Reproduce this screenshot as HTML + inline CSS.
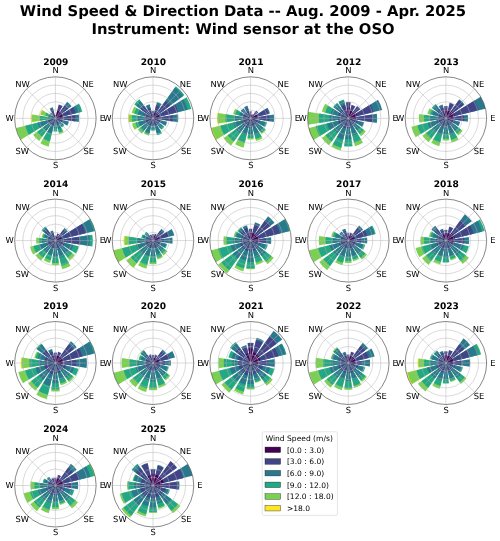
<!DOCTYPE html>
<html><head><meta charset="utf-8"><title>Wind Speed &amp; Direction Data</title>
<style>
html,body{margin:0;padding:0;background:#fff;}
body{width:500px;height:541px;overflow:hidden;}
svg{display:block;}
text{font-family:"DejaVu Sans","Liberation Sans",sans-serif;fill:#000;text-rendering:geometricPrecision;}
.t{font-weight:bold;font-size:14.8px;text-anchor:middle;}
.y{font-weight:bold;font-size:9.05px;text-anchor:middle;}
.d{font-size:8.4px;text-anchor:middle;}
.l{font-size:7.55px;}
.g{fill:none;stroke:#b0b0b0;stroke-width:.6;stroke-opacity:.8;}
.o{fill:none;stroke:#222;stroke-width:.55;}
.b path{stroke:none;}.b path.e{fill:none;stroke:#fff;stroke-width:.07;stroke-linejoin:round;}
</style></head><body>
<svg width="500" height="541" viewBox="0 0 500 541">
<rect width="500" height="541" fill="#fff"/>
<text class="t" x="243.0" y="16.4">Wind Speed &amp; Direction Data -- Aug. 2009 - Apr. 2025</text>
<text class="t" x="243.1" y="33.7">Instrument: Wind sensor at the OSO</text>

<g id="p2009">
<text class="y" x="55.8" y="64.6">2009</text>
<g transform="translate(55.4,118.3) scale(0.982,1)">
<g class="b">
<path fill="#414487" d="M0.00 0.00L-0.53 -3.32A3.36 3.36 0 0 1 0.53 -3.32L0.00 0.00Z"/>
<path fill="#440154" d="M0.00 0.00L-0.32 -1.99A2.02 2.02 0 0 1 0.32 -1.99L0.00 0.00Z"/>
<path class="e" d="M0.00 0.00L-0.53 -3.32A3.36 3.36 0 0 1 0.53 -3.32L0.00 0.00Z"/>
<path fill="#414487" d="M0.00 0.00L3.34 -13.92A14.32 14.32 0 0 1 7.48 -12.21L0.00 0.00Z"/>
<path fill="#440154" d="M0.00 0.00L2.04 -8.52A8.76 8.76 0 0 1 4.58 -7.47L0.00 0.00Z"/>
<path class="e" d="M0.00 0.00L3.34 -13.92A14.32 14.32 0 0 1 7.48 -12.21L0.00 0.00Z"/>
<path fill="#2a788e" d="M0.00 0.00L11.96 -16.46A20.34 20.34 0 0 1 16.46 -11.96L0.00 0.00Z"/>
<path fill="#414487" d="M0.00 0.00L9.57 -13.17A16.28 16.28 0 0 1 13.17 -9.57L0.00 0.00Z"/>
<path fill="#440154" d="M0.00 0.00L4.68 -6.45A7.97 7.97 0 0 1 6.45 -4.68L0.00 0.00Z"/>
<path class="e" d="M0.00 0.00L11.96 -16.46A20.34 20.34 0 0 1 16.46 -11.96L0.00 0.00Z"/>
<path fill="#22a884" d="M0.00 0.00L24.01 -14.71A28.15 28.15 0 0 1 27.38 -6.57L0.00 0.00Z"/>
<path fill="#2a788e" d="M0.00 0.00L22.11 -13.55A25.94 25.94 0 0 1 25.22 -6.05L0.00 0.00Z"/>
<path fill="#414487" d="M0.00 0.00L18.19 -11.14A21.33 21.33 0 0 1 20.74 -4.98L0.00 0.00Z"/>
<path fill="#440154" d="M0.00 0.00L6.69 -4.10A7.85 7.85 0 0 1 7.63 -1.83L0.00 0.00Z"/>
<path class="e" d="M0.00 0.00L24.01 -14.71A28.15 28.15 0 0 1 27.38 -6.57L0.00 0.00Z"/>
<path fill="#2a788e" d="M0.00 0.00L23.83 -3.77A24.12 24.12 0 0 1 23.83 3.77L0.00 0.00Z"/>
<path fill="#414487" d="M0.00 0.00L20.28 -3.21A20.53 20.53 0 0 1 20.28 3.21L0.00 0.00Z"/>
<path fill="#440154" d="M0.00 0.00L6.42 -1.02A6.50 6.50 0 0 1 6.42 1.02L0.00 0.00Z"/>
<path class="e" d="M0.00 0.00L23.83 -3.77A24.12 24.12 0 0 1 23.83 3.77L0.00 0.00Z"/>
<path fill="#2a788e" d="M0.00 0.00L13.77 3.31A14.16 14.16 0 0 1 12.08 7.40L0.00 0.00Z"/>
<path fill="#414487" d="M0.00 0.00L7.47 1.79A7.68 7.68 0 0 1 6.55 4.01L0.00 0.00Z"/>
<path fill="#440154" d="M0.00 0.00L2.99 0.72A3.07 3.07 0 0 1 2.62 1.60L0.00 0.00Z"/>
<path class="e" d="M0.00 0.00L13.77 3.31A14.16 14.16 0 0 1 12.08 7.40L0.00 0.00Z"/>
<path fill="#22a884" d="M0.00 0.00L9.19 6.68A11.36 11.36 0 0 1 6.68 9.19L0.00 0.00Z"/>
<path fill="#2a788e" d="M0.00 0.00L7.96 5.78A9.83 9.83 0 0 1 5.78 7.96L0.00 0.00Z"/>
<path fill="#414487" d="M0.00 0.00L4.53 3.29A5.59 5.59 0 0 1 3.29 4.53L0.00 0.00Z"/>
<path fill="#440154" d="M0.00 0.00L1.92 1.40A2.37 2.37 0 0 1 1.40 1.92L0.00 0.00Z"/>
<path class="e" d="M0.00 0.00L9.19 6.68A11.36 11.36 0 0 1 6.68 9.19L0.00 0.00Z"/>
<path fill="#7ad151" d="M0.00 0.00L8.45 13.79A16.17 16.17 0 0 1 3.78 15.73L0.00 0.00Z"/>
<path fill="#22a884" d="M0.00 0.00L7.66 12.50A14.66 14.66 0 0 1 3.42 14.25L0.00 0.00Z"/>
<path fill="#2a788e" d="M0.00 0.00L5.99 9.77A11.46 11.46 0 0 1 2.67 11.14L0.00 0.00Z"/>
<path fill="#414487" d="M0.00 0.00L3.52 5.75A6.74 6.74 0 0 1 1.57 6.55L0.00 0.00Z"/>
<path fill="#440154" d="M0.00 0.00L1.23 2.01A2.36 2.36 0 0 1 0.55 2.29L0.00 0.00Z"/>
<path class="e" d="M0.00 0.00L8.45 13.79A16.17 16.17 0 0 1 3.78 15.73L0.00 0.00Z"/>
<path fill="#22a884" d="M0.00 0.00L2.08 13.11A13.27 13.27 0 0 1 -2.08 13.11L0.00 0.00Z"/>
<path fill="#2a788e" d="M0.00 0.00L1.58 9.96A10.08 10.08 0 0 1 -1.58 9.96L0.00 0.00Z"/>
<path fill="#414487" d="M0.00 0.00L0.87 5.48A5.54 5.54 0 0 1 -0.87 5.48L0.00 0.00Z"/>
<path fill="#440154" d="M0.00 0.00L0.37 2.32A2.35 2.35 0 0 1 -0.37 2.32L0.00 0.00Z"/>
<path class="e" d="M0.00 0.00L2.08 13.11A13.27 13.27 0 0 1 -2.08 13.11L0.00 0.00Z"/>
<path fill="#7ad151" d="M0.00 0.00L-6.84 28.50A29.31 29.31 0 0 1 -15.32 24.99L0.00 0.00Z"/>
<path fill="#22a884" d="M0.00 0.00L-5.51 22.93A23.58 23.58 0 0 1 -12.32 20.11L0.00 0.00Z"/>
<path fill="#2a788e" d="M0.00 0.00L-3.66 15.23A15.67 15.67 0 0 1 -8.19 13.36L0.00 0.00Z"/>
<path fill="#414487" d="M0.00 0.00L-1.77 7.37A7.58 7.58 0 0 1 -3.96 6.46L0.00 0.00Z"/>
<path fill="#440154" d="M0.00 0.00L-0.55 2.29A2.36 2.36 0 0 1 -1.23 2.01L0.00 0.00Z"/>
<path class="e" d="M0.00 0.00L-6.84 28.50A29.31 29.31 0 0 1 -15.32 24.99L0.00 0.00Z"/>
<path fill="#7ad151" d="M0.00 0.00L-16.54 22.77A28.14 28.14 0 0 1 -22.77 16.54L0.00 0.00Z"/>
<path fill="#22a884" d="M0.00 0.00L-13.45 18.52A22.89 22.89 0 0 1 -18.52 13.45L0.00 0.00Z"/>
<path fill="#2a788e" d="M0.00 0.00L-8.97 12.34A15.26 15.26 0 0 1 -12.34 8.97L0.00 0.00Z"/>
<path fill="#414487" d="M0.00 0.00L-4.48 6.17A7.63 7.63 0 0 1 -6.17 4.48L0.00 0.00Z"/>
<path fill="#440154" d="M0.00 0.00L-1.40 1.92A2.37 2.37 0 0 1 -1.92 1.40L0.00 0.00Z"/>
<path class="e" d="M0.00 0.00L-16.54 22.77A28.14 28.14 0 0 1 -22.77 16.54L0.00 0.00Z"/>
<path fill="#7ad151" d="M0.00 0.00L-35.06 21.49A41.12 41.12 0 0 1 -39.99 9.60L0.00 0.00Z"/>
<path fill="#22a884" d="M0.00 0.00L-26.92 16.49A31.57 31.57 0 0 1 -30.70 7.37L0.00 0.00Z"/>
<path fill="#2a788e" d="M0.00 0.00L-15.71 9.63A18.43 18.43 0 0 1 -17.92 4.30L0.00 0.00Z"/>
<path fill="#414487" d="M0.00 0.00L-7.27 4.46A8.53 8.53 0 0 1 -8.30 1.99L0.00 0.00Z"/>
<path fill="#440154" d="M0.00 0.00L-2.04 1.25A2.39 2.39 0 0 1 -2.32 0.56L0.00 0.00Z"/>
<path class="e" d="M0.00 0.00L-35.06 21.49A41.12 41.12 0 0 1 -39.99 9.60L0.00 0.00Z"/>
<path fill="#fde725" d="M0.00 0.00L-24.67 3.91A24.98 24.98 0 0 1 -24.67 -3.91L0.00 0.00Z"/>
<path fill="#7ad151" d="M0.00 0.00L-23.66 3.75A23.95 23.95 0 0 1 -23.66 -3.75L0.00 0.00Z"/>
<path fill="#22a884" d="M0.00 0.00L-15.72 2.49A15.91 15.91 0 0 1 -15.72 -2.49L0.00 0.00Z"/>
<path fill="#2a788e" d="M0.00 0.00L-8.79 1.39A8.90 8.90 0 0 1 -8.79 -1.39L0.00 0.00Z"/>
<path fill="#414487" d="M0.00 0.00L-4.22 0.67A4.28 4.28 0 0 1 -4.22 -0.67L0.00 0.00Z"/>
<path fill="#440154" d="M0.00 0.00L-2.03 0.32A2.05 2.05 0 0 1 -2.03 -0.32L0.00 0.00Z"/>
<path class="e" d="M0.00 0.00L-24.67 3.91A24.98 24.98 0 0 1 -24.67 -3.91L0.00 0.00Z"/>
<path fill="#fde725" d="M0.00 0.00L-15.93 -3.82A16.38 16.38 0 0 1 -13.97 -8.56L0.00 0.00Z"/>
<path fill="#7ad151" d="M0.00 0.00L-15.10 -3.62A15.53 15.53 0 0 1 -13.24 -8.11L0.00 0.00Z"/>
<path fill="#22a884" d="M0.00 0.00L-10.29 -2.47A10.58 10.58 0 0 1 -9.02 -5.53L0.00 0.00Z"/>
<path fill="#2a788e" d="M0.00 0.00L-6.97 -1.67A7.17 7.17 0 0 1 -6.11 -3.74L0.00 0.00Z"/>
<path fill="#414487" d="M0.00 0.00L-3.65 -0.88A3.75 3.75 0 0 1 -3.20 -1.96L0.00 0.00Z"/>
<path fill="#440154" d="M0.00 0.00L-1.99 -0.48A2.05 2.05 0 0 1 -1.75 -1.07L0.00 0.00Z"/>
<path class="e" d="M0.00 0.00L-15.93 -3.82A16.38 16.38 0 0 1 -13.97 -8.56L0.00 0.00Z"/>
<path fill="#2a788e" d="M0.00 0.00L-5.76 -4.19A7.12 7.12 0 0 1 -4.19 -5.76L0.00 0.00Z"/>
<path fill="#414487" d="M0.00 0.00L-2.74 -1.99A3.39 3.39 0 0 1 -1.99 -2.74L0.00 0.00Z"/>
<path fill="#440154" d="M0.00 0.00L-1.65 -1.20A2.03 2.03 0 0 1 -1.20 -1.65L0.00 0.00Z"/>
<path class="e" d="M0.00 0.00L-5.76 -4.19A7.12 7.12 0 0 1 -4.19 -5.76L0.00 0.00Z"/>
<path fill="#2a788e" d="M0.00 0.00L-5.90 -9.62A11.29 11.29 0 0 1 -2.63 -10.97L0.00 0.00Z"/>
<path fill="#414487" d="M0.00 0.00L-4.93 -8.04A9.43 9.43 0 0 1 -2.20 -9.17L0.00 0.00Z"/>
<path fill="#440154" d="M0.00 0.00L-1.94 -3.16A3.71 3.71 0 0 1 -0.87 -3.60L0.00 0.00Z"/>
<path class="e" d="M0.00 0.00L-5.90 -9.62A11.29 11.29 0 0 1 -2.63 -10.97L0.00 0.00Z"/>
</g>
<circle class="g" cx="0" cy="0" r="8.30"/><circle class="g" cx="0" cy="0" r="16.60"/><circle class="g" cx="0" cy="0" r="24.90"/><circle class="g" cx="0" cy="0" r="33.20"/><path class="g" d="M0 0L0.00 -41.50M0 0L29.34 -29.34M0 0L41.50 -0.00M0 0L29.34 29.34M0 0L0.00 41.50M0 0L-29.34 29.34M0 0L-41.50 0.00M0 0L-29.34 -29.34"/><circle class="o" cx="0" cy="0" r="41.50"/>
</g>
<text class="d" x="55.6" y="73.3">N</text>
<text class="d" x="88.0" y="87.2">NE</text>
<text class="d" x="102.3" y="120.9">E</text>
<text class="d" x="88.7" y="154.3">SE</text>
<text class="d" x="55.6" y="168.2">S</text>
<text class="d" x="22.3" y="154.3">SW</text>
<text class="d" x="9.7" y="120.9">W</text>
<text class="d" x="22.5" y="87.2">NW</text>
</g>
<g id="p2010">
<text class="y" x="153.4" y="64.6">2010</text>
<g transform="translate(153.0,118.3) scale(0.982,1)">
<g class="b">
<path fill="#414487" d="M0.00 0.00L-1.13 -7.14A7.22 7.22 0 0 1 1.13 -7.14L0.00 0.00Z"/>
<path fill="#440154" d="M0.00 0.00L-0.68 -4.31A4.37 4.37 0 0 1 0.68 -4.31L0.00 0.00Z"/>
<path class="e" d="M0.00 0.00L-1.13 -7.14A7.22 7.22 0 0 1 1.13 -7.14L0.00 0.00Z"/>
<path fill="#2a788e" d="M0.00 0.00L3.93 -16.38A16.85 16.85 0 0 1 8.80 -14.36L0.00 0.00Z"/>
<path fill="#414487" d="M0.00 0.00L3.11 -12.94A13.31 13.31 0 0 1 6.95 -11.35L0.00 0.00Z"/>
<path fill="#440154" d="M0.00 0.00L1.30 -5.41A5.56 5.56 0 0 1 2.90 -4.74L0.00 0.00Z"/>
<path class="e" d="M0.00 0.00L3.93 -16.38A16.85 16.85 0 0 1 8.80 -14.36L0.00 0.00Z"/>
<path fill="#22a884" d="M0.00 0.00L23.22 -31.96A39.50 39.50 0 0 1 31.96 -23.22L0.00 0.00Z"/>
<path fill="#2a788e" d="M0.00 0.00L22.42 -30.86A38.15 38.15 0 0 1 30.86 -22.42L0.00 0.00Z"/>
<path fill="#414487" d="M0.00 0.00L12.66 -17.42A21.53 21.53 0 0 1 17.42 -12.66L0.00 0.00Z"/>
<path fill="#440154" d="M0.00 0.00L3.69 -5.07A6.27 6.27 0 0 1 5.07 -3.69L0.00 0.00Z"/>
<path class="e" d="M0.00 0.00L23.22 -31.96A39.50 39.50 0 0 1 31.96 -23.22L0.00 0.00Z"/>
<path fill="#22a884" d="M0.00 0.00L34.19 -20.95A40.10 40.10 0 0 1 38.99 -9.36L0.00 0.00Z"/>
<path fill="#2a788e" d="M0.00 0.00L30.99 -18.99A36.35 36.35 0 0 1 35.34 -8.48L0.00 0.00Z"/>
<path fill="#414487" d="M0.00 0.00L22.41 -13.73A26.28 26.28 0 0 1 25.55 -6.13L0.00 0.00Z"/>
<path fill="#440154" d="M0.00 0.00L5.53 -3.39A6.48 6.48 0 0 1 6.30 -1.51L0.00 0.00Z"/>
<path class="e" d="M0.00 0.00L34.19 -20.95A40.10 40.10 0 0 1 38.99 -9.36L0.00 0.00Z"/>
<path fill="#2a788e" d="M0.00 0.00L25.52 -4.04A25.84 25.84 0 0 1 25.52 4.04L0.00 0.00Z"/>
<path fill="#414487" d="M0.00 0.00L19.94 -3.16A20.19 20.19 0 0 1 19.94 3.16L0.00 0.00Z"/>
<path fill="#440154" d="M0.00 0.00L5.58 -0.88A5.65 5.65 0 0 1 5.58 0.88L0.00 0.00Z"/>
<path class="e" d="M0.00 0.00L25.52 -4.04A25.84 25.84 0 0 1 25.52 4.04L0.00 0.00Z"/>
<path fill="#2a788e" d="M0.00 0.00L14.44 3.47A14.85 14.85 0 0 1 12.66 7.76L0.00 0.00Z"/>
<path fill="#414487" d="M0.00 0.00L7.96 1.91A8.19 8.19 0 0 1 6.98 4.28L0.00 0.00Z"/>
<path fill="#440154" d="M0.00 0.00L2.82 0.68A2.90 2.90 0 0 1 2.47 1.52L0.00 0.00Z"/>
<path class="e" d="M0.00 0.00L14.44 3.47A14.85 14.85 0 0 1 12.66 7.76L0.00 0.00Z"/>
<path fill="#22a884" d="M0.00 0.00L11.52 8.37A14.24 14.24 0 0 1 8.37 11.52L0.00 0.00Z"/>
<path fill="#2a788e" d="M0.00 0.00L9.88 7.17A12.21 12.21 0 0 1 7.17 9.88L0.00 0.00Z"/>
<path fill="#414487" d="M0.00 0.00L6.17 4.48A7.63 7.63 0 0 1 4.48 6.17L0.00 0.00Z"/>
<path fill="#440154" d="M0.00 0.00L2.19 1.59A2.71 2.71 0 0 1 1.59 2.19L0.00 0.00Z"/>
<path class="e" d="M0.00 0.00L11.52 8.37A14.24 14.24 0 0 1 8.37 11.52L0.00 0.00Z"/>
<path fill="#22a884" d="M0.00 0.00L9.15 14.94A17.52 17.52 0 0 1 4.09 17.04L0.00 0.00Z"/>
<path fill="#2a788e" d="M0.00 0.00L8.10 13.21A15.50 15.50 0 0 1 3.62 15.07L0.00 0.00Z"/>
<path fill="#414487" d="M0.00 0.00L4.22 6.89A8.09 8.09 0 0 1 1.89 7.86L0.00 0.00Z"/>
<path fill="#440154" d="M0.00 0.00L1.41 2.30A2.70 2.70 0 0 1 0.63 2.62L0.00 0.00Z"/>
<path class="e" d="M0.00 0.00L9.15 14.94A17.52 17.52 0 0 1 4.09 17.04L0.00 0.00Z"/>
<path fill="#22a884" d="M0.00 0.00L1.94 12.28A12.43 12.43 0 0 1 -1.94 12.28L0.00 0.00Z"/>
<path fill="#2a788e" d="M0.00 0.00L1.73 10.95A11.09 11.09 0 0 1 -1.73 10.95L0.00 0.00Z"/>
<path fill="#414487" d="M0.00 0.00L1.13 7.14A7.22 7.22 0 0 1 -1.13 7.14L0.00 0.00Z"/>
<path fill="#440154" d="M0.00 0.00L0.42 2.66A2.69 2.69 0 0 1 -0.42 2.66L0.00 0.00Z"/>
<path class="e" d="M0.00 0.00L1.94 12.28A12.43 12.43 0 0 1 -1.94 12.28L0.00 0.00Z"/>
<path fill="#7ad151" d="M0.00 0.00L-4.17 17.36A17.86 17.86 0 0 1 -9.33 15.23L0.00 0.00Z"/>
<path fill="#22a884" d="M0.00 0.00L-3.85 16.05A16.51 16.51 0 0 1 -8.63 14.08L0.00 0.00Z"/>
<path fill="#2a788e" d="M0.00 0.00L-3.54 14.74A15.16 15.16 0 0 1 -7.92 12.93L0.00 0.00Z"/>
<path fill="#414487" d="M0.00 0.00L-1.97 8.19A8.42 8.42 0 0 1 -4.40 7.18L0.00 0.00Z"/>
<path fill="#440154" d="M0.00 0.00L-0.63 2.62A2.70 2.70 0 0 1 -1.41 2.30L0.00 0.00Z"/>
<path class="e" d="M0.00 0.00L-4.17 17.36A17.86 17.86 0 0 1 -9.33 15.23L0.00 0.00Z"/>
<path fill="#7ad151" d="M0.00 0.00L-11.26 15.50A19.16 19.16 0 0 1 -15.50 11.26L0.00 0.00Z"/>
<path fill="#22a884" d="M0.00 0.00L-9.97 13.72A16.95 16.95 0 0 1 -13.72 9.97L0.00 0.00Z"/>
<path fill="#2a788e" d="M0.00 0.00L-8.47 11.66A14.41 14.41 0 0 1 -11.66 8.47L0.00 0.00Z"/>
<path fill="#414487" d="M0.00 0.00L-4.98 6.86A8.48 8.48 0 0 1 -6.86 4.98L0.00 0.00Z"/>
<path fill="#440154" d="M0.00 0.00L-1.59 2.19A2.71 2.71 0 0 1 -2.19 1.59L0.00 0.00Z"/>
<path class="e" d="M0.00 0.00L-11.26 15.50A19.16 19.16 0 0 1 -15.50 11.26L0.00 0.00Z"/>
<path fill="#7ad151" d="M0.00 0.00L-18.77 11.50A22.01 22.01 0 0 1 -21.40 5.14L0.00 0.00Z"/>
<path fill="#22a884" d="M0.00 0.00L-15.71 9.63A18.43 18.43 0 0 1 -17.92 4.30L0.00 0.00Z"/>
<path fill="#2a788e" d="M0.00 0.00L-12.80 7.85A15.02 15.02 0 0 1 -14.60 3.51L0.00 0.00Z"/>
<path fill="#414487" d="M0.00 0.00L-7.57 4.64A8.87 8.87 0 0 1 -8.63 2.07L0.00 0.00Z"/>
<path fill="#440154" d="M0.00 0.00L-2.33 1.43A2.73 2.73 0 0 1 -2.65 0.64L0.00 0.00Z"/>
<path class="e" d="M0.00 0.00L-18.77 11.50A22.01 22.01 0 0 1 -21.40 5.14L0.00 0.00Z"/>
<path fill="#fde725" d="M0.00 0.00L-25.18 3.99A25.49 25.49 0 0 1 -25.18 -3.99L0.00 0.00Z"/>
<path fill="#7ad151" d="M0.00 0.00L-24.17 3.83A24.47 24.47 0 0 1 -24.17 -3.83L0.00 0.00Z"/>
<path fill="#22a884" d="M0.00 0.00L-21.12 3.35A21.39 21.39 0 0 1 -21.12 -3.35L0.00 0.00Z"/>
<path fill="#2a788e" d="M0.00 0.00L-15.55 2.46A15.74 15.74 0 0 1 -15.55 -2.46L0.00 0.00Z"/>
<path fill="#414487" d="M0.00 0.00L-8.79 1.39A8.90 8.90 0 0 1 -8.79 -1.39L0.00 0.00Z"/>
<path fill="#440154" d="M0.00 0.00L-2.70 0.43A2.74 2.74 0 0 1 -2.70 -0.43L0.00 0.00Z"/>
<path class="e" d="M0.00 0.00L-25.18 3.99A25.49 25.49 0 0 1 -25.18 -3.99L0.00 0.00Z"/>
<path fill="#7ad151" d="M0.00 0.00L-21.74 -5.22A22.35 22.35 0 0 1 -19.06 -11.68L0.00 0.00Z"/>
<path fill="#22a884" d="M0.00 0.00L-19.08 -4.58A19.62 19.62 0 0 1 -16.73 -10.25L0.00 0.00Z"/>
<path fill="#2a788e" d="M0.00 0.00L-16.26 -3.90A16.72 16.72 0 0 1 -14.26 -8.74L0.00 0.00Z"/>
<path fill="#414487" d="M0.00 0.00L-9.13 -2.19A9.38 9.38 0 0 1 -8.00 -4.90L0.00 0.00Z"/>
<path fill="#440154" d="M0.00 0.00L-2.65 -0.64A2.73 2.73 0 0 1 -2.33 -1.43L0.00 0.00Z"/>
<path class="e" d="M0.00 0.00L-21.74 -5.22A22.35 22.35 0 0 1 -19.06 -11.68L0.00 0.00Z"/>
<path fill="#22a884" d="M0.00 0.00L-19.06 -13.85A23.57 23.57 0 0 1 -13.85 -19.06L0.00 0.00Z"/>
<path fill="#2a788e" d="M0.00 0.00L-17.14 -12.46A21.19 21.19 0 0 1 -12.46 -17.14L0.00 0.00Z"/>
<path fill="#414487" d="M0.00 0.00L-12.62 -9.17A15.60 15.60 0 0 1 -9.17 -12.62L0.00 0.00Z"/>
<path fill="#440154" d="M0.00 0.00L-2.47 -1.79A3.05 3.05 0 0 1 -1.79 -2.47L0.00 0.00Z"/>
<path class="e" d="M0.00 0.00L-19.06 -13.85A23.57 23.57 0 0 1 -13.85 -19.06L0.00 0.00Z"/>
<path fill="#2a788e" d="M0.00 0.00L-7.57 -12.35A14.49 14.49 0 0 1 -3.38 -14.09L0.00 0.00Z"/>
<path fill="#414487" d="M0.00 0.00L-5.63 -9.19A10.78 10.78 0 0 1 -2.52 -10.48L0.00 0.00Z"/>
<path fill="#440154" d="M0.00 0.00L-1.94 -3.16A3.71 3.71 0 0 1 -0.87 -3.60L0.00 0.00Z"/>
<path class="e" d="M0.00 0.00L-7.57 -12.35A14.49 14.49 0 0 1 -3.38 -14.09L0.00 0.00Z"/>
</g>
<circle class="g" cx="0" cy="0" r="8.30"/><circle class="g" cx="0" cy="0" r="16.60"/><circle class="g" cx="0" cy="0" r="24.90"/><circle class="g" cx="0" cy="0" r="33.20"/><path class="g" d="M0 0L0.00 -41.50M0 0L29.34 -29.34M0 0L41.50 -0.00M0 0L29.34 29.34M0 0L0.00 41.50M0 0L-29.34 29.34M0 0L-41.50 0.00M0 0L-29.34 -29.34"/><circle class="o" cx="0" cy="0" r="41.50"/>
</g>
<text class="d" x="153.2" y="73.3">N</text>
<text class="d" x="185.6" y="87.2">NE</text>
<text class="d" x="199.9" y="120.9">E</text>
<text class="d" x="186.2" y="154.3">SE</text>
<text class="d" x="153.2" y="168.2">S</text>
<text class="d" x="119.9" y="154.3">SW</text>
<text class="d" x="107.3" y="120.9">W</text>
<text class="d" x="120.2" y="87.2">NW</text>
</g>
<g id="p2011">
<text class="y" x="251.0" y="64.6">2011</text>
<g transform="translate(250.6,118.3) scale(0.982,1)">
<g class="b">
<path fill="#414487" d="M0.00 0.00L-1.10 -6.97A7.06 7.06 0 0 1 1.10 -6.97L0.00 0.00Z"/>
<path fill="#440154" d="M0.00 0.00L-0.60 -3.82A3.86 3.86 0 0 1 0.60 -3.82L0.00 0.00Z"/>
<path class="e" d="M0.00 0.00L-1.10 -6.97A7.06 7.06 0 0 1 1.10 -6.97L0.00 0.00Z"/>
<path fill="#414487" d="M0.00 0.00L1.06 -4.42A4.55 4.55 0 0 1 2.38 -3.88L0.00 0.00Z"/>
<path fill="#440154" d="M0.00 0.00L0.71 -2.95A3.03 3.03 0 0 1 1.58 -2.59L0.00 0.00Z"/>
<path class="e" d="M0.00 0.00L1.06 -4.42A4.55 4.55 0 0 1 2.38 -3.88L0.00 0.00Z"/>
<path fill="#414487" d="M0.00 0.00L5.68 -7.82A9.66 9.66 0 0 1 7.82 -5.68L0.00 0.00Z"/>
<path fill="#440154" d="M0.00 0.00L2.49 -3.43A4.24 4.24 0 0 1 3.43 -2.49L0.00 0.00Z"/>
<path class="e" d="M0.00 0.00L5.68 -7.82A9.66 9.66 0 0 1 7.82 -5.68L0.00 0.00Z"/>
<path fill="#2a788e" d="M0.00 0.00L17.31 -10.61A20.31 20.31 0 0 1 19.74 -4.74L0.00 0.00Z"/>
<path fill="#414487" d="M0.00 0.00L16.15 -9.90A18.94 18.94 0 0 1 18.42 -4.42L0.00 0.00Z"/>
<path fill="#440154" d="M0.00 0.00L5.97 -3.66A7.00 7.00 0 0 1 6.80 -1.63L0.00 0.00Z"/>
<path class="e" d="M0.00 0.00L17.31 -10.61A20.31 20.31 0 0 1 19.74 -4.74L0.00 0.00Z"/>
<path fill="#2a788e" d="M0.00 0.00L23.66 -3.75A23.95 23.95 0 0 1 23.66 3.75L0.00 0.00Z"/>
<path fill="#414487" d="M0.00 0.00L18.93 -3.00A19.16 19.16 0 0 1 18.93 3.00L0.00 0.00Z"/>
<path fill="#440154" d="M0.00 0.00L6.08 -0.96A6.16 6.16 0 0 1 6.08 0.96L0.00 0.00Z"/>
<path class="e" d="M0.00 0.00L23.66 -3.75A23.95 23.95 0 0 1 23.66 3.75L0.00 0.00Z"/>
<path fill="#22a884" d="M0.00 0.00L16.76 4.02A17.23 17.23 0 0 1 14.69 9.00L0.00 0.00Z"/>
<path fill="#2a788e" d="M0.00 0.00L14.93 3.59A15.36 15.36 0 0 1 13.09 8.02L0.00 0.00Z"/>
<path fill="#414487" d="M0.00 0.00L9.29 2.23A9.56 9.56 0 0 1 8.15 4.99L0.00 0.00Z"/>
<path fill="#440154" d="M0.00 0.00L2.99 0.72A3.07 3.07 0 0 1 2.62 1.60L0.00 0.00Z"/>
<path class="e" d="M0.00 0.00L16.76 4.02A17.23 17.23 0 0 1 14.69 9.00L0.00 0.00Z"/>
<path fill="#7ad151" d="M0.00 0.00L15.77 11.46A19.50 19.50 0 0 1 11.46 15.77L0.00 0.00Z"/>
<path fill="#22a884" d="M0.00 0.00L14.81 10.76A18.31 18.31 0 0 1 10.76 14.81L0.00 0.00Z"/>
<path fill="#2a788e" d="M0.00 0.00L13.03 9.47A16.11 16.11 0 0 1 9.47 13.03L0.00 0.00Z"/>
<path fill="#414487" d="M0.00 0.00L7.13 5.18A8.82 8.82 0 0 1 5.18 7.13L0.00 0.00Z"/>
<path fill="#440154" d="M0.00 0.00L2.19 1.59A2.71 2.71 0 0 1 1.59 2.19L0.00 0.00Z"/>
<path class="e" d="M0.00 0.00L15.77 11.46A19.50 19.50 0 0 1 11.46 15.77L0.00 0.00Z"/>
<path fill="#7ad151" d="M0.00 0.00L12.23 19.96A23.42 23.42 0 0 1 5.47 22.77L0.00 0.00Z"/>
<path fill="#22a884" d="M0.00 0.00L11.18 18.24A21.39 21.39 0 0 1 4.99 20.80L0.00 0.00Z"/>
<path fill="#2a788e" d="M0.00 0.00L8.98 14.65A17.18 17.18 0 0 1 4.01 16.71L0.00 0.00Z"/>
<path fill="#414487" d="M0.00 0.00L4.58 7.47A8.76 8.76 0 0 1 2.04 8.52L0.00 0.00Z"/>
<path fill="#440154" d="M0.00 0.00L1.41 2.30A2.70 2.70 0 0 1 0.63 2.62L0.00 0.00Z"/>
<path class="e" d="M0.00 0.00L12.23 19.96A23.42 23.42 0 0 1 5.47 22.77L0.00 0.00Z"/>
<path fill="#7ad151" d="M0.00 0.00L3.31 20.91A21.17 21.17 0 0 1 -3.31 20.91L0.00 0.00Z"/>
<path fill="#22a884" d="M0.00 0.00L3.08 19.42A19.66 19.66 0 0 1 -3.08 19.42L0.00 0.00Z"/>
<path fill="#2a788e" d="M0.00 0.00L2.58 16.26A16.47 16.47 0 0 1 -2.58 16.26L0.00 0.00Z"/>
<path fill="#414487" d="M0.00 0.00L1.45 9.13A9.24 9.24 0 0 1 -1.45 9.13L0.00 0.00Z"/>
<path fill="#440154" d="M0.00 0.00L0.42 2.66A2.69 2.69 0 0 1 -0.42 2.66L0.00 0.00Z"/>
<path class="e" d="M0.00 0.00L3.31 20.91A21.17 21.17 0 0 1 -3.31 20.91L0.00 0.00Z"/>
<path fill="#7ad151" d="M0.00 0.00L-7.08 29.48A30.32 30.32 0 0 1 -15.84 25.85L0.00 0.00Z"/>
<path fill="#22a884" d="M0.00 0.00L-5.90 24.57A25.27 25.27 0 0 1 -13.20 21.54L0.00 0.00Z"/>
<path fill="#2a788e" d="M0.00 0.00L-4.01 16.71A17.18 17.18 0 0 1 -8.98 14.65L0.00 0.00Z"/>
<path fill="#414487" d="M0.00 0.00L-2.28 9.50A9.77 9.77 0 0 1 -5.11 8.33L0.00 0.00Z"/>
<path fill="#440154" d="M0.00 0.00L-0.63 2.62A2.70 2.70 0 0 1 -1.41 2.30L0.00 0.00Z"/>
<path class="e" d="M0.00 0.00L-7.08 29.48A30.32 30.32 0 0 1 -15.84 25.85L0.00 0.00Z"/>
<path fill="#7ad151" d="M0.00 0.00L-20.03 27.57A34.08 34.08 0 0 1 -27.57 20.03L0.00 0.00Z"/>
<path fill="#22a884" d="M0.00 0.00L-16.94 23.32A28.82 28.82 0 0 1 -23.32 16.94L0.00 0.00Z"/>
<path fill="#2a788e" d="M0.00 0.00L-10.76 14.81A18.31 18.31 0 0 1 -14.81 10.76L0.00 0.00Z"/>
<path fill="#414487" d="M0.00 0.00L-5.58 7.68A9.49 9.49 0 0 1 -7.68 5.58L0.00 0.00Z"/>
<path fill="#440154" d="M0.00 0.00L-1.59 2.19A2.71 2.71 0 0 1 -2.19 1.59L0.00 0.00Z"/>
<path class="e" d="M0.00 0.00L-20.03 27.57A34.08 34.08 0 0 1 -27.57 20.03L0.00 0.00Z"/>
<path fill="#fde725" d="M0.00 0.00L-35.26 21.61A41.35 41.35 0 0 1 -40.21 9.65L0.00 0.00Z"/>
<path fill="#7ad151" d="M0.00 0.00L-34.63 21.22A40.61 40.61 0 0 1 -39.49 9.48L0.00 0.00Z"/>
<path fill="#22a884" d="M0.00 0.00L-26.92 16.49A31.57 31.57 0 0 1 -30.70 7.37L0.00 0.00Z"/>
<path fill="#2a788e" d="M0.00 0.00L-15.42 9.45A18.09 18.09 0 0 1 -17.59 4.22L0.00 0.00Z"/>
<path fill="#414487" d="M0.00 0.00L-8.29 5.08A9.73 9.73 0 0 1 -9.46 2.27L0.00 0.00Z"/>
<path fill="#440154" d="M0.00 0.00L-2.33 1.43A2.73 2.73 0 0 1 -2.65 0.64L0.00 0.00Z"/>
<path class="e" d="M0.00 0.00L-35.26 21.61A41.35 41.35 0 0 1 -40.21 9.65L0.00 0.00Z"/>
<path fill="#fde725" d="M0.00 0.00L-33.97 5.38A34.39 34.39 0 0 1 -33.97 -5.38L0.00 0.00Z"/>
<path fill="#7ad151" d="M0.00 0.00L-33.29 5.27A33.71 33.71 0 0 1 -33.29 -5.27L0.00 0.00Z"/>
<path fill="#22a884" d="M0.00 0.00L-25.35 4.01A25.66 25.66 0 0 1 -25.35 -4.01L0.00 0.00Z"/>
<path fill="#2a788e" d="M0.00 0.00L-16.05 2.54A16.25 16.25 0 0 1 -16.05 -2.54L0.00 0.00Z"/>
<path fill="#414487" d="M0.00 0.00L-8.11 1.28A8.21 8.21 0 0 1 -8.11 -1.28L0.00 0.00Z"/>
<path fill="#440154" d="M0.00 0.00L-2.70 0.43A2.74 2.74 0 0 1 -2.70 -0.43L0.00 0.00Z"/>
<path class="e" d="M0.00 0.00L-33.97 5.38A34.39 34.39 0 0 1 -33.97 -5.38L0.00 0.00Z"/>
<path fill="#7ad151" d="M0.00 0.00L-17.92 -4.30A18.43 18.43 0 0 1 -15.71 -9.63L0.00 0.00Z"/>
<path fill="#22a884" d="M0.00 0.00L-15.76 -3.78A16.21 16.21 0 0 1 -13.82 -8.47L0.00 0.00Z"/>
<path fill="#2a788e" d="M0.00 0.00L-11.61 -2.79A11.94 11.94 0 0 1 -10.18 -6.24L0.00 0.00Z"/>
<path fill="#414487" d="M0.00 0.00L-8.30 -1.99A8.53 8.53 0 0 1 -7.27 -4.46L0.00 0.00Z"/>
<path fill="#440154" d="M0.00 0.00L-2.65 -0.64A2.73 2.73 0 0 1 -2.33 -1.43L0.00 0.00Z"/>
<path class="e" d="M0.00 0.00L-17.92 -4.30A18.43 18.43 0 0 1 -15.71 -9.63L0.00 0.00Z"/>
<path fill="#2a788e" d="M0.00 0.00L-10.01 -7.27A12.38 12.38 0 0 1 -7.27 -10.01L0.00 0.00Z"/>
<path fill="#414487" d="M0.00 0.00L-6.17 -4.48A7.63 7.63 0 0 1 -4.48 -6.17L0.00 0.00Z"/>
<path fill="#440154" d="M0.00 0.00L-1.92 -1.40A2.37 2.37 0 0 1 -1.40 -1.92L0.00 0.00Z"/>
<path class="e" d="M0.00 0.00L-10.01 -7.27A12.38 12.38 0 0 1 -7.27 -10.01L0.00 0.00Z"/>
<path fill="#2a788e" d="M0.00 0.00L-6.69 -10.92A12.80 12.80 0 0 1 -2.99 -12.45L0.00 0.00Z"/>
<path fill="#414487" d="M0.00 0.00L-5.11 -8.33A9.77 9.77 0 0 1 -2.28 -9.50L0.00 0.00Z"/>
<path fill="#440154" d="M0.00 0.00L-1.41 -2.30A2.70 2.70 0 0 1 -0.63 -2.62L0.00 0.00Z"/>
<path class="e" d="M0.00 0.00L-6.69 -10.92A12.80 12.80 0 0 1 -2.99 -12.45L0.00 0.00Z"/>
</g>
<circle class="g" cx="0" cy="0" r="8.30"/><circle class="g" cx="0" cy="0" r="16.60"/><circle class="g" cx="0" cy="0" r="24.90"/><circle class="g" cx="0" cy="0" r="33.20"/><path class="g" d="M0 0L0.00 -41.50M0 0L29.34 -29.34M0 0L41.50 -0.00M0 0L29.34 29.34M0 0L0.00 41.50M0 0L-29.34 29.34M0 0L-41.50 0.00M0 0L-29.34 -29.34"/><circle class="o" cx="0" cy="0" r="41.50"/>
</g>
<text class="d" x="250.8" y="73.3">N</text>
<text class="d" x="283.2" y="87.2">NE</text>
<text class="d" x="297.5" y="120.9">E</text>
<text class="d" x="283.9" y="154.3">SE</text>
<text class="d" x="250.8" y="168.2">S</text>
<text class="d" x="217.5" y="154.3">SW</text>
<text class="d" x="204.9" y="120.9">W</text>
<text class="d" x="217.8" y="87.2">NW</text>
</g>
<g id="p2012">
<text class="y" x="348.7" y="64.6">2012</text>
<g transform="translate(348.3,118.3) scale(0.982,1)">
<g class="b">
<path fill="#414487" d="M0.00 0.00L-2.55 -16.10A16.30 16.30 0 0 1 2.55 -16.10L0.00 0.00Z"/>
<path fill="#440154" d="M0.00 0.00L-1.68 -10.62A10.75 10.75 0 0 1 1.68 -10.62L0.00 0.00Z"/>
<path class="e" d="M0.00 0.00L-2.55 -16.10A16.30 16.30 0 0 1 2.55 -16.10L0.00 0.00Z"/>
<path fill="#414487" d="M0.00 0.00L3.22 -13.43A13.81 13.81 0 0 1 7.22 -11.78L0.00 0.00Z"/>
<path fill="#440154" d="M0.00 0.00L1.89 -7.86A8.09 8.09 0 0 1 4.22 -6.89L0.00 0.00Z"/>
<path class="e" d="M0.00 0.00L3.22 -13.43A13.81 13.81 0 0 1 7.22 -11.78L0.00 0.00Z"/>
<path fill="#414487" d="M0.00 0.00L8.97 -12.34A15.26 15.26 0 0 1 12.34 -8.97L0.00 0.00Z"/>
<path fill="#440154" d="M0.00 0.00L5.18 -7.13A8.82 8.82 0 0 1 7.13 -5.18L0.00 0.00Z"/>
<path class="e" d="M0.00 0.00L8.97 -12.34A15.26 15.26 0 0 1 12.34 -8.97L0.00 0.00Z"/>
<path fill="#2a788e" d="M0.00 0.00L30.26 -18.54A35.49 35.49 0 0 1 34.51 -8.29L0.00 0.00Z"/>
<path fill="#414487" d="M0.00 0.00L22.55 -13.82A26.45 26.45 0 0 1 25.72 -6.17L0.00 0.00Z"/>
<path fill="#440154" d="M0.00 0.00L8.00 -4.90A9.38 9.38 0 0 1 9.13 -2.19L0.00 0.00Z"/>
<path class="e" d="M0.00 0.00L30.26 -18.54A35.49 35.49 0 0 1 34.51 -8.29L0.00 0.00Z"/>
<path fill="#2a788e" d="M0.00 0.00L29.07 -4.60A29.43 29.43 0 0 1 29.07 4.60L0.00 0.00Z"/>
<path fill="#414487" d="M0.00 0.00L24.50 -3.88A24.81 24.81 0 0 1 24.50 3.88L0.00 0.00Z"/>
<path fill="#440154" d="M0.00 0.00L8.11 -1.28A8.21 8.21 0 0 1 8.11 1.28L0.00 0.00Z"/>
<path class="e" d="M0.00 0.00L29.07 -4.60A29.43 29.43 0 0 1 29.07 4.60L0.00 0.00Z"/>
<path fill="#2a788e" d="M0.00 0.00L16.09 3.86A16.55 16.55 0 0 1 14.11 8.65L0.00 0.00Z"/>
<path fill="#414487" d="M0.00 0.00L9.46 2.27A9.73 9.73 0 0 1 8.29 5.08L0.00 0.00Z"/>
<path fill="#440154" d="M0.00 0.00L3.32 0.80A3.41 3.41 0 0 1 2.91 1.78L0.00 0.00Z"/>
<path class="e" d="M0.00 0.00L16.09 3.86A16.55 16.55 0 0 1 14.11 8.65L0.00 0.00Z"/>
<path fill="#7ad151" d="M0.00 0.00L17.83 12.95A22.04 22.04 0 0 1 12.95 17.83L0.00 0.00Z"/>
<path fill="#22a884" d="M0.00 0.00L15.77 11.46A19.50 19.50 0 0 1 11.46 15.77L0.00 0.00Z"/>
<path fill="#2a788e" d="M0.00 0.00L11.93 8.67A14.75 14.75 0 0 1 8.67 11.93L0.00 0.00Z"/>
<path fill="#414487" d="M0.00 0.00L7.54 5.48A9.32 9.32 0 0 1 5.48 7.54L0.00 0.00Z"/>
<path fill="#440154" d="M0.00 0.00L2.33 1.69A2.88 2.88 0 0 1 1.69 2.33L0.00 0.00Z"/>
<path class="e" d="M0.00 0.00L17.83 12.95A22.04 22.04 0 0 1 12.95 17.83L0.00 0.00Z"/>
<path fill="#7ad151" d="M0.00 0.00L14.96 24.42A28.64 28.64 0 0 1 6.69 27.85L0.00 0.00Z"/>
<path fill="#22a884" d="M0.00 0.00L13.20 21.54A25.27 25.27 0 0 1 5.90 24.57L0.00 0.00Z"/>
<path fill="#2a788e" d="M0.00 0.00L9.24 15.08A17.69 17.69 0 0 1 4.13 17.20L0.00 0.00Z"/>
<path fill="#414487" d="M0.00 0.00L5.02 8.19A9.60 9.60 0 0 1 2.24 9.34L0.00 0.00Z"/>
<path fill="#440154" d="M0.00 0.00L1.50 2.44A2.86 2.86 0 0 1 0.67 2.78L0.00 0.00Z"/>
<path class="e" d="M0.00 0.00L14.96 24.42A28.64 28.64 0 0 1 6.69 27.85L0.00 0.00Z"/>
<path fill="#22a884" d="M0.00 0.00L4.42 27.88A28.23 28.23 0 0 1 -4.42 27.88L0.00 0.00Z"/>
<path fill="#2a788e" d="M0.00 0.00L3.29 20.74A21.00 21.00 0 0 1 -3.29 20.74L0.00 0.00Z"/>
<path fill="#414487" d="M0.00 0.00L1.58 9.96A10.08 10.08 0 0 1 -1.58 9.96L0.00 0.00Z"/>
<path fill="#440154" d="M0.00 0.00L0.45 2.82A2.86 2.86 0 0 1 -0.45 2.82L0.00 0.00Z"/>
<path class="e" d="M0.00 0.00L4.42 27.88A28.23 28.23 0 0 1 -4.42 27.88L0.00 0.00Z"/>
<path fill="#7ad151" d="M0.00 0.00L-7.71 32.11A33.02 33.02 0 0 1 -17.25 28.15L0.00 0.00Z"/>
<path fill="#22a884" d="M0.00 0.00L-7.08 29.48A30.32 30.32 0 0 1 -15.84 25.85L0.00 0.00Z"/>
<path fill="#2a788e" d="M0.00 0.00L-5.11 21.29A21.90 21.90 0 0 1 -11.44 18.67L0.00 0.00Z"/>
<path fill="#414487" d="M0.00 0.00L-2.36 9.83A10.11 10.11 0 0 1 -5.28 8.62L0.00 0.00Z"/>
<path fill="#440154" d="M0.00 0.00L-0.67 2.78A2.86 2.86 0 0 1 -1.50 2.44L0.00 0.00Z"/>
<path class="e" d="M0.00 0.00L-7.71 32.11A33.02 33.02 0 0 1 -17.25 28.15L0.00 0.00Z"/>
<path fill="#7ad151" d="M0.00 0.00L-19.63 27.02A33.40 33.40 0 0 1 -27.02 19.63L0.00 0.00Z"/>
<path fill="#22a884" d="M0.00 0.00L-16.94 23.32A28.82 28.82 0 0 1 -23.32 16.94L0.00 0.00Z"/>
<path fill="#2a788e" d="M0.00 0.00L-10.76 14.81A18.31 18.31 0 0 1 -14.81 10.76L0.00 0.00Z"/>
<path fill="#414487" d="M0.00 0.00L-5.98 8.23A10.17 10.17 0 0 1 -8.23 5.98L0.00 0.00Z"/>
<path fill="#440154" d="M0.00 0.00L-1.69 2.33A2.88 2.88 0 0 1 -2.33 1.69L0.00 0.00Z"/>
<path class="e" d="M0.00 0.00L-19.63 27.02A33.40 33.40 0 0 1 -27.02 19.63L0.00 0.00Z"/>
<path fill="#7ad151" d="M0.00 0.00L-35.26 21.61A41.35 41.35 0 0 1 -40.21 9.65L0.00 0.00Z"/>
<path fill="#22a884" d="M0.00 0.00L-29.10 17.83A34.13 34.13 0 0 1 -33.18 7.97L0.00 0.00Z"/>
<path fill="#2a788e" d="M0.00 0.00L-18.91 11.59A22.18 22.18 0 0 1 -21.57 5.18L0.00 0.00Z"/>
<path fill="#414487" d="M0.00 0.00L-9.02 5.53A10.58 10.58 0 0 1 -10.29 2.47L0.00 0.00Z"/>
<path fill="#440154" d="M0.00 0.00L-2.47 1.52A2.90 2.90 0 0 1 -2.82 0.68L0.00 0.00Z"/>
<path class="e" d="M0.00 0.00L-35.26 21.61A41.35 41.35 0 0 1 -40.21 9.65L0.00 0.00Z"/>
<path fill="#7ad151" d="M0.00 0.00L-40.84 6.47A41.35 41.35 0 0 1 -40.84 -6.47L0.00 0.00Z"/>
<path fill="#22a884" d="M0.00 0.00L-29.57 4.68A29.94 29.94 0 0 1 -29.57 -4.68L0.00 0.00Z"/>
<path fill="#2a788e" d="M0.00 0.00L-18.93 3.00A19.16 19.16 0 0 1 -18.93 -3.00L0.00 0.00Z"/>
<path fill="#414487" d="M0.00 0.00L-10.48 1.66A10.61 10.61 0 0 1 -10.48 -1.66L0.00 0.00Z"/>
<path fill="#440154" d="M0.00 0.00L-2.87 0.46A2.91 2.91 0 0 1 -2.87 -0.46L0.00 0.00Z"/>
<path class="e" d="M0.00 0.00L-40.84 6.47A41.35 41.35 0 0 1 -40.84 -6.47L0.00 0.00Z"/>
<path fill="#7ad151" d="M0.00 0.00L-26.88 -6.45A27.64 27.64 0 0 1 -23.57 -14.44L0.00 0.00Z"/>
<path fill="#22a884" d="M0.00 0.00L-23.56 -5.66A24.23 24.23 0 0 1 -20.66 -12.66L0.00 0.00Z"/>
<path fill="#2a788e" d="M0.00 0.00L-17.92 -4.30A18.43 18.43 0 0 1 -15.71 -9.63L0.00 0.00Z"/>
<path fill="#414487" d="M0.00 0.00L-10.29 -2.47A10.58 10.58 0 0 1 -9.02 -5.53L0.00 0.00Z"/>
<path fill="#440154" d="M0.00 0.00L-2.82 -0.68A2.90 2.90 0 0 1 -2.47 -1.52L0.00 0.00Z"/>
<path class="e" d="M0.00 0.00L-26.88 -6.45A27.64 27.64 0 0 1 -23.57 -14.44L0.00 0.00Z"/>
<path fill="#22a884" d="M0.00 0.00L-15.50 -11.26A19.16 19.16 0 0 1 -11.26 -15.50L0.00 0.00Z"/>
<path fill="#2a788e" d="M0.00 0.00L-14.40 -10.46A17.80 17.80 0 0 1 -10.46 -14.40L0.00 0.00Z"/>
<path fill="#414487" d="M0.00 0.00L-8.92 -6.48A11.02 11.02 0 0 1 -6.48 -8.92L0.00 0.00Z"/>
<path fill="#440154" d="M0.00 0.00L-2.74 -1.99A3.39 3.39 0 0 1 -1.99 -2.74L0.00 0.00Z"/>
<path class="e" d="M0.00 0.00L-15.50 -11.26A19.16 19.16 0 0 1 -11.26 -15.50L0.00 0.00Z"/>
<path fill="#22a884" d="M0.00 0.00L-10.12 -16.52A19.37 19.37 0 0 1 -4.52 -18.84L0.00 0.00Z"/>
<path fill="#2a788e" d="M0.00 0.00L-9.33 -15.23A17.86 17.86 0 0 1 -4.17 -17.36L0.00 0.00Z"/>
<path fill="#414487" d="M0.00 0.00L-7.31 -11.92A13.98 13.98 0 0 1 -3.26 -13.60L0.00 0.00Z"/>
<path fill="#440154" d="M0.00 0.00L-2.20 -3.59A4.21 4.21 0 0 1 -0.98 -4.10L0.00 0.00Z"/>
<path class="e" d="M0.00 0.00L-10.12 -16.52A19.37 19.37 0 0 1 -4.52 -18.84L0.00 0.00Z"/>
</g>
<circle class="g" cx="0" cy="0" r="8.30"/><circle class="g" cx="0" cy="0" r="16.60"/><circle class="g" cx="0" cy="0" r="24.90"/><circle class="g" cx="0" cy="0" r="33.20"/><path class="g" d="M0 0L0.00 -41.50M0 0L29.34 -29.34M0 0L41.50 -0.00M0 0L29.34 29.34M0 0L0.00 41.50M0 0L-29.34 29.34M0 0L-41.50 0.00M0 0L-29.34 -29.34"/><circle class="o" cx="0" cy="0" r="41.50"/>
</g>
<text class="d" x="348.5" y="73.3">N</text>
<text class="d" x="380.9" y="87.2">NE</text>
<text class="d" x="395.2" y="120.9">E</text>
<text class="d" x="381.6" y="154.3">SE</text>
<text class="d" x="348.5" y="168.2">S</text>
<text class="d" x="315.2" y="154.3">SW</text>
<text class="d" x="302.6" y="120.9">W</text>
<text class="d" x="315.4" y="87.2">NW</text>
</g>
<g id="p2013">
<text class="y" x="446.3" y="64.6">2013</text>
<g transform="translate(445.9,118.3) scale(0.982,1)">
<g class="b">
<path fill="#414487" d="M0.00 0.00L-1.92 -12.11A12.27 12.27 0 0 1 1.92 -12.11L0.00 0.00Z"/>
<path fill="#440154" d="M0.00 0.00L-1.50 -9.46A9.58 9.58 0 0 1 1.50 -9.46L0.00 0.00Z"/>
<path class="e" d="M0.00 0.00L-1.92 -12.11A12.27 12.27 0 0 1 1.92 -12.11L0.00 0.00Z"/>
<path fill="#414487" d="M0.00 0.00L3.74 -15.56A16.00 16.00 0 0 1 8.36 -13.65L0.00 0.00Z"/>
<path fill="#440154" d="M0.00 0.00L1.97 -8.19A8.42 8.42 0 0 1 4.40 -7.18L0.00 0.00Z"/>
<path class="e" d="M0.00 0.00L3.74 -15.56A16.00 16.00 0 0 1 8.36 -13.65L0.00 0.00Z"/>
<path fill="#2a788e" d="M0.00 0.00L13.75 -18.93A23.40 23.40 0 0 1 18.93 -13.75L0.00 0.00Z"/>
<path fill="#414487" d="M0.00 0.00L13.05 -17.97A22.21 22.21 0 0 1 17.97 -13.05L0.00 0.00Z"/>
<path fill="#440154" d="M0.00 0.00L5.38 -7.41A9.15 9.15 0 0 1 7.41 -5.38L0.00 0.00Z"/>
<path class="e" d="M0.00 0.00L13.75 -18.93A23.40 23.40 0 0 1 18.93 -13.75L0.00 0.00Z"/>
<path fill="#2a788e" d="M0.00 0.00L35.26 -21.61A41.35 41.35 0 0 1 40.21 -9.65L0.00 0.00Z"/>
<path fill="#414487" d="M0.00 0.00L29.10 -17.83A34.13 34.13 0 0 1 33.18 -7.97L0.00 0.00Z"/>
<path fill="#440154" d="M0.00 0.00L8.00 -4.90A9.38 9.38 0 0 1 9.13 -2.19L0.00 0.00Z"/>
<path class="e" d="M0.00 0.00L35.26 -21.61A41.35 41.35 0 0 1 40.21 -9.65L0.00 0.00Z"/>
<path fill="#2a788e" d="M0.00 0.00L22.31 -3.53A22.58 22.58 0 0 1 22.31 3.53L0.00 0.00Z"/>
<path fill="#414487" d="M0.00 0.00L18.59 -2.94A18.82 18.82 0 0 1 18.59 2.94L0.00 0.00Z"/>
<path fill="#440154" d="M0.00 0.00L7.77 -1.23A7.87 7.87 0 0 1 7.77 1.23L0.00 0.00Z"/>
<path class="e" d="M0.00 0.00L22.31 -3.53A22.58 22.58 0 0 1 22.31 3.53L0.00 0.00Z"/>
<path fill="#2a788e" d="M0.00 0.00L14.60 3.51A15.02 15.02 0 0 1 12.80 7.85L0.00 0.00Z"/>
<path fill="#414487" d="M0.00 0.00L9.13 2.19A9.38 9.38 0 0 1 8.00 4.90L0.00 0.00Z"/>
<path fill="#440154" d="M0.00 0.00L3.32 0.80A3.41 3.41 0 0 1 2.91 1.78L0.00 0.00Z"/>
<path class="e" d="M0.00 0.00L14.60 3.51A15.02 15.02 0 0 1 12.80 7.85L0.00 0.00Z"/>
<path fill="#7ad151" d="M0.00 0.00L17.14 12.46A21.19 21.19 0 0 1 12.46 17.14L0.00 0.00Z"/>
<path fill="#22a884" d="M0.00 0.00L15.36 11.16A18.99 18.99 0 0 1 11.16 15.36L0.00 0.00Z"/>
<path fill="#2a788e" d="M0.00 0.00L12.62 9.17A15.60 15.60 0 0 1 9.17 12.62L0.00 0.00Z"/>
<path fill="#414487" d="M0.00 0.00L6.99 5.08A8.65 8.65 0 0 1 5.08 6.99L0.00 0.00Z"/>
<path fill="#440154" d="M0.00 0.00L2.33 1.69A2.88 2.88 0 0 1 1.69 2.33L0.00 0.00Z"/>
<path class="e" d="M0.00 0.00L17.14 12.46A21.19 21.19 0 0 1 12.46 17.14L0.00 0.00Z"/>
<path fill="#7ad151" d="M0.00 0.00L12.94 21.11A24.76 24.76 0 0 1 5.78 24.08L0.00 0.00Z"/>
<path fill="#22a884" d="M0.00 0.00L11.62 18.96A22.24 22.24 0 0 1 5.19 21.62L0.00 0.00Z"/>
<path fill="#2a788e" d="M0.00 0.00L8.98 14.65A17.18 17.18 0 0 1 4.01 16.71L0.00 0.00Z"/>
<path fill="#414487" d="M0.00 0.00L4.84 7.90A9.27 9.27 0 0 1 2.16 9.01L0.00 0.00Z"/>
<path fill="#440154" d="M0.00 0.00L1.50 2.44A2.86 2.86 0 0 1 0.67 2.78L0.00 0.00Z"/>
<path class="e" d="M0.00 0.00L12.94 21.11A24.76 24.76 0 0 1 5.78 24.08L0.00 0.00Z"/>
<path fill="#7ad151" d="M0.00 0.00L3.50 22.07A22.35 22.35 0 0 1 -3.50 22.07L0.00 0.00Z"/>
<path fill="#22a884" d="M0.00 0.00L3.21 20.25A20.50 20.50 0 0 1 -3.21 20.25L0.00 0.00Z"/>
<path fill="#2a788e" d="M0.00 0.00L2.52 15.93A16.13 16.13 0 0 1 -2.52 15.93L0.00 0.00Z"/>
<path fill="#414487" d="M0.00 0.00L1.39 8.80A8.90 8.90 0 0 1 -1.39 8.80L0.00 0.00Z"/>
<path fill="#440154" d="M0.00 0.00L0.45 2.82A2.86 2.86 0 0 1 -0.45 2.82L0.00 0.00Z"/>
<path class="e" d="M0.00 0.00L3.50 22.07A22.35 22.35 0 0 1 -3.50 22.07L0.00 0.00Z"/>
<path fill="#7ad151" d="M0.00 0.00L-6.69 27.85A28.64 28.64 0 0 1 -14.96 24.42L0.00 0.00Z"/>
<path fill="#22a884" d="M0.00 0.00L-5.82 24.24A24.93 24.93 0 0 1 -13.03 21.26L0.00 0.00Z"/>
<path fill="#2a788e" d="M0.00 0.00L-4.01 16.71A17.18 17.18 0 0 1 -8.98 14.65L0.00 0.00Z"/>
<path fill="#414487" d="M0.00 0.00L-2.16 9.01A9.27 9.27 0 0 1 -4.84 7.90L0.00 0.00Z"/>
<path fill="#440154" d="M0.00 0.00L-0.67 2.78A2.86 2.86 0 0 1 -1.50 2.44L0.00 0.00Z"/>
<path class="e" d="M0.00 0.00L-6.69 27.85A28.64 28.64 0 0 1 -14.96 24.42L0.00 0.00Z"/>
<path fill="#7ad151" d="M0.00 0.00L-17.44 24.00A29.67 29.67 0 0 1 -24.00 17.44L0.00 0.00Z"/>
<path fill="#22a884" d="M0.00 0.00L-14.95 20.57A25.43 25.43 0 0 1 -20.57 14.95L0.00 0.00Z"/>
<path fill="#2a788e" d="M0.00 0.00L-10.16 13.99A17.29 17.29 0 0 1 -13.99 10.16L0.00 0.00Z"/>
<path fill="#414487" d="M0.00 0.00L-5.18 7.13A8.82 8.82 0 0 1 -7.13 5.18L0.00 0.00Z"/>
<path fill="#440154" d="M0.00 0.00L-1.69 2.33A2.88 2.88 0 0 1 -2.33 1.69L0.00 0.00Z"/>
<path class="e" d="M0.00 0.00L-17.44 24.00A29.67 29.67 0 0 1 -24.00 17.44L0.00 0.00Z"/>
<path fill="#7ad151" d="M0.00 0.00L-30.84 18.90A36.17 36.17 0 0 1 -35.17 8.44L0.00 0.00Z"/>
<path fill="#22a884" d="M0.00 0.00L-25.46 15.60A29.86 29.86 0 0 1 -29.04 6.97L0.00 0.00Z"/>
<path fill="#2a788e" d="M0.00 0.00L-16.15 9.90A18.94 18.94 0 0 1 -18.42 4.42L0.00 0.00Z"/>
<path fill="#414487" d="M0.00 0.00L-8.15 4.99A9.56 9.56 0 0 1 -9.29 2.23L0.00 0.00Z"/>
<path fill="#440154" d="M0.00 0.00L-2.47 1.52A2.90 2.90 0 0 1 -2.82 0.68L0.00 0.00Z"/>
<path class="e" d="M0.00 0.00L-30.84 18.90A36.17 36.17 0 0 1 -35.17 8.44L0.00 0.00Z"/>
<path fill="#7ad151" d="M0.00 0.00L-27.21 4.31A27.55 27.55 0 0 1 -27.21 -4.31L0.00 0.00Z"/>
<path fill="#22a884" d="M0.00 0.00L-21.97 3.48A22.24 22.24 0 0 1 -21.97 -3.48L0.00 0.00Z"/>
<path fill="#2a788e" d="M0.00 0.00L-15.89 2.52A16.08 16.08 0 0 1 -15.89 -2.52L0.00 0.00Z"/>
<path fill="#414487" d="M0.00 0.00L-8.79 1.39A8.90 8.90 0 0 1 -8.79 -1.39L0.00 0.00Z"/>
<path fill="#440154" d="M0.00 0.00L-2.87 0.46A2.91 2.91 0 0 1 -2.87 -0.46L0.00 0.00Z"/>
<path class="e" d="M0.00 0.00L-27.21 4.31A27.55 27.55 0 0 1 -27.21 -4.31L0.00 0.00Z"/>
<path fill="#7ad151" d="M0.00 0.00L-18.91 -4.54A19.45 19.45 0 0 1 -16.59 -10.16L0.00 0.00Z"/>
<path fill="#22a884" d="M0.00 0.00L-16.59 -3.98A17.06 17.06 0 0 1 -14.55 -8.92L0.00 0.00Z"/>
<path fill="#2a788e" d="M0.00 0.00L-13.94 -3.35A14.33 14.33 0 0 1 -12.22 -7.49L0.00 0.00Z"/>
<path fill="#414487" d="M0.00 0.00L-8.63 -2.07A8.87 8.87 0 0 1 -7.57 -4.64L0.00 0.00Z"/>
<path fill="#440154" d="M0.00 0.00L-2.82 -0.68A2.90 2.90 0 0 1 -2.47 -1.52L0.00 0.00Z"/>
<path class="e" d="M0.00 0.00L-18.91 -4.54A19.45 19.45 0 0 1 -16.59 -10.16L0.00 0.00Z"/>
<path fill="#22a884" d="M0.00 0.00L-14.40 -10.46A17.80 17.80 0 0 1 -10.46 -14.40L0.00 0.00Z"/>
<path fill="#2a788e" d="M0.00 0.00L-13.44 -9.77A16.61 16.61 0 0 1 -9.77 -13.44L0.00 0.00Z"/>
<path fill="#414487" d="M0.00 0.00L-9.33 -6.78A11.53 11.53 0 0 1 -6.78 -9.33L0.00 0.00Z"/>
<path fill="#440154" d="M0.00 0.00L-2.06 -1.49A2.54 2.54 0 0 1 -1.49 -2.06L0.00 0.00Z"/>
<path class="e" d="M0.00 0.00L-14.40 -10.46A17.80 17.80 0 0 1 -10.46 -14.40L0.00 0.00Z"/>
<path fill="#2a788e" d="M0.00 0.00L-7.39 -12.07A14.15 14.15 0 0 1 -3.30 -13.76L0.00 0.00Z"/>
<path fill="#414487" d="M0.00 0.00L-5.72 -9.34A10.95 10.95 0 0 1 -2.56 -10.65L0.00 0.00Z"/>
<path fill="#440154" d="M0.00 0.00L-2.20 -3.59A4.21 4.21 0 0 1 -0.98 -4.10L0.00 0.00Z"/>
<path class="e" d="M0.00 0.00L-7.39 -12.07A14.15 14.15 0 0 1 -3.30 -13.76L0.00 0.00Z"/>
</g>
<circle class="g" cx="0" cy="0" r="8.30"/><circle class="g" cx="0" cy="0" r="16.60"/><circle class="g" cx="0" cy="0" r="24.90"/><circle class="g" cx="0" cy="0" r="33.20"/><path class="g" d="M0 0L0.00 -41.50M0 0L29.34 -29.34M0 0L41.50 -0.00M0 0L29.34 29.34M0 0L0.00 41.50M0 0L-29.34 29.34M0 0L-41.50 0.00M0 0L-29.34 -29.34"/><circle class="o" cx="0" cy="0" r="41.50"/>
</g>
<text class="d" x="446.1" y="73.3">N</text>
<text class="d" x="478.5" y="87.2">NE</text>
<text class="d" x="492.8" y="120.9">E</text>
<text class="d" x="479.1" y="154.3">SE</text>
<text class="d" x="446.1" y="168.2">S</text>
<text class="d" x="412.8" y="154.3">SW</text>
<text class="d" x="400.2" y="120.9">W</text>
<text class="d" x="413.0" y="87.2">NW</text>
</g>
<g id="p2014">
<text class="y" x="55.8" y="186.9">2014</text>
<g transform="translate(55.4,240.6) scale(0.982,1)">
<g class="b">
<path fill="#414487" d="M0.00 0.00L-0.76 -4.81A4.87 4.87 0 0 1 0.76 -4.81L0.00 0.00Z"/>
<path fill="#440154" d="M0.00 0.00L-0.39 -2.49A2.52 2.52 0 0 1 0.39 -2.49L0.00 0.00Z"/>
<path class="e" d="M0.00 0.00L-0.76 -4.81A4.87 4.87 0 0 1 0.76 -4.81L0.00 0.00Z"/>
<path fill="#414487" d="M0.00 0.00L1.73 -7.21A7.41 7.41 0 0 1 3.87 -6.32L0.00 0.00Z"/>
<path fill="#440154" d="M0.00 0.00L0.98 -4.10A4.21 4.21 0 0 1 2.20 -3.59L0.00 0.00Z"/>
<path class="e" d="M0.00 0.00L1.73 -7.21A7.41 7.41 0 0 1 3.87 -6.32L0.00 0.00Z"/>
<path fill="#2a788e" d="M0.00 0.00L9.17 -12.62A15.60 15.60 0 0 1 12.62 -9.17L0.00 0.00Z"/>
<path fill="#414487" d="M0.00 0.00L7.77 -10.70A13.22 13.22 0 0 1 10.70 -7.77L0.00 0.00Z"/>
<path fill="#440154" d="M0.00 0.00L2.99 -4.11A5.09 5.09 0 0 1 4.11 -2.99L0.00 0.00Z"/>
<path class="e" d="M0.00 0.00L9.17 -12.62A15.60 15.60 0 0 1 12.62 -9.17L0.00 0.00Z"/>
<path fill="#22a884" d="M0.00 0.00L35.26 -21.61A41.35 41.35 0 0 1 40.21 -9.65L0.00 0.00Z"/>
<path fill="#2a788e" d="M0.00 0.00L34.19 -20.95A40.10 40.10 0 0 1 38.99 -9.36L0.00 0.00Z"/>
<path fill="#414487" d="M0.00 0.00L26.92 -16.49A31.57 31.57 0 0 1 30.70 -7.37L0.00 0.00Z"/>
<path fill="#440154" d="M0.00 0.00L5.53 -3.39A6.48 6.48 0 0 1 6.30 -1.51L0.00 0.00Z"/>
<path class="e" d="M0.00 0.00L35.26 -21.61A41.35 41.35 0 0 1 40.21 -9.65L0.00 0.00Z"/>
<path fill="#22a884" d="M0.00 0.00L37.68 -5.97A38.15 38.15 0 0 1 37.68 5.97L0.00 0.00Z"/>
<path fill="#2a788e" d="M0.00 0.00L34.64 -5.49A35.07 35.07 0 0 1 34.64 5.49L0.00 0.00Z"/>
<path fill="#414487" d="M0.00 0.00L24.50 -3.88A24.81 24.81 0 0 1 24.50 3.88L0.00 0.00Z"/>
<path fill="#440154" d="M0.00 0.00L5.58 -0.88A5.65 5.65 0 0 1 5.58 0.88L0.00 0.00Z"/>
<path class="e" d="M0.00 0.00L37.68 -5.97A38.15 38.15 0 0 1 37.68 5.97L0.00 0.00Z"/>
<path fill="#22a884" d="M0.00 0.00L23.89 5.74A24.57 24.57 0 0 1 20.95 12.84L0.00 0.00Z"/>
<path fill="#2a788e" d="M0.00 0.00L18.25 4.38A18.77 18.77 0 0 1 16.00 9.81L0.00 0.00Z"/>
<path fill="#414487" d="M0.00 0.00L9.46 2.27A9.73 9.73 0 0 1 8.29 5.08L0.00 0.00Z"/>
<path fill="#440154" d="M0.00 0.00L2.65 0.64A2.73 2.73 0 0 1 2.33 1.43L0.00 0.00Z"/>
<path class="e" d="M0.00 0.00L23.89 5.74A24.57 24.57 0 0 1 20.95 12.84L0.00 0.00Z"/>
<path fill="#7ad151" d="M0.00 0.00L19.75 14.35A24.41 24.41 0 0 1 14.35 19.75L0.00 0.00Z"/>
<path fill="#22a884" d="M0.00 0.00L17.14 12.46A21.19 21.19 0 0 1 12.46 17.14L0.00 0.00Z"/>
<path fill="#2a788e" d="M0.00 0.00L13.72 9.97A16.95 16.95 0 0 1 9.97 13.72L0.00 0.00Z"/>
<path fill="#414487" d="M0.00 0.00L7.41 5.38A9.15 9.15 0 0 1 5.38 7.41L0.00 0.00Z"/>
<path fill="#440154" d="M0.00 0.00L2.06 1.49A2.54 2.54 0 0 1 1.49 2.06L0.00 0.00Z"/>
<path class="e" d="M0.00 0.00L19.75 14.35A24.41 24.41 0 0 1 14.35 19.75L0.00 0.00Z"/>
<path fill="#7ad151" d="M0.00 0.00L15.40 25.14A29.48 29.48 0 0 1 6.88 28.67L0.00 0.00Z"/>
<path fill="#22a884" d="M0.00 0.00L13.64 22.26A26.11 26.11 0 0 1 6.10 25.39L0.00 0.00Z"/>
<path fill="#2a788e" d="M0.00 0.00L9.33 15.23A17.86 17.86 0 0 1 4.17 17.36L0.00 0.00Z"/>
<path fill="#414487" d="M0.00 0.00L5.02 8.19A9.60 9.60 0 0 1 2.24 9.34L0.00 0.00Z"/>
<path fill="#440154" d="M0.00 0.00L1.32 2.15A2.53 2.53 0 0 1 0.59 2.46L0.00 0.00Z"/>
<path class="e" d="M0.00 0.00L15.40 25.14A29.48 29.48 0 0 1 6.88 28.67L0.00 0.00Z"/>
<path fill="#7ad151" d="M0.00 0.00L3.84 24.23A24.53 24.53 0 0 1 -3.84 24.23L0.00 0.00Z"/>
<path fill="#22a884" d="M0.00 0.00L3.50 22.07A22.35 22.35 0 0 1 -3.50 22.07L0.00 0.00Z"/>
<path fill="#2a788e" d="M0.00 0.00L2.52 15.93A16.13 16.13 0 0 1 -2.52 15.93L0.00 0.00Z"/>
<path fill="#414487" d="M0.00 0.00L1.31 8.30A8.40 8.40 0 0 1 -1.31 8.30L0.00 0.00Z"/>
<path fill="#440154" d="M0.00 0.00L0.39 2.49A2.52 2.52 0 0 1 -0.39 2.49L0.00 0.00Z"/>
<path class="e" d="M0.00 0.00L3.84 24.23A24.53 24.53 0 0 1 -3.84 24.23L0.00 0.00Z"/>
<path fill="#7ad151" d="M0.00 0.00L-5.35 22.28A22.91 22.91 0 0 1 -11.97 19.53L0.00 0.00Z"/>
<path fill="#22a884" d="M0.00 0.00L-4.72 19.66A20.21 20.21 0 0 1 -10.56 17.24L0.00 0.00Z"/>
<path fill="#2a788e" d="M0.00 0.00L-3.54 14.74A15.16 15.16 0 0 1 -7.92 12.93L0.00 0.00Z"/>
<path fill="#414487" d="M0.00 0.00L-1.97 8.19A8.42 8.42 0 0 1 -4.40 7.18L0.00 0.00Z"/>
<path fill="#440154" d="M0.00 0.00L-0.59 2.46A2.53 2.53 0 0 1 -1.32 2.15L0.00 0.00Z"/>
<path class="e" d="M0.00 0.00L-5.35 22.28A22.91 22.91 0 0 1 -11.97 19.53L0.00 0.00Z"/>
<path fill="#7ad151" d="M0.00 0.00L-14.65 20.16A24.92 24.92 0 0 1 -20.16 14.65L0.00 0.00Z"/>
<path fill="#22a884" d="M0.00 0.00L-12.46 17.14A21.19 21.19 0 0 1 -17.14 12.46L0.00 0.00Z"/>
<path fill="#2a788e" d="M0.00 0.00L-8.77 12.07A14.92 14.92 0 0 1 -12.07 8.77L0.00 0.00Z"/>
<path fill="#414487" d="M0.00 0.00L-4.98 6.86A8.48 8.48 0 0 1 -6.86 4.98L0.00 0.00Z"/>
<path fill="#440154" d="M0.00 0.00L-1.49 2.06A2.54 2.54 0 0 1 -2.06 1.49L0.00 0.00Z"/>
<path class="e" d="M0.00 0.00L-14.65 20.16A24.92 24.92 0 0 1 -20.16 14.65L0.00 0.00Z"/>
<path fill="#7ad151" d="M0.00 0.00L-22.70 13.91A26.62 26.62 0 0 1 -25.88 6.21L0.00 0.00Z"/>
<path fill="#22a884" d="M0.00 0.00L-19.64 12.04A23.04 23.04 0 0 1 -22.40 5.38L0.00 0.00Z"/>
<path fill="#2a788e" d="M0.00 0.00L-14.11 8.65A16.55 16.55 0 0 1 -16.09 3.86L0.00 0.00Z"/>
<path fill="#414487" d="M0.00 0.00L-7.86 4.81A9.21 9.21 0 0 1 -8.96 2.15L0.00 0.00Z"/>
<path fill="#440154" d="M0.00 0.00L-2.18 1.34A2.56 2.56 0 0 1 -2.49 0.60L0.00 0.00Z"/>
<path class="e" d="M0.00 0.00L-22.70 13.91A26.62 26.62 0 0 1 -25.88 6.21L0.00 0.00Z"/>
<path fill="#7ad151" d="M0.00 0.00L-19.43 3.08A19.68 19.68 0 0 1 -19.43 -3.08L0.00 0.00Z"/>
<path fill="#22a884" d="M0.00 0.00L-16.56 2.62A16.77 16.77 0 0 1 -16.56 -2.62L0.00 0.00Z"/>
<path fill="#2a788e" d="M0.00 0.00L-13.52 2.14A13.69 13.69 0 0 1 -13.52 -2.14L0.00 0.00Z"/>
<path fill="#414487" d="M0.00 0.00L-8.11 1.28A8.21 8.21 0 0 1 -8.11 -1.28L0.00 0.00Z"/>
<path fill="#440154" d="M0.00 0.00L-2.53 0.40A2.57 2.57 0 0 1 -2.53 -0.40L0.00 0.00Z"/>
<path class="e" d="M0.00 0.00L-19.43 3.08A19.68 19.68 0 0 1 -19.43 -3.08L0.00 0.00Z"/>
<path fill="#7ad151" d="M0.00 0.00L-14.10 -3.39A14.50 14.50 0 0 1 -12.37 -7.58L0.00 0.00Z"/>
<path fill="#22a884" d="M0.00 0.00L-12.94 -3.11A13.31 13.31 0 0 1 -11.35 -6.95L0.00 0.00Z"/>
<path fill="#2a788e" d="M0.00 0.00L-11.61 -2.79A11.94 11.94 0 0 1 -10.18 -6.24L0.00 0.00Z"/>
<path fill="#414487" d="M0.00 0.00L-7.63 -1.83A7.85 7.85 0 0 1 -6.69 -4.10L0.00 0.00Z"/>
<path fill="#440154" d="M0.00 0.00L-2.49 -0.60A2.56 2.56 0 0 1 -2.18 -1.34L0.00 0.00Z"/>
<path class="e" d="M0.00 0.00L-14.10 -3.39A14.50 14.50 0 0 1 -12.37 -7.58L0.00 0.00Z"/>
<path fill="#22a884" d="M0.00 0.00L-14.13 -10.26A17.46 17.46 0 0 1 -10.26 -14.13L0.00 0.00Z"/>
<path fill="#2a788e" d="M0.00 0.00L-13.30 -9.67A16.44 16.44 0 0 1 -9.67 -13.30L0.00 0.00Z"/>
<path fill="#414487" d="M0.00 0.00L-10.97 -7.97A13.56 13.56 0 0 1 -7.97 -10.97L0.00 0.00Z"/>
<path fill="#440154" d="M0.00 0.00L-2.06 -1.49A2.54 2.54 0 0 1 -1.49 -2.06L0.00 0.00Z"/>
<path class="e" d="M0.00 0.00L-14.13 -10.26A17.46 17.46 0 0 1 -10.26 -14.13L0.00 0.00Z"/>
<path fill="#2a788e" d="M0.00 0.00L-5.46 -8.91A10.44 10.44 0 0 1 -2.44 -10.16L0.00 0.00Z"/>
<path fill="#414487" d="M0.00 0.00L-4.40 -7.18A8.42 8.42 0 0 1 -1.97 -8.19L0.00 0.00Z"/>
<path fill="#440154" d="M0.00 0.00L-1.32 -2.15A2.53 2.53 0 0 1 -0.59 -2.46L0.00 0.00Z"/>
<path class="e" d="M0.00 0.00L-5.46 -8.91A10.44 10.44 0 0 1 -2.44 -10.16L0.00 0.00Z"/>
</g>
<circle class="g" cx="0" cy="0" r="8.30"/><circle class="g" cx="0" cy="0" r="16.60"/><circle class="g" cx="0" cy="0" r="24.90"/><circle class="g" cx="0" cy="0" r="33.20"/><path class="g" d="M0 0L0.00 -41.50M0 0L29.34 -29.34M0 0L41.50 -0.00M0 0L29.34 29.34M0 0L0.00 41.50M0 0L-29.34 29.34M0 0L-41.50 0.00M0 0L-29.34 -29.34"/><circle class="o" cx="0" cy="0" r="41.50"/>
</g>
<text class="d" x="55.6" y="195.6">N</text>
<text class="d" x="88.0" y="209.5">NE</text>
<text class="d" x="102.3" y="243.2">E</text>
<text class="d" x="88.7" y="276.6">SE</text>
<text class="d" x="55.6" y="290.5">S</text>
<text class="d" x="22.3" y="276.6">SW</text>
<text class="d" x="9.7" y="243.2">W</text>
<text class="d" x="22.5" y="209.5">NW</text>
</g>
<g id="p2015">
<text class="y" x="153.4" y="186.9">2015</text>
<g transform="translate(153.0,240.6) scale(0.982,1)">
<g class="b">
<path fill="#414487" d="M0.00 0.00L-1.00 -6.31A6.38 6.38 0 0 1 1.00 -6.31L0.00 0.00Z"/>
<path fill="#440154" d="M0.00 0.00L-0.63 -3.98A4.03 4.03 0 0 1 0.63 -3.98L0.00 0.00Z"/>
<path class="e" d="M0.00 0.00L-1.00 -6.31A6.38 6.38 0 0 1 1.00 -6.31L0.00 0.00Z"/>
<path fill="#414487" d="M0.00 0.00L1.65 -6.88A7.08 7.08 0 0 1 3.70 -6.03L0.00 0.00Z"/>
<path fill="#440154" d="M0.00 0.00L1.10 -4.59A4.72 4.72 0 0 1 2.46 -4.02L0.00 0.00Z"/>
<path class="e" d="M0.00 0.00L1.65 -6.88A7.08 7.08 0 0 1 3.70 -6.03L0.00 0.00Z"/>
<path fill="#2a788e" d="M0.00 0.00L8.57 -11.80A14.58 14.58 0 0 1 11.80 -8.57L0.00 0.00Z"/>
<path fill="#414487" d="M0.00 0.00L7.17 -9.88A12.21 12.21 0 0 1 9.88 -7.17L0.00 0.00Z"/>
<path fill="#440154" d="M0.00 0.00L2.99 -4.11A5.09 5.09 0 0 1 4.11 -2.99L0.00 0.00Z"/>
<path class="e" d="M0.00 0.00L8.57 -11.80A14.58 14.58 0 0 1 11.80 -8.57L0.00 0.00Z"/>
<path fill="#2a788e" d="M0.00 0.00L19.06 -11.68A22.35 22.35 0 0 1 21.74 -5.22L0.00 0.00Z"/>
<path fill="#414487" d="M0.00 0.00L14.26 -8.74A16.72 16.72 0 0 1 16.26 -3.90L0.00 0.00Z"/>
<path fill="#440154" d="M0.00 0.00L5.24 -3.21A6.14 6.14 0 0 1 5.97 -1.43L0.00 0.00Z"/>
<path class="e" d="M0.00 0.00L19.06 -11.68A22.35 22.35 0 0 1 21.74 -5.22L0.00 0.00Z"/>
<path fill="#2a788e" d="M0.00 0.00L19.77 -3.13A20.02 20.02 0 0 1 19.77 3.13L0.00 0.00Z"/>
<path fill="#414487" d="M0.00 0.00L10.98 -1.74A11.12 11.12 0 0 1 10.98 1.74L0.00 0.00Z"/>
<path fill="#440154" d="M0.00 0.00L5.24 -0.83A5.30 5.30 0 0 1 5.24 0.83L0.00 0.00Z"/>
<path class="e" d="M0.00 0.00L19.77 -3.13A20.02 20.02 0 0 1 19.77 3.13L0.00 0.00Z"/>
<path fill="#22a884" d="M0.00 0.00L14.44 3.47A14.85 14.85 0 0 1 12.66 7.76L0.00 0.00Z"/>
<path fill="#2a788e" d="M0.00 0.00L13.27 3.19A13.65 13.65 0 0 1 11.64 7.13L0.00 0.00Z"/>
<path fill="#414487" d="M0.00 0.00L6.97 1.67A7.17 7.17 0 0 1 6.11 3.74L0.00 0.00Z"/>
<path fill="#440154" d="M0.00 0.00L2.49 0.60A2.56 2.56 0 0 1 2.18 1.34L0.00 0.00Z"/>
<path class="e" d="M0.00 0.00L14.44 3.47A14.85 14.85 0 0 1 12.66 7.76L0.00 0.00Z"/>
<path fill="#7ad151" d="M0.00 0.00L14.81 10.76A18.31 18.31 0 0 1 10.76 14.81L0.00 0.00Z"/>
<path fill="#22a884" d="M0.00 0.00L13.03 9.47A16.11 16.11 0 0 1 9.47 13.03L0.00 0.00Z"/>
<path fill="#2a788e" d="M0.00 0.00L10.70 7.77A13.22 13.22 0 0 1 7.77 10.70L0.00 0.00Z"/>
<path fill="#414487" d="M0.00 0.00L6.03 4.38A7.46 7.46 0 0 1 4.38 6.03L0.00 0.00Z"/>
<path fill="#440154" d="M0.00 0.00L2.06 1.49A2.54 2.54 0 0 1 1.49 2.06L0.00 0.00Z"/>
<path class="e" d="M0.00 0.00L14.81 10.76A18.31 18.31 0 0 1 10.76 14.81L0.00 0.00Z"/>
<path fill="#7ad151" d="M0.00 0.00L10.12 16.52A19.37 19.37 0 0 1 4.52 18.84L0.00 0.00Z"/>
<path fill="#22a884" d="M0.00 0.00L9.24 15.08A17.69 17.69 0 0 1 4.13 17.20L0.00 0.00Z"/>
<path fill="#2a788e" d="M0.00 0.00L7.48 12.21A14.32 14.32 0 0 1 3.34 13.92L0.00 0.00Z"/>
<path fill="#414487" d="M0.00 0.00L4.22 6.89A8.09 8.09 0 0 1 1.89 7.86L0.00 0.00Z"/>
<path fill="#440154" d="M0.00 0.00L1.32 2.15A2.53 2.53 0 0 1 0.59 2.46L0.00 0.00Z"/>
<path class="e" d="M0.00 0.00L10.12 16.52A19.37 19.37 0 0 1 4.52 18.84L0.00 0.00Z"/>
<path fill="#7ad151" d="M0.00 0.00L3.71 23.40A23.69 23.69 0 0 1 -3.71 23.40L0.00 0.00Z"/>
<path fill="#22a884" d="M0.00 0.00L3.42 21.57A21.84 21.84 0 0 1 -3.42 21.57L0.00 0.00Z"/>
<path fill="#2a788e" d="M0.00 0.00L2.44 15.43A15.63 15.63 0 0 1 -2.44 15.43L0.00 0.00Z"/>
<path fill="#414487" d="M0.00 0.00L1.26 7.97A8.06 8.06 0 0 1 -1.26 7.97L0.00 0.00Z"/>
<path fill="#440154" d="M0.00 0.00L0.39 2.49A2.52 2.52 0 0 1 -0.39 2.49L0.00 0.00Z"/>
<path class="e" d="M0.00 0.00L3.71 23.40A23.69 23.69 0 0 1 -3.71 23.40L0.00 0.00Z"/>
<path fill="#7ad151" d="M0.00 0.00L-6.76 28.17A28.97 28.97 0 0 1 -15.14 24.70L0.00 0.00Z"/>
<path fill="#22a884" d="M0.00 0.00L-5.90 24.57A25.27 25.27 0 0 1 -13.20 21.54L0.00 0.00Z"/>
<path fill="#2a788e" d="M0.00 0.00L-3.89 16.22A16.68 16.68 0 0 1 -8.71 14.22L0.00 0.00Z"/>
<path fill="#414487" d="M0.00 0.00L-1.97 8.19A8.42 8.42 0 0 1 -4.40 7.18L0.00 0.00Z"/>
<path fill="#440154" d="M0.00 0.00L-0.59 2.46A2.53 2.53 0 0 1 -1.32 2.15L0.00 0.00Z"/>
<path class="e" d="M0.00 0.00L-6.76 28.17A28.97 28.97 0 0 1 -15.14 24.70L0.00 0.00Z"/>
<path fill="#7ad151" d="M0.00 0.00L-19.83 27.29A33.74 33.74 0 0 1 -27.29 19.83L0.00 0.00Z"/>
<path fill="#22a884" d="M0.00 0.00L-16.44 22.63A27.97 27.97 0 0 1 -22.63 16.44L0.00 0.00Z"/>
<path fill="#2a788e" d="M0.00 0.00L-10.06 13.85A17.12 17.12 0 0 1 -13.85 10.06L0.00 0.00Z"/>
<path fill="#414487" d="M0.00 0.00L-4.88 6.72A8.31 8.31 0 0 1 -6.72 4.88L0.00 0.00Z"/>
<path fill="#440154" d="M0.00 0.00L-1.49 2.06A2.54 2.54 0 0 1 -2.06 1.49L0.00 0.00Z"/>
<path class="e" d="M0.00 0.00L-19.83 27.29A33.74 33.74 0 0 1 -27.29 19.83L0.00 0.00Z"/>
<path fill="#fde725" d="M0.00 0.00L-35.26 21.61A41.35 41.35 0 0 1 -40.21 9.65L0.00 0.00Z"/>
<path fill="#7ad151" d="M0.00 0.00L-34.92 21.40A40.95 40.95 0 0 1 -39.82 9.56L0.00 0.00Z"/>
<path fill="#22a884" d="M0.00 0.00L-27.64 16.94A32.42 32.42 0 0 1 -31.52 7.57L0.00 0.00Z"/>
<path fill="#2a788e" d="M0.00 0.00L-14.99 9.18A17.58 17.58 0 0 1 -17.09 4.10L0.00 0.00Z"/>
<path fill="#414487" d="M0.00 0.00L-7.57 4.64A8.87 8.87 0 0 1 -8.63 2.07L0.00 0.00Z"/>
<path fill="#440154" d="M0.00 0.00L-2.18 1.34A2.56 2.56 0 0 1 -2.49 0.60L0.00 0.00Z"/>
<path class="e" d="M0.00 0.00L-35.26 21.61A41.35 41.35 0 0 1 -40.21 9.65L0.00 0.00Z"/>
<path fill="#fde725" d="M0.00 0.00L-29.74 4.71A30.11 30.11 0 0 1 -29.74 -4.71L0.00 0.00Z"/>
<path fill="#7ad151" d="M0.00 0.00L-28.73 4.55A29.09 29.09 0 0 1 -28.73 -4.55L0.00 0.00Z"/>
<path fill="#22a884" d="M0.00 0.00L-24.50 3.88A24.81 24.81 0 0 1 -24.50 -3.88L0.00 0.00Z"/>
<path fill="#2a788e" d="M0.00 0.00L-16.05 2.54A16.25 16.25 0 0 1 -16.05 -2.54L0.00 0.00Z"/>
<path fill="#414487" d="M0.00 0.00L-7.60 1.20A7.70 7.70 0 0 1 -7.60 -1.20L0.00 0.00Z"/>
<path fill="#440154" d="M0.00 0.00L-2.53 0.40A2.57 2.57 0 0 1 -2.53 -0.40L0.00 0.00Z"/>
<path class="e" d="M0.00 0.00L-29.74 4.71A30.11 30.11 0 0 1 -29.74 -4.71L0.00 0.00Z"/>
<path fill="#22a884" d="M0.00 0.00L-11.95 -2.87A12.29 12.29 0 0 1 -10.48 -6.42L0.00 0.00Z"/>
<path fill="#2a788e" d="M0.00 0.00L-10.29 -2.47A10.58 10.58 0 0 1 -9.02 -5.53L0.00 0.00Z"/>
<path fill="#414487" d="M0.00 0.00L-6.64 -1.59A6.83 6.83 0 0 1 -5.82 -3.57L0.00 0.00Z"/>
<path fill="#440154" d="M0.00 0.00L-2.32 -0.56A2.39 2.39 0 0 1 -2.04 -1.25L0.00 0.00Z"/>
<path class="e" d="M0.00 0.00L-11.95 -2.87A12.29 12.29 0 0 1 -10.48 -6.42L0.00 0.00Z"/>
<path fill="#22a884" d="M0.00 0.00L-8.78 -6.38A10.85 10.85 0 0 1 -6.38 -8.78L0.00 0.00Z"/>
<path fill="#2a788e" d="M0.00 0.00L-7.68 -5.58A9.49 9.49 0 0 1 -5.58 -7.68L0.00 0.00Z"/>
<path fill="#414487" d="M0.00 0.00L-5.21 -3.79A6.44 6.44 0 0 1 -3.79 -5.21L0.00 0.00Z"/>
<path fill="#440154" d="M0.00 0.00L-1.65 -1.20A2.03 2.03 0 0 1 -1.20 -1.65L0.00 0.00Z"/>
<path class="e" d="M0.00 0.00L-8.78 -6.38A10.85 10.85 0 0 1 -6.38 -8.78L0.00 0.00Z"/>
<path fill="#414487" d="M0.00 0.00L-3.34 -5.46A6.40 6.40 0 0 1 -1.49 -6.22L0.00 0.00Z"/>
<path fill="#440154" d="M0.00 0.00L-1.06 -1.72A2.02 2.02 0 0 1 -0.47 -1.97L0.00 0.00Z"/>
<path class="e" d="M0.00 0.00L-3.34 -5.46A6.40 6.40 0 0 1 -1.49 -6.22L0.00 0.00Z"/>
</g>
<circle class="g" cx="0" cy="0" r="8.30"/><circle class="g" cx="0" cy="0" r="16.60"/><circle class="g" cx="0" cy="0" r="24.90"/><circle class="g" cx="0" cy="0" r="33.20"/><path class="g" d="M0 0L0.00 -41.50M0 0L29.34 -29.34M0 0L41.50 -0.00M0 0L29.34 29.34M0 0L0.00 41.50M0 0L-29.34 29.34M0 0L-41.50 0.00M0 0L-29.34 -29.34"/><circle class="o" cx="0" cy="0" r="41.50"/>
</g>
<text class="d" x="153.2" y="195.6">N</text>
<text class="d" x="185.6" y="209.5">NE</text>
<text class="d" x="199.9" y="243.2">E</text>
<text class="d" x="186.2" y="276.6">SE</text>
<text class="d" x="153.2" y="290.5">S</text>
<text class="d" x="119.9" y="276.6">SW</text>
<text class="d" x="107.3" y="243.2">W</text>
<text class="d" x="120.2" y="209.5">NW</text>
</g>
<g id="p2016">
<text class="y" x="251.0" y="186.9">2016</text>
<g transform="translate(250.6,240.6) scale(0.982,1)">
<g class="b">
<path fill="#414487" d="M0.00 0.00L-1.87 -11.78A11.93 11.93 0 0 1 1.87 -11.78L0.00 0.00Z"/>
<path fill="#440154" d="M0.00 0.00L-1.31 -8.30A8.40 8.40 0 0 1 1.31 -8.30L0.00 0.00Z"/>
<path class="e" d="M0.00 0.00L-1.87 -11.78A11.93 11.93 0 0 1 1.87 -11.78L0.00 0.00Z"/>
<path fill="#2a788e" d="M0.00 0.00L4.40 -18.35A18.87 18.87 0 0 1 9.86 -16.09L0.00 0.00Z"/>
<path fill="#414487" d="M0.00 0.00L3.93 -16.38A16.85 16.85 0 0 1 8.80 -14.36L0.00 0.00Z"/>
<path fill="#440154" d="M0.00 0.00L1.97 -8.19A8.42 8.42 0 0 1 4.40 -7.18L0.00 0.00Z"/>
<path class="e" d="M0.00 0.00L4.40 -18.35A18.87 18.87 0 0 1 9.86 -16.09L0.00 0.00Z"/>
<path fill="#2a788e" d="M0.00 0.00L17.74 -24.41A30.18 30.18 0 0 1 24.41 -17.74L0.00 0.00Z"/>
<path fill="#414487" d="M0.00 0.00L14.95 -20.57A25.43 25.43 0 0 1 20.57 -14.95L0.00 0.00Z"/>
<path fill="#440154" d="M0.00 0.00L5.38 -7.41A9.15 9.15 0 0 1 7.41 -5.38L0.00 0.00Z"/>
<path class="e" d="M0.00 0.00L17.74 -24.41A30.18 30.18 0 0 1 24.41 -17.74L0.00 0.00Z"/>
<path fill="#22a884" d="M0.00 0.00L35.21 -21.58A41.29 41.29 0 0 1 40.15 -9.64L0.00 0.00Z"/>
<path fill="#2a788e" d="M0.00 0.00L34.34 -21.04A40.27 40.27 0 0 1 39.16 -9.40L0.00 0.00Z"/>
<path fill="#414487" d="M0.00 0.00L26.19 -16.05A30.71 30.71 0 0 1 29.87 -7.17L0.00 0.00Z"/>
<path fill="#440154" d="M0.00 0.00L7.42 -4.55A8.70 8.70 0 0 1 8.46 -2.03L0.00 0.00Z"/>
<path class="e" d="M0.00 0.00L35.21 -21.58A41.29 41.29 0 0 1 40.15 -9.64L0.00 0.00Z"/>
<path fill="#2a788e" d="M0.00 0.00L20.79 -3.29A21.04 21.04 0 0 1 20.79 3.29L0.00 0.00Z"/>
<path fill="#414487" d="M0.00 0.00L16.05 -2.54A16.25 16.25 0 0 1 16.05 2.54L0.00 0.00Z"/>
<path fill="#440154" d="M0.00 0.00L7.60 -1.20A7.70 7.70 0 0 1 7.60 1.20L0.00 0.00Z"/>
<path class="e" d="M0.00 0.00L20.79 -3.29A21.04 21.04 0 0 1 20.79 3.29L0.00 0.00Z"/>
<path fill="#22a884" d="M0.00 0.00L17.59 4.22A18.09 18.09 0 0 1 15.42 9.45L0.00 0.00Z"/>
<path fill="#2a788e" d="M0.00 0.00L15.76 3.78A16.21 16.21 0 0 1 13.82 8.47L0.00 0.00Z"/>
<path fill="#414487" d="M0.00 0.00L9.62 2.31A9.90 9.90 0 0 1 8.44 5.17L0.00 0.00Z"/>
<path fill="#440154" d="M0.00 0.00L3.32 0.80A3.41 3.41 0 0 1 2.91 1.78L0.00 0.00Z"/>
<path class="e" d="M0.00 0.00L17.59 4.22A18.09 18.09 0 0 1 15.42 9.45L0.00 0.00Z"/>
<path fill="#7ad151" d="M0.00 0.00L23.59 17.14A29.16 29.16 0 0 1 17.14 23.59L0.00 0.00Z"/>
<path fill="#22a884" d="M0.00 0.00L21.26 15.45A26.28 26.28 0 0 1 15.45 21.26L0.00 0.00Z"/>
<path fill="#2a788e" d="M0.00 0.00L15.36 11.16A18.99 18.99 0 0 1 11.16 15.36L0.00 0.00Z"/>
<path fill="#414487" d="M0.00 0.00L7.82 5.68A9.66 9.66 0 0 1 5.68 7.82L0.00 0.00Z"/>
<path fill="#440154" d="M0.00 0.00L2.33 1.69A2.88 2.88 0 0 1 1.69 2.33L0.00 0.00Z"/>
<path class="e" d="M0.00 0.00L23.59 17.14A29.16 29.16 0 0 1 17.14 23.59L0.00 0.00Z"/>
<path fill="#7ad151" d="M0.00 0.00L13.03 21.26A24.93 24.93 0 0 1 5.82 24.24L0.00 0.00Z"/>
<path fill="#22a884" d="M0.00 0.00L11.88 19.39A22.74 22.74 0 0 1 5.31 22.11L0.00 0.00Z"/>
<path fill="#2a788e" d="M0.00 0.00L9.33 15.23A17.86 17.86 0 0 1 4.17 17.36L0.00 0.00Z"/>
<path fill="#414487" d="M0.00 0.00L5.46 8.91A10.44 10.44 0 0 1 2.44 10.16L0.00 0.00Z"/>
<path fill="#440154" d="M0.00 0.00L1.50 2.44A2.86 2.86 0 0 1 0.67 2.78L0.00 0.00Z"/>
<path class="e" d="M0.00 0.00L13.03 21.26A24.93 24.93 0 0 1 5.82 24.24L0.00 0.00Z"/>
<path fill="#7ad151" d="M0.00 0.00L4.49 28.38A28.73 28.73 0 0 1 -4.49 28.38L0.00 0.00Z"/>
<path fill="#22a884" d="M0.00 0.00L4.34 27.38A27.72 27.72 0 0 1 -4.34 27.38L0.00 0.00Z"/>
<path fill="#2a788e" d="M0.00 0.00L3.34 21.08A21.34 21.34 0 0 1 -3.34 21.08L0.00 0.00Z"/>
<path fill="#414487" d="M0.00 0.00L1.73 10.95A11.09 11.09 0 0 1 -1.73 10.95L0.00 0.00Z"/>
<path fill="#440154" d="M0.00 0.00L0.45 2.82A2.86 2.86 0 0 1 -0.45 2.82L0.00 0.00Z"/>
<path class="e" d="M0.00 0.00L4.49 28.38A28.73 28.73 0 0 1 -4.49 28.38L0.00 0.00Z"/>
<path fill="#7ad151" d="M0.00 0.00L-7.39 30.79A31.67 31.67 0 0 1 -16.55 27.00L0.00 0.00Z"/>
<path fill="#22a884" d="M0.00 0.00L-6.69 27.85A28.64 28.64 0 0 1 -14.96 24.42L0.00 0.00Z"/>
<path fill="#2a788e" d="M0.00 0.00L-4.80 19.98A20.55 20.55 0 0 1 -10.74 17.52L0.00 0.00Z"/>
<path fill="#414487" d="M0.00 0.00L-2.56 10.65A10.95 10.95 0 0 1 -5.72 9.34L0.00 0.00Z"/>
<path fill="#440154" d="M0.00 0.00L-0.67 2.78A2.86 2.86 0 0 1 -1.50 2.44L0.00 0.00Z"/>
<path class="e" d="M0.00 0.00L-7.39 30.79A31.67 31.67 0 0 1 -16.55 27.00L0.00 0.00Z"/>
<path fill="#7ad151" d="M0.00 0.00L-23.92 32.92A40.69 40.69 0 0 1 -32.92 23.92L0.00 0.00Z"/>
<path fill="#22a884" d="M0.00 0.00L-21.62 29.76A36.79 36.79 0 0 1 -29.76 21.62L0.00 0.00Z"/>
<path fill="#2a788e" d="M0.00 0.00L-12.95 17.83A22.04 22.04 0 0 1 -17.83 12.95L0.00 0.00Z"/>
<path fill="#414487" d="M0.00 0.00L-6.38 8.78A10.85 10.85 0 0 1 -8.78 6.38L0.00 0.00Z"/>
<path fill="#440154" d="M0.00 0.00L-1.69 2.33A2.88 2.88 0 0 1 -2.33 1.69L0.00 0.00Z"/>
<path class="e" d="M0.00 0.00L-23.92 32.92A40.69 40.69 0 0 1 -32.92 23.92L0.00 0.00Z"/>
<path fill="#7ad151" d="M0.00 0.00L-35.21 21.58A41.29 41.29 0 0 1 -40.15 9.64L0.00 0.00Z"/>
<path fill="#22a884" d="M0.00 0.00L-29.10 17.83A34.13 34.13 0 0 1 -33.18 7.97L0.00 0.00Z"/>
<path fill="#2a788e" d="M0.00 0.00L-17.75 10.88A20.82 20.82 0 0 1 -20.24 4.86L0.00 0.00Z"/>
<path fill="#414487" d="M0.00 0.00L-9.31 5.71A10.92 10.92 0 0 1 -10.62 2.55L0.00 0.00Z"/>
<path fill="#440154" d="M0.00 0.00L-2.47 1.52A2.90 2.90 0 0 1 -2.82 0.68L0.00 0.00Z"/>
<path class="e" d="M0.00 0.00L-35.21 21.58A41.29 41.29 0 0 1 -40.15 9.64L0.00 0.00Z"/>
<path fill="#7ad151" d="M0.00 0.00L-27.38 4.34A27.72 27.72 0 0 1 -27.38 -4.34L0.00 0.00Z"/>
<path fill="#22a884" d="M0.00 0.00L-24.50 3.88A24.81 24.81 0 0 1 -24.50 -3.88L0.00 0.00Z"/>
<path fill="#2a788e" d="M0.00 0.00L-17.41 2.76A17.62 17.62 0 0 1 -17.41 -2.76L0.00 0.00Z"/>
<path fill="#414487" d="M0.00 0.00L-10.14 1.61A10.27 10.27 0 0 1 -10.14 -1.61L0.00 0.00Z"/>
<path fill="#440154" d="M0.00 0.00L-2.87 0.46A2.91 2.91 0 0 1 -2.87 -0.46L0.00 0.00Z"/>
<path class="e" d="M0.00 0.00L-27.38 4.34A27.72 27.72 0 0 1 -27.38 -4.34L0.00 0.00Z"/>
<path fill="#7ad151" d="M0.00 0.00L-17.26 -4.14A17.75 17.75 0 0 1 -15.13 -9.27L0.00 0.00Z"/>
<path fill="#22a884" d="M0.00 0.00L-16.26 -3.90A16.72 16.72 0 0 1 -14.26 -8.74L0.00 0.00Z"/>
<path fill="#2a788e" d="M0.00 0.00L-14.60 -3.51A15.02 15.02 0 0 1 -12.80 -7.85L0.00 0.00Z"/>
<path fill="#414487" d="M0.00 0.00L-9.46 -2.27A9.73 9.73 0 0 1 -8.29 -5.08L0.00 0.00Z"/>
<path fill="#440154" d="M0.00 0.00L-2.82 -0.68A2.90 2.90 0 0 1 -2.47 -1.52L0.00 0.00Z"/>
<path class="e" d="M0.00 0.00L-17.26 -4.14A17.75 17.75 0 0 1 -15.13 -9.27L0.00 0.00Z"/>
<path fill="#22a884" d="M0.00 0.00L-13.30 -9.67A16.44 16.44 0 0 1 -9.67 -13.30L0.00 0.00Z"/>
<path fill="#2a788e" d="M0.00 0.00L-12.34 -8.97A15.26 15.26 0 0 1 -8.97 -12.34L0.00 0.00Z"/>
<path fill="#414487" d="M0.00 0.00L-10.15 -7.37A12.55 12.55 0 0 1 -7.37 -10.15L0.00 0.00Z"/>
<path fill="#440154" d="M0.00 0.00L-1.92 -1.40A2.37 2.37 0 0 1 -1.40 -1.92L0.00 0.00Z"/>
<path class="e" d="M0.00 0.00L-13.30 -9.67A16.44 16.44 0 0 1 -9.67 -13.30L0.00 0.00Z"/>
<path fill="#2a788e" d="M0.00 0.00L-8.19 -13.36A15.67 15.67 0 0 1 -3.66 -15.23L0.00 0.00Z"/>
<path fill="#414487" d="M0.00 0.00L-6.87 -11.20A13.14 13.14 0 0 1 -3.07 -12.78L0.00 0.00Z"/>
<path fill="#440154" d="M0.00 0.00L-2.46 -4.02A4.72 4.72 0 0 1 -1.10 -4.59L0.00 0.00Z"/>
<path class="e" d="M0.00 0.00L-8.19 -13.36A15.67 15.67 0 0 1 -3.66 -15.23L0.00 0.00Z"/>
</g>
<circle class="g" cx="0" cy="0" r="8.30"/><circle class="g" cx="0" cy="0" r="16.60"/><circle class="g" cx="0" cy="0" r="24.90"/><circle class="g" cx="0" cy="0" r="33.20"/><path class="g" d="M0 0L0.00 -41.50M0 0L29.34 -29.34M0 0L41.50 -0.00M0 0L29.34 29.34M0 0L0.00 41.50M0 0L-29.34 29.34M0 0L-41.50 0.00M0 0L-29.34 -29.34"/><circle class="o" cx="0" cy="0" r="41.50"/>
</g>
<text class="d" x="250.8" y="195.6">N</text>
<text class="d" x="283.2" y="209.5">NE</text>
<text class="d" x="297.5" y="243.2">E</text>
<text class="d" x="283.9" y="276.6">SE</text>
<text class="d" x="250.8" y="290.5">S</text>
<text class="d" x="217.5" y="276.6">SW</text>
<text class="d" x="204.9" y="243.2">W</text>
<text class="d" x="217.8" y="209.5">NW</text>
</g>
<g id="p2017">
<text class="y" x="348.7" y="186.9">2017</text>
<g transform="translate(348.3,240.6) scale(0.982,1)">
<g class="b">
<path fill="#414487" d="M0.00 0.00L-1.18 -7.47A7.56 7.56 0 0 1 1.18 -7.47L0.00 0.00Z"/>
<path fill="#440154" d="M0.00 0.00L-0.74 -4.65A4.70 4.70 0 0 1 0.74 -4.65L0.00 0.00Z"/>
<path class="e" d="M0.00 0.00L-1.18 -7.47A7.56 7.56 0 0 1 1.18 -7.47L0.00 0.00Z"/>
<path fill="#414487" d="M0.00 0.00L1.89 -7.86A8.09 8.09 0 0 1 4.22 -6.89L0.00 0.00Z"/>
<path fill="#440154" d="M0.00 0.00L1.18 -4.91A5.05 5.05 0 0 1 2.64 -4.31L0.00 0.00Z"/>
<path class="e" d="M0.00 0.00L1.89 -7.86A8.09 8.09 0 0 1 4.22 -6.89L0.00 0.00Z"/>
<path fill="#2a788e" d="M0.00 0.00L10.96 -15.09A18.65 18.65 0 0 1 15.09 -10.96L0.00 0.00Z"/>
<path fill="#414487" d="M0.00 0.00L9.47 -13.03A16.11 16.11 0 0 1 13.03 -9.47L0.00 0.00Z"/>
<path fill="#440154" d="M0.00 0.00L3.29 -4.53A5.59 5.59 0 0 1 4.53 -3.29L0.00 0.00Z"/>
<path class="e" d="M0.00 0.00L10.96 -15.09A18.65 18.65 0 0 1 15.09 -10.96L0.00 0.00Z"/>
<path fill="#22a884" d="M0.00 0.00L24.44 -14.98A28.67 28.67 0 0 1 27.87 -6.69L0.00 0.00Z"/>
<path fill="#2a788e" d="M0.00 0.00L23.28 -14.26A27.30 27.30 0 0 1 26.55 -6.37L0.00 0.00Z"/>
<path fill="#414487" d="M0.00 0.00L16.73 -10.25A19.62 19.62 0 0 1 19.08 -4.58L0.00 0.00Z"/>
<path fill="#440154" d="M0.00 0.00L5.67 -3.48A6.65 6.65 0 0 1 6.47 -1.55L0.00 0.00Z"/>
<path class="e" d="M0.00 0.00L24.44 -14.98A28.67 28.67 0 0 1 27.87 -6.69L0.00 0.00Z"/>
<path fill="#2a788e" d="M0.00 0.00L19.10 -3.02A19.33 19.33 0 0 1 19.10 3.02L0.00 0.00Z"/>
<path fill="#414487" d="M0.00 0.00L12.84 -2.03A13.00 13.00 0 0 1 12.84 2.03L0.00 0.00Z"/>
<path fill="#440154" d="M0.00 0.00L5.24 -0.83A5.30 5.30 0 0 1 5.24 0.83L0.00 0.00Z"/>
<path class="e" d="M0.00 0.00L19.10 -3.02A19.33 19.33 0 0 1 19.10 3.02L0.00 0.00Z"/>
<path fill="#22a884" d="M0.00 0.00L17.26 4.14A17.75 17.75 0 0 1 15.13 9.27L0.00 0.00Z"/>
<path fill="#2a788e" d="M0.00 0.00L15.26 3.66A15.70 15.70 0 0 1 13.39 8.20L0.00 0.00Z"/>
<path fill="#414487" d="M0.00 0.00L8.63 2.07A8.87 8.87 0 0 1 7.57 4.64L0.00 0.00Z"/>
<path fill="#440154" d="M0.00 0.00L2.65 0.64A2.73 2.73 0 0 1 2.33 1.43L0.00 0.00Z"/>
<path class="e" d="M0.00 0.00L17.26 4.14A17.75 17.75 0 0 1 15.13 9.27L0.00 0.00Z"/>
<path fill="#7ad151" d="M0.00 0.00L19.06 13.85A23.57 23.57 0 0 1 13.85 19.06L0.00 0.00Z"/>
<path fill="#22a884" d="M0.00 0.00L17.28 12.56A21.36 21.36 0 0 1 12.56 17.28L0.00 0.00Z"/>
<path fill="#2a788e" d="M0.00 0.00L13.30 9.67A16.44 16.44 0 0 1 9.67 13.30L0.00 0.00Z"/>
<path fill="#414487" d="M0.00 0.00L7.13 5.18A8.82 8.82 0 0 1 5.18 7.13L0.00 0.00Z"/>
<path fill="#440154" d="M0.00 0.00L2.06 1.49A2.54 2.54 0 0 1 1.49 2.06L0.00 0.00Z"/>
<path class="e" d="M0.00 0.00L19.06 13.85A23.57 23.57 0 0 1 13.85 19.06L0.00 0.00Z"/>
<path fill="#7ad151" d="M0.00 0.00L11.09 18.10A21.23 21.23 0 0 1 4.96 20.64L0.00 0.00Z"/>
<path fill="#22a884" d="M0.00 0.00L10.21 16.66A19.54 19.54 0 0 1 4.56 19.00L0.00 0.00Z"/>
<path fill="#2a788e" d="M0.00 0.00L8.63 14.08A16.51 16.51 0 0 1 3.85 16.05L0.00 0.00Z"/>
<path fill="#414487" d="M0.00 0.00L4.66 7.61A8.93 8.93 0 0 1 2.08 8.68L0.00 0.00Z"/>
<path fill="#440154" d="M0.00 0.00L1.32 2.15A2.53 2.53 0 0 1 0.59 2.46L0.00 0.00Z"/>
<path class="e" d="M0.00 0.00L11.09 18.10A21.23 21.23 0 0 1 4.96 20.64L0.00 0.00Z"/>
<path fill="#7ad151" d="M0.00 0.00L3.52 22.24A22.51 22.51 0 0 1 -3.52 22.24L0.00 0.00Z"/>
<path fill="#22a884" d="M0.00 0.00L3.21 20.25A20.50 20.50 0 0 1 -3.21 20.25L0.00 0.00Z"/>
<path fill="#2a788e" d="M0.00 0.00L2.58 16.26A16.47 16.47 0 0 1 -2.58 16.26L0.00 0.00Z"/>
<path fill="#414487" d="M0.00 0.00L1.37 8.63A8.74 8.74 0 0 1 -1.37 8.63L0.00 0.00Z"/>
<path fill="#440154" d="M0.00 0.00L0.39 2.49A2.52 2.52 0 0 1 -0.39 2.49L0.00 0.00Z"/>
<path class="e" d="M0.00 0.00L3.52 22.24A22.51 22.51 0 0 1 -3.52 22.24L0.00 0.00Z"/>
<path fill="#7ad151" d="M0.00 0.00L-5.94 24.73A25.44 25.44 0 0 1 -13.29 21.69L0.00 0.00Z"/>
<path fill="#22a884" d="M0.00 0.00L-5.31 22.11A22.74 22.74 0 0 1 -11.88 19.39L0.00 0.00Z"/>
<path fill="#2a788e" d="M0.00 0.00L-3.97 16.54A17.01 17.01 0 0 1 -8.89 14.51L0.00 0.00Z"/>
<path fill="#414487" d="M0.00 0.00L-2.12 8.85A9.10 9.10 0 0 1 -4.75 7.76L0.00 0.00Z"/>
<path fill="#440154" d="M0.00 0.00L-0.59 2.46A2.53 2.53 0 0 1 -1.32 2.15L0.00 0.00Z"/>
<path class="e" d="M0.00 0.00L-5.94 24.73A25.44 25.44 0 0 1 -13.29 21.69L0.00 0.00Z"/>
<path fill="#7ad151" d="M0.00 0.00L-21.52 29.63A36.62 36.62 0 0 1 -29.63 21.52L0.00 0.00Z"/>
<path fill="#22a884" d="M0.00 0.00L-18.44 25.37A31.36 31.36 0 0 1 -25.37 18.44L0.00 0.00Z"/>
<path fill="#2a788e" d="M0.00 0.00L-10.96 15.09A18.65 18.65 0 0 1 -15.09 10.96L0.00 0.00Z"/>
<path fill="#414487" d="M0.00 0.00L-5.28 7.27A8.99 8.99 0 0 1 -7.27 5.28L0.00 0.00Z"/>
<path fill="#440154" d="M0.00 0.00L-1.49 2.06A2.54 2.54 0 0 1 -2.06 1.49L0.00 0.00Z"/>
<path class="e" d="M0.00 0.00L-21.52 29.63A36.62 36.62 0 0 1 -29.63 21.52L0.00 0.00Z"/>
<path fill="#7ad151" d="M0.00 0.00L-34.92 21.40A40.95 40.95 0 0 1 -39.82 9.56L0.00 0.00Z"/>
<path fill="#22a884" d="M0.00 0.00L-26.92 16.49A31.57 31.57 0 0 1 -30.70 7.37L0.00 0.00Z"/>
<path fill="#2a788e" d="M0.00 0.00L-16.73 10.25A19.62 19.62 0 0 1 -19.08 4.58L0.00 0.00Z"/>
<path fill="#414487" d="M0.00 0.00L-8.29 5.08A9.73 9.73 0 0 1 -9.46 2.27L0.00 0.00Z"/>
<path fill="#440154" d="M0.00 0.00L-2.18 1.34A2.56 2.56 0 0 1 -2.49 0.60L0.00 0.00Z"/>
<path class="e" d="M0.00 0.00L-34.92 21.40A40.95 40.95 0 0 1 -39.82 9.56L0.00 0.00Z"/>
<path fill="#7ad151" d="M0.00 0.00L-29.74 4.71A30.11 30.11 0 0 1 -29.74 -4.71L0.00 0.00Z"/>
<path fill="#22a884" d="M0.00 0.00L-22.81 3.61A23.10 23.10 0 0 1 -22.81 -3.61L0.00 0.00Z"/>
<path fill="#2a788e" d="M0.00 0.00L-16.05 2.54A16.25 16.25 0 0 1 -16.05 -2.54L0.00 0.00Z"/>
<path fill="#414487" d="M0.00 0.00L-8.45 1.34A8.55 8.55 0 0 1 -8.45 -1.34L0.00 0.00Z"/>
<path fill="#440154" d="M0.00 0.00L-2.53 0.40A2.57 2.57 0 0 1 -2.53 -0.40L0.00 0.00Z"/>
<path class="e" d="M0.00 0.00L-29.74 4.71A30.11 30.11 0 0 1 -29.74 -4.71L0.00 0.00Z"/>
<path fill="#7ad151" d="M0.00 0.00L-17.42 -4.18A17.92 17.92 0 0 1 -15.28 -9.36L0.00 0.00Z"/>
<path fill="#22a884" d="M0.00 0.00L-15.93 -3.82A16.38 16.38 0 0 1 -13.97 -8.56L0.00 0.00Z"/>
<path fill="#2a788e" d="M0.00 0.00L-13.61 -3.27A13.99 13.99 0 0 1 -11.93 -7.31L0.00 0.00Z"/>
<path fill="#414487" d="M0.00 0.00L-7.96 -1.91A8.19 8.19 0 0 1 -6.98 -4.28L0.00 0.00Z"/>
<path fill="#440154" d="M0.00 0.00L-2.49 -0.60A2.56 2.56 0 0 1 -2.18 -1.34L0.00 0.00Z"/>
<path class="e" d="M0.00 0.00L-17.42 -4.18A17.92 17.92 0 0 1 -15.28 -9.36L0.00 0.00Z"/>
<path fill="#2a788e" d="M0.00 0.00L-9.19 -6.68A11.36 11.36 0 0 1 -6.68 -9.19L0.00 0.00Z"/>
<path fill="#414487" d="M0.00 0.00L-6.17 -4.48A7.63 7.63 0 0 1 -4.48 -6.17L0.00 0.00Z"/>
<path fill="#440154" d="M0.00 0.00L-1.65 -1.20A2.03 2.03 0 0 1 -1.20 -1.65L0.00 0.00Z"/>
<path class="e" d="M0.00 0.00L-9.19 -6.68A11.36 11.36 0 0 1 -6.68 -9.19L0.00 0.00Z"/>
<path fill="#2a788e" d="M0.00 0.00L-6.43 -10.49A12.30 12.30 0 0 1 -2.87 -11.96L0.00 0.00Z"/>
<path fill="#414487" d="M0.00 0.00L-5.11 -8.33A9.77 9.77 0 0 1 -2.28 -9.50L0.00 0.00Z"/>
<path fill="#440154" d="M0.00 0.00L-1.76 -2.87A3.37 3.37 0 0 1 -0.79 -3.28L0.00 0.00Z"/>
<path class="e" d="M0.00 0.00L-6.43 -10.49A12.30 12.30 0 0 1 -2.87 -11.96L0.00 0.00Z"/>
</g>
<circle class="g" cx="0" cy="0" r="8.30"/><circle class="g" cx="0" cy="0" r="16.60"/><circle class="g" cx="0" cy="0" r="24.90"/><circle class="g" cx="0" cy="0" r="33.20"/><path class="g" d="M0 0L0.00 -41.50M0 0L29.34 -29.34M0 0L41.50 -0.00M0 0L29.34 29.34M0 0L0.00 41.50M0 0L-29.34 29.34M0 0L-41.50 0.00M0 0L-29.34 -29.34"/><circle class="o" cx="0" cy="0" r="41.50"/>
</g>
<text class="d" x="348.5" y="195.6">N</text>
<text class="d" x="380.9" y="209.5">NE</text>
<text class="d" x="395.2" y="243.2">E</text>
<text class="d" x="381.6" y="276.6">SE</text>
<text class="d" x="348.5" y="290.5">S</text>
<text class="d" x="315.2" y="276.6">SW</text>
<text class="d" x="302.6" y="243.2">W</text>
<text class="d" x="315.4" y="209.5">NW</text>
</g>
<g id="p2018">
<text class="y" x="446.3" y="186.9">2018</text>
<g transform="translate(445.9,240.6) scale(0.982,1)">
<g class="b">
<path fill="#414487" d="M0.00 0.00L-1.68 -10.62A10.75 10.75 0 0 1 1.68 -10.62L0.00 0.00Z"/>
<path fill="#440154" d="M0.00 0.00L-1.18 -7.47A7.56 7.56 0 0 1 1.18 -7.47L0.00 0.00Z"/>
<path class="e" d="M0.00 0.00L-1.68 -10.62A10.75 10.75 0 0 1 1.68 -10.62L0.00 0.00Z"/>
<path fill="#414487" d="M0.00 0.00L3.38 -14.09A14.49 14.49 0 0 1 7.57 -12.35L0.00 0.00Z"/>
<path fill="#440154" d="M0.00 0.00L1.89 -7.86A8.09 8.09 0 0 1 4.22 -6.89L0.00 0.00Z"/>
<path class="e" d="M0.00 0.00L3.38 -14.09A14.49 14.49 0 0 1 7.57 -12.35L0.00 0.00Z"/>
<path fill="#2a788e" d="M0.00 0.00L19.23 -26.47A32.72 32.72 0 0 1 26.47 -19.23L0.00 0.00Z"/>
<path fill="#414487" d="M0.00 0.00L14.95 -20.57A25.43 25.43 0 0 1 20.57 -14.95L0.00 0.00Z"/>
<path fill="#440154" d="M0.00 0.00L5.58 -7.68A9.49 9.49 0 0 1 7.68 -5.58L0.00 0.00Z"/>
<path class="e" d="M0.00 0.00L19.23 -26.47A32.72 32.72 0 0 1 26.47 -19.23L0.00 0.00Z"/>
<path fill="#22a884" d="M0.00 0.00L34.63 -21.22A40.61 40.61 0 0 1 39.49 -9.48L0.00 0.00Z"/>
<path fill="#2a788e" d="M0.00 0.00L32.30 -19.79A37.88 37.88 0 0 1 36.83 -8.84L0.00 0.00Z"/>
<path fill="#414487" d="M0.00 0.00L24.73 -15.16A29.01 29.01 0 0 1 28.21 -6.77L0.00 0.00Z"/>
<path fill="#440154" d="M0.00 0.00L8.00 -4.90A9.38 9.38 0 0 1 9.13 -2.19L0.00 0.00Z"/>
<path class="e" d="M0.00 0.00L34.63 -21.22A40.61 40.61 0 0 1 39.49 -9.48L0.00 0.00Z"/>
<path fill="#2a788e" d="M0.00 0.00L23.32 -3.69A23.61 23.61 0 0 1 23.32 3.69L0.00 0.00Z"/>
<path fill="#414487" d="M0.00 0.00L18.59 -2.94A18.82 18.82 0 0 1 18.59 2.94L0.00 0.00Z"/>
<path fill="#440154" d="M0.00 0.00L8.28 -1.31A8.38 8.38 0 0 1 8.28 1.31L0.00 0.00Z"/>
<path class="e" d="M0.00 0.00L23.32 -3.69A23.61 23.61 0 0 1 23.32 3.69L0.00 0.00Z"/>
<path fill="#22a884" d="M0.00 0.00L23.39 5.62A24.06 24.06 0 0 1 20.51 12.57L0.00 0.00Z"/>
<path fill="#2a788e" d="M0.00 0.00L18.25 4.38A18.77 18.77 0 0 1 16.00 9.81L0.00 0.00Z"/>
<path fill="#414487" d="M0.00 0.00L9.13 2.19A9.38 9.38 0 0 1 8.00 4.90L0.00 0.00Z"/>
<path fill="#440154" d="M0.00 0.00L3.15 0.76A3.24 3.24 0 0 1 2.76 1.69L0.00 0.00Z"/>
<path class="e" d="M0.00 0.00L23.39 5.62A24.06 24.06 0 0 1 20.51 12.57L0.00 0.00Z"/>
<path fill="#7ad151" d="M0.00 0.00L23.45 17.04A28.99 28.99 0 0 1 17.04 23.45L0.00 0.00Z"/>
<path fill="#22a884" d="M0.00 0.00L20.57 14.95A25.43 25.43 0 0 1 14.95 20.57L0.00 0.00Z"/>
<path fill="#2a788e" d="M0.00 0.00L15.09 10.96A18.65 18.65 0 0 1 10.96 15.09L0.00 0.00Z"/>
<path fill="#414487" d="M0.00 0.00L7.27 5.28A8.99 8.99 0 0 1 5.28 7.27L0.00 0.00Z"/>
<path fill="#440154" d="M0.00 0.00L2.33 1.69A2.88 2.88 0 0 1 1.69 2.33L0.00 0.00Z"/>
<path class="e" d="M0.00 0.00L23.45 17.04A28.99 28.99 0 0 1 17.04 23.45L0.00 0.00Z"/>
<path fill="#7ad151" d="M0.00 0.00L10.74 17.52A20.55 20.55 0 0 1 4.80 19.98L0.00 0.00Z"/>
<path fill="#22a884" d="M0.00 0.00L9.95 16.23A19.04 19.04 0 0 1 4.44 18.51L0.00 0.00Z"/>
<path fill="#2a788e" d="M0.00 0.00L8.36 13.65A16.00 16.00 0 0 1 3.74 15.56L0.00 0.00Z"/>
<path fill="#414487" d="M0.00 0.00L4.75 7.76A9.10 9.10 0 0 1 2.12 8.85L0.00 0.00Z"/>
<path fill="#440154" d="M0.00 0.00L1.50 2.44A2.86 2.86 0 0 1 0.67 2.78L0.00 0.00Z"/>
<path class="e" d="M0.00 0.00L10.74 17.52A20.55 20.55 0 0 1 4.80 19.98L0.00 0.00Z"/>
<path fill="#22a884" d="M0.00 0.00L3.44 21.74A22.01 22.01 0 0 1 -3.44 21.74L0.00 0.00Z"/>
<path fill="#2a788e" d="M0.00 0.00L2.63 16.59A16.80 16.80 0 0 1 -2.63 16.59L0.00 0.00Z"/>
<path fill="#414487" d="M0.00 0.00L1.50 9.46A9.58 9.58 0 0 1 -1.50 9.46L0.00 0.00Z"/>
<path fill="#440154" d="M0.00 0.00L0.45 2.82A2.86 2.86 0 0 1 -0.45 2.82L0.00 0.00Z"/>
<path class="e" d="M0.00 0.00L3.44 21.74A22.01 22.01 0 0 1 -3.44 21.74L0.00 0.00Z"/>
<path fill="#7ad151" d="M0.00 0.00L-5.70 23.75A24.43 24.43 0 0 1 -12.76 20.83L0.00 0.00Z"/>
<path fill="#22a884" d="M0.00 0.00L-5.11 21.29A21.90 21.90 0 0 1 -11.44 18.67L0.00 0.00Z"/>
<path fill="#2a788e" d="M0.00 0.00L-3.85 16.05A16.51 16.51 0 0 1 -8.63 14.08L0.00 0.00Z"/>
<path fill="#414487" d="M0.00 0.00L-2.24 9.34A9.60 9.60 0 0 1 -5.02 8.19L0.00 0.00Z"/>
<path fill="#440154" d="M0.00 0.00L-0.67 2.78A2.86 2.86 0 0 1 -1.50 2.44L0.00 0.00Z"/>
<path class="e" d="M0.00 0.00L-5.70 23.75A24.43 24.43 0 0 1 -12.76 20.83L0.00 0.00Z"/>
<path fill="#7ad151" d="M0.00 0.00L-17.64 24.28A30.01 30.01 0 0 1 -24.28 17.64L0.00 0.00Z"/>
<path fill="#22a884" d="M0.00 0.00L-14.95 20.57A25.43 25.43 0 0 1 -20.57 14.95L0.00 0.00Z"/>
<path fill="#2a788e" d="M0.00 0.00L-10.46 14.40A17.80 17.80 0 0 1 -14.40 10.46L0.00 0.00Z"/>
<path fill="#414487" d="M0.00 0.00L-5.48 7.54A9.32 9.32 0 0 1 -7.54 5.48L0.00 0.00Z"/>
<path fill="#440154" d="M0.00 0.00L-1.69 2.33A2.88 2.88 0 0 1 -2.33 1.69L0.00 0.00Z"/>
<path class="e" d="M0.00 0.00L-17.64 24.28A30.01 30.01 0 0 1 -24.28 17.64L0.00 0.00Z"/>
<path fill="#7ad151" d="M0.00 0.00L-27.06 16.58A31.74 31.74 0 0 1 -30.86 7.41L0.00 0.00Z"/>
<path fill="#22a884" d="M0.00 0.00L-21.82 13.37A25.60 25.60 0 0 1 -24.89 5.98L0.00 0.00Z"/>
<path fill="#2a788e" d="M0.00 0.00L-14.99 9.18A17.58 17.58 0 0 1 -17.09 4.10L0.00 0.00Z"/>
<path fill="#414487" d="M0.00 0.00L-8.44 5.17A9.90 9.90 0 0 1 -9.62 2.31L0.00 0.00Z"/>
<path fill="#440154" d="M0.00 0.00L-2.47 1.52A2.90 2.90 0 0 1 -2.82 0.68L0.00 0.00Z"/>
<path class="e" d="M0.00 0.00L-27.06 16.58A31.74 31.74 0 0 1 -30.86 7.41L0.00 0.00Z"/>
<path fill="#7ad151" d="M0.00 0.00L-25.69 4.07A26.01 26.01 0 0 1 -25.69 -4.07L0.00 0.00Z"/>
<path fill="#22a884" d="M0.00 0.00L-21.97 3.48A22.24 22.24 0 0 1 -21.97 -3.48L0.00 0.00Z"/>
<path fill="#2a788e" d="M0.00 0.00L-15.55 2.46A15.74 15.74 0 0 1 -15.55 -2.46L0.00 0.00Z"/>
<path fill="#414487" d="M0.00 0.00L-9.80 1.55A9.92 9.92 0 0 1 -9.80 -1.55L0.00 0.00Z"/>
<path fill="#440154" d="M0.00 0.00L-2.87 0.46A2.91 2.91 0 0 1 -2.87 -0.46L0.00 0.00Z"/>
<path class="e" d="M0.00 0.00L-25.69 4.07A26.01 26.01 0 0 1 -25.69 -4.07L0.00 0.00Z"/>
<path fill="#7ad151" d="M0.00 0.00L-17.26 -4.14A17.75 17.75 0 0 1 -15.13 -9.27L0.00 0.00Z"/>
<path fill="#22a884" d="M0.00 0.00L-16.09 -3.86A16.55 16.55 0 0 1 -14.11 -8.65L0.00 0.00Z"/>
<path fill="#2a788e" d="M0.00 0.00L-13.61 -3.27A13.99 13.99 0 0 1 -11.93 -7.31L0.00 0.00Z"/>
<path fill="#414487" d="M0.00 0.00L-9.29 -2.23A9.56 9.56 0 0 1 -8.15 -4.99L0.00 0.00Z"/>
<path fill="#440154" d="M0.00 0.00L-2.82 -0.68A2.90 2.90 0 0 1 -2.47 -1.52L0.00 0.00Z"/>
<path class="e" d="M0.00 0.00L-17.26 -4.14A17.75 17.75 0 0 1 -15.13 -9.27L0.00 0.00Z"/>
<path fill="#2a788e" d="M0.00 0.00L-14.81 -10.76A18.31 18.31 0 0 1 -10.76 -14.81L0.00 0.00Z"/>
<path fill="#414487" d="M0.00 0.00L-11.38 -8.27A14.07 14.07 0 0 1 -8.27 -11.38L0.00 0.00Z"/>
<path fill="#440154" d="M0.00 0.00L-3.57 -2.59A4.41 4.41 0 0 1 -2.59 -3.57L0.00 0.00Z"/>
<path class="e" d="M0.00 0.00L-14.81 -10.76A18.31 18.31 0 0 1 -10.76 -14.81L0.00 0.00Z"/>
<path fill="#2a788e" d="M0.00 0.00L-6.34 -10.34A12.13 12.13 0 0 1 -2.83 -11.79L0.00 0.00Z"/>
<path fill="#414487" d="M0.00 0.00L-5.46 -8.91A10.44 10.44 0 0 1 -2.44 -10.16L0.00 0.00Z"/>
<path fill="#440154" d="M0.00 0.00L-3.34 -5.46A6.40 6.40 0 0 1 -1.49 -6.22L0.00 0.00Z"/>
<path class="e" d="M0.00 0.00L-6.34 -10.34A12.13 12.13 0 0 1 -2.83 -11.79L0.00 0.00Z"/>
</g>
<circle class="g" cx="0" cy="0" r="8.30"/><circle class="g" cx="0" cy="0" r="16.60"/><circle class="g" cx="0" cy="0" r="24.90"/><circle class="g" cx="0" cy="0" r="33.20"/><path class="g" d="M0 0L0.00 -41.50M0 0L29.34 -29.34M0 0L41.50 -0.00M0 0L29.34 29.34M0 0L0.00 41.50M0 0L-29.34 29.34M0 0L-41.50 0.00M0 0L-29.34 -29.34"/><circle class="o" cx="0" cy="0" r="41.50"/>
</g>
<text class="d" x="446.1" y="195.6">N</text>
<text class="d" x="478.5" y="209.5">NE</text>
<text class="d" x="492.8" y="243.2">E</text>
<text class="d" x="479.1" y="276.6">SE</text>
<text class="d" x="446.1" y="290.5">S</text>
<text class="d" x="412.8" y="276.6">SW</text>
<text class="d" x="400.2" y="243.2">W</text>
<text class="d" x="413.0" y="209.5">NW</text>
</g>
<g id="p2019">
<text class="y" x="55.8" y="309.3">2019</text>
<g transform="translate(55.4,363.0) scale(0.982,1)">
<g class="b">
<path fill="#414487" d="M0.00 0.00L-1.63 -10.29A10.42 10.42 0 0 1 1.63 -10.29L0.00 0.00Z"/>
<path fill="#440154" d="M0.00 0.00L-1.18 -7.47A7.56 7.56 0 0 1 1.18 -7.47L0.00 0.00Z"/>
<path class="e" d="M0.00 0.00L-1.63 -10.29A10.42 10.42 0 0 1 1.63 -10.29L0.00 0.00Z"/>
<path fill="#414487" d="M0.00 0.00L2.67 -11.14A11.46 11.46 0 0 1 5.99 -9.77L0.00 0.00Z"/>
<path fill="#440154" d="M0.00 0.00L1.81 -7.53A7.75 7.75 0 0 1 4.05 -6.61L0.00 0.00Z"/>
<path class="e" d="M0.00 0.00L2.67 -11.14A11.46 11.46 0 0 1 5.99 -9.77L0.00 0.00Z"/>
<path fill="#2a788e" d="M0.00 0.00L15.74 -21.67A26.79 26.79 0 0 1 21.67 -15.74L0.00 0.00Z"/>
<path fill="#414487" d="M0.00 0.00L13.45 -18.52A22.89 22.89 0 0 1 18.52 -13.45L0.00 0.00Z"/>
<path fill="#440154" d="M0.00 0.00L4.98 -6.86A8.48 8.48 0 0 1 6.86 -4.98L0.00 0.00Z"/>
<path class="e" d="M0.00 0.00L15.74 -21.67A26.79 26.79 0 0 1 21.67 -15.74L0.00 0.00Z"/>
<path fill="#22a884" d="M0.00 0.00L35.26 -21.61A41.35 41.35 0 0 1 40.21 -9.65L0.00 0.00Z"/>
<path fill="#2a788e" d="M0.00 0.00L34.19 -20.95A40.10 40.10 0 0 1 38.99 -9.36L0.00 0.00Z"/>
<path fill="#414487" d="M0.00 0.00L24.01 -14.71A28.15 28.15 0 0 1 27.38 -6.57L0.00 0.00Z"/>
<path fill="#440154" d="M0.00 0.00L7.13 -4.37A8.36 8.36 0 0 1 8.13 -1.95L0.00 0.00Z"/>
<path class="e" d="M0.00 0.00L35.26 -21.61A41.35 41.35 0 0 1 40.21 -9.65L0.00 0.00Z"/>
<path fill="#2a788e" d="M0.00 0.00L31.77 -5.03A32.17 32.17 0 0 1 31.77 5.03L0.00 0.00Z"/>
<path fill="#414487" d="M0.00 0.00L21.12 -3.35A21.39 21.39 0 0 1 21.12 3.35L0.00 0.00Z"/>
<path fill="#440154" d="M0.00 0.00L7.27 -1.15A7.36 7.36 0 0 1 7.27 1.15L0.00 0.00Z"/>
<path class="e" d="M0.00 0.00L31.77 -5.03A32.17 32.17 0 0 1 31.77 5.03L0.00 0.00Z"/>
<path fill="#22a884" d="M0.00 0.00L23.56 5.66A24.23 24.23 0 0 1 20.66 12.66L0.00 0.00Z"/>
<path fill="#2a788e" d="M0.00 0.00L19.08 4.58A19.62 19.62 0 0 1 16.73 10.25L0.00 0.00Z"/>
<path fill="#414487" d="M0.00 0.00L10.62 2.55A10.92 10.92 0 0 1 9.31 5.71L0.00 0.00Z"/>
<path fill="#440154" d="M0.00 0.00L3.32 0.80A3.41 3.41 0 0 1 2.91 1.78L0.00 0.00Z"/>
<path class="e" d="M0.00 0.00L23.56 5.66A24.23 24.23 0 0 1 20.66 12.66L0.00 0.00Z"/>
<path fill="#7ad151" d="M0.00 0.00L19.20 13.95A23.73 23.73 0 0 1 13.95 19.20L0.00 0.00Z"/>
<path fill="#22a884" d="M0.00 0.00L17.83 12.95A22.04 22.04 0 0 1 12.95 17.83L0.00 0.00Z"/>
<path fill="#2a788e" d="M0.00 0.00L14.81 10.76A18.31 18.31 0 0 1 10.76 14.81L0.00 0.00Z"/>
<path fill="#414487" d="M0.00 0.00L7.82 5.68A9.66 9.66 0 0 1 5.68 7.82L0.00 0.00Z"/>
<path fill="#440154" d="M0.00 0.00L2.33 1.69A2.88 2.88 0 0 1 1.69 2.33L0.00 0.00Z"/>
<path class="e" d="M0.00 0.00L19.20 13.95A23.73 23.73 0 0 1 13.95 19.20L0.00 0.00Z"/>
<path fill="#7ad151" d="M0.00 0.00L11.97 19.53A22.91 22.91 0 0 1 5.35 22.28L0.00 0.00Z"/>
<path fill="#22a884" d="M0.00 0.00L11.00 17.95A21.06 21.06 0 0 1 4.92 20.48L0.00 0.00Z"/>
<path fill="#2a788e" d="M0.00 0.00L8.98 14.65A17.18 17.18 0 0 1 4.01 16.71L0.00 0.00Z"/>
<path fill="#414487" d="M0.00 0.00L5.46 8.91A10.44 10.44 0 0 1 2.44 10.16L0.00 0.00Z"/>
<path fill="#440154" d="M0.00 0.00L1.50 2.44A2.86 2.86 0 0 1 0.67 2.78L0.00 0.00Z"/>
<path class="e" d="M0.00 0.00L11.97 19.53A22.91 22.91 0 0 1 5.35 22.28L0.00 0.00Z"/>
<path fill="#7ad151" d="M0.00 0.00L4.47 28.21A28.56 28.56 0 0 1 -4.47 28.21L0.00 0.00Z"/>
<path fill="#22a884" d="M0.00 0.00L4.15 26.22A26.55 26.55 0 0 1 -4.15 26.22L0.00 0.00Z"/>
<path fill="#2a788e" d="M0.00 0.00L3.15 19.91A20.16 20.16 0 0 1 -3.15 19.91L0.00 0.00Z"/>
<path fill="#414487" d="M0.00 0.00L1.68 10.62A10.75 10.75 0 0 1 -1.68 10.62L0.00 0.00Z"/>
<path fill="#440154" d="M0.00 0.00L0.45 2.82A2.86 2.86 0 0 1 -0.45 2.82L0.00 0.00Z"/>
<path class="e" d="M0.00 0.00L4.47 28.21A28.56 28.56 0 0 1 -4.47 28.21L0.00 0.00Z"/>
<path fill="#7ad151" d="M0.00 0.00L-8.69 36.20A37.23 37.23 0 0 1 -19.45 31.74L0.00 0.00Z"/>
<path fill="#22a884" d="M0.00 0.00L-7.67 31.94A32.85 32.85 0 0 1 -17.16 28.01L0.00 0.00Z"/>
<path fill="#2a788e" d="M0.00 0.00L-5.51 22.93A23.58 23.58 0 0 1 -12.32 20.11L0.00 0.00Z"/>
<path fill="#414487" d="M0.00 0.00L-2.71 11.30A11.62 11.62 0 0 1 -6.07 9.91L0.00 0.00Z"/>
<path fill="#440154" d="M0.00 0.00L-0.67 2.78A2.86 2.86 0 0 1 -1.50 2.44L0.00 0.00Z"/>
<path class="e" d="M0.00 0.00L-8.69 36.20A37.23 37.23 0 0 1 -19.45 31.74L0.00 0.00Z"/>
<path fill="#7ad151" d="M0.00 0.00L-20.23 27.84A34.42 34.42 0 0 1 -27.84 20.23L0.00 0.00Z"/>
<path fill="#22a884" d="M0.00 0.00L-17.94 24.69A30.52 30.52 0 0 1 -24.69 17.94L0.00 0.00Z"/>
<path fill="#2a788e" d="M0.00 0.00L-12.16 16.73A20.68 20.68 0 0 1 -16.73 12.16L0.00 0.00Z"/>
<path fill="#414487" d="M0.00 0.00L-6.88 9.46A11.70 11.70 0 0 1 -9.46 6.88L0.00 0.00Z"/>
<path fill="#440154" d="M0.00 0.00L-1.69 2.33A2.88 2.88 0 0 1 -2.33 1.69L0.00 0.00Z"/>
<path class="e" d="M0.00 0.00L-20.23 27.84A34.42 34.42 0 0 1 -27.84 20.23L0.00 0.00Z"/>
<path fill="#7ad151" d="M0.00 0.00L-33.17 20.33A38.90 38.90 0 0 1 -37.83 9.08L0.00 0.00Z"/>
<path fill="#22a884" d="M0.00 0.00L-26.92 16.49A31.57 31.57 0 0 1 -30.70 7.37L0.00 0.00Z"/>
<path fill="#2a788e" d="M0.00 0.00L-17.75 10.88A20.82 20.82 0 0 1 -20.24 4.86L0.00 0.00Z"/>
<path fill="#414487" d="M0.00 0.00L-10.04 6.15A11.77 11.77 0 0 1 -11.45 2.75L0.00 0.00Z"/>
<path fill="#440154" d="M0.00 0.00L-2.47 1.52A2.90 2.90 0 0 1 -2.82 0.68L0.00 0.00Z"/>
<path class="e" d="M0.00 0.00L-33.17 20.33A38.90 38.90 0 0 1 -37.83 9.08L0.00 0.00Z"/>
<path fill="#fde725" d="M0.00 0.00L-34.98 5.54A35.42 35.42 0 0 1 -34.98 -5.54L0.00 0.00Z"/>
<path fill="#7ad151" d="M0.00 0.00L-34.14 5.41A34.56 34.56 0 0 1 -34.14 -5.41L0.00 0.00Z"/>
<path fill="#22a884" d="M0.00 0.00L-26.19 4.15A26.52 26.52 0 0 1 -26.19 -4.15L0.00 0.00Z"/>
<path fill="#2a788e" d="M0.00 0.00L-17.24 2.73A17.45 17.45 0 0 1 -17.24 -2.73L0.00 0.00Z"/>
<path fill="#414487" d="M0.00 0.00L-10.48 1.66A10.61 10.61 0 0 1 -10.48 -1.66L0.00 0.00Z"/>
<path fill="#440154" d="M0.00 0.00L-2.87 0.46A2.91 2.91 0 0 1 -2.87 -0.46L0.00 0.00Z"/>
<path class="e" d="M0.00 0.00L-34.98 5.54A35.42 35.42 0 0 1 -34.98 -5.54L0.00 0.00Z"/>
<path fill="#7ad151" d="M0.00 0.00L-21.57 -5.18A22.18 22.18 0 0 1 -18.91 -11.59L0.00 0.00Z"/>
<path fill="#22a884" d="M0.00 0.00L-20.24 -4.86A20.82 20.82 0 0 1 -17.75 -10.88L0.00 0.00Z"/>
<path fill="#2a788e" d="M0.00 0.00L-17.92 -4.30A18.43 18.43 0 0 1 -15.71 -9.63L0.00 0.00Z"/>
<path fill="#414487" d="M0.00 0.00L-10.95 -2.63A11.26 11.26 0 0 1 -9.60 -5.88L0.00 0.00Z"/>
<path fill="#440154" d="M0.00 0.00L-2.82 -0.68A2.90 2.90 0 0 1 -2.47 -1.52L0.00 0.00Z"/>
<path class="e" d="M0.00 0.00L-21.57 -5.18A22.18 22.18 0 0 1 -18.91 -11.59L0.00 0.00Z"/>
<path fill="#22a884" d="M0.00 0.00L-19.61 -14.25A24.24 24.24 0 0 1 -14.25 -19.61L0.00 0.00Z"/>
<path fill="#2a788e" d="M0.00 0.00L-18.52 -13.45A22.89 22.89 0 0 1 -13.45 -18.52L0.00 0.00Z"/>
<path fill="#414487" d="M0.00 0.00L-13.03 -9.47A16.11 16.11 0 0 1 -9.47 -13.03L0.00 0.00Z"/>
<path fill="#440154" d="M0.00 0.00L-2.06 -1.49A2.54 2.54 0 0 1 -1.49 -2.06L0.00 0.00Z"/>
<path class="e" d="M0.00 0.00L-19.61 -14.25A24.24 24.24 0 0 1 -14.25 -19.61L0.00 0.00Z"/>
<path fill="#2a788e" d="M0.00 0.00L-7.48 -12.21A14.32 14.32 0 0 1 -3.34 -13.92L0.00 0.00Z"/>
<path fill="#414487" d="M0.00 0.00L-5.99 -9.77A11.46 11.46 0 0 1 -2.67 -11.14L0.00 0.00Z"/>
<path fill="#440154" d="M0.00 0.00L-2.20 -3.59A4.21 4.21 0 0 1 -0.98 -4.10L0.00 0.00Z"/>
<path class="e" d="M0.00 0.00L-7.48 -12.21A14.32 14.32 0 0 1 -3.34 -13.92L0.00 0.00Z"/>
</g>
<circle class="g" cx="0" cy="0" r="8.30"/><circle class="g" cx="0" cy="0" r="16.60"/><circle class="g" cx="0" cy="0" r="24.90"/><circle class="g" cx="0" cy="0" r="33.20"/><path class="g" d="M0 0L0.00 -41.50M0 0L29.34 -29.34M0 0L41.50 -0.00M0 0L29.34 29.34M0 0L0.00 41.50M0 0L-29.34 29.34M0 0L-41.50 0.00M0 0L-29.34 -29.34"/><circle class="o" cx="0" cy="0" r="41.50"/>
</g>
<text class="d" x="55.6" y="318.0">N</text>
<text class="d" x="88.0" y="331.9">NE</text>
<text class="d" x="102.3" y="365.6">E</text>
<text class="d" x="88.7" y="399.0">SE</text>
<text class="d" x="55.6" y="412.9">S</text>
<text class="d" x="22.3" y="399.0">SW</text>
<text class="d" x="9.7" y="365.6">W</text>
<text class="d" x="22.5" y="331.9">NW</text>
</g>
<g id="p2020">
<text class="y" x="153.4" y="309.3">2020</text>
<g transform="translate(153.0,363.0) scale(0.982,1)">
<g class="b">
<path fill="#414487" d="M0.00 0.00L-1.26 -7.97A8.06 8.06 0 0 1 1.26 -7.97L0.00 0.00Z"/>
<path fill="#440154" d="M0.00 0.00L-0.76 -4.81A4.87 4.87 0 0 1 0.76 -4.81L0.00 0.00Z"/>
<path class="e" d="M0.00 0.00L-1.26 -7.97A8.06 8.06 0 0 1 1.26 -7.97L0.00 0.00Z"/>
<path fill="#414487" d="M0.00 0.00L2.04 -8.52A8.76 8.76 0 0 1 4.58 -7.47L0.00 0.00Z"/>
<path fill="#440154" d="M0.00 0.00L1.18 -4.91A5.05 5.05 0 0 1 2.64 -4.31L0.00 0.00Z"/>
<path class="e" d="M0.00 0.00L2.04 -8.52A8.76 8.76 0 0 1 4.58 -7.47L0.00 0.00Z"/>
<path fill="#2a788e" d="M0.00 0.00L9.77 -13.44A16.61 16.61 0 0 1 13.44 -9.77L0.00 0.00Z"/>
<path fill="#414487" d="M0.00 0.00L8.47 -11.66A14.41 14.41 0 0 1 11.66 -8.47L0.00 0.00Z"/>
<path fill="#440154" d="M0.00 0.00L2.99 -4.11A5.09 5.09 0 0 1 4.11 -2.99L0.00 0.00Z"/>
<path class="e" d="M0.00 0.00L9.77 -13.44A16.61 16.61 0 0 1 13.44 -9.77L0.00 0.00Z"/>
<path fill="#2a788e" d="M0.00 0.00L19.64 -12.04A23.04 23.04 0 0 1 22.40 -5.38L0.00 0.00Z"/>
<path fill="#414487" d="M0.00 0.00L14.99 -9.18A17.58 17.58 0 0 1 17.09 -4.10L0.00 0.00Z"/>
<path fill="#440154" d="M0.00 0.00L5.53 -3.39A6.48 6.48 0 0 1 6.30 -1.51L0.00 0.00Z"/>
<path class="e" d="M0.00 0.00L19.64 -12.04A23.04 23.04 0 0 1 22.40 -5.38L0.00 0.00Z"/>
<path fill="#2a788e" d="M0.00 0.00L18.08 -2.86A18.31 18.31 0 0 1 18.08 2.86L0.00 0.00Z"/>
<path fill="#414487" d="M0.00 0.00L12.17 -1.93A12.32 12.32 0 0 1 12.17 1.93L0.00 0.00Z"/>
<path fill="#440154" d="M0.00 0.00L5.41 -0.86A5.48 5.48 0 0 1 5.41 0.86L0.00 0.00Z"/>
<path class="e" d="M0.00 0.00L18.08 -2.86A18.31 18.31 0 0 1 18.08 2.86L0.00 0.00Z"/>
<path fill="#22a884" d="M0.00 0.00L16.09 3.86A16.55 16.55 0 0 1 14.11 8.65L0.00 0.00Z"/>
<path fill="#2a788e" d="M0.00 0.00L14.60 3.51A15.02 15.02 0 0 1 12.80 7.85L0.00 0.00Z"/>
<path fill="#414487" d="M0.00 0.00L8.30 1.99A8.53 8.53 0 0 1 7.27 4.46L0.00 0.00Z"/>
<path fill="#440154" d="M0.00 0.00L2.65 0.64A2.73 2.73 0 0 1 2.33 1.43L0.00 0.00Z"/>
<path class="e" d="M0.00 0.00L16.09 3.86A16.55 16.55 0 0 1 14.11 8.65L0.00 0.00Z"/>
<path fill="#7ad151" d="M0.00 0.00L17.56 12.76A21.70 21.70 0 0 1 12.76 17.56L0.00 0.00Z"/>
<path fill="#22a884" d="M0.00 0.00L16.18 11.76A20.01 20.01 0 0 1 11.76 16.18L0.00 0.00Z"/>
<path fill="#2a788e" d="M0.00 0.00L13.03 9.47A16.11 16.11 0 0 1 9.47 13.03L0.00 0.00Z"/>
<path fill="#414487" d="M0.00 0.00L6.86 4.98A8.48 8.48 0 0 1 4.98 6.86L0.00 0.00Z"/>
<path fill="#440154" d="M0.00 0.00L2.06 1.49A2.54 2.54 0 0 1 1.49 2.06L0.00 0.00Z"/>
<path class="e" d="M0.00 0.00L17.56 12.76A21.70 21.70 0 0 1 12.76 17.56L0.00 0.00Z"/>
<path fill="#7ad151" d="M0.00 0.00L13.38 21.83A25.61 25.61 0 0 1 5.98 24.90L0.00 0.00Z"/>
<path fill="#22a884" d="M0.00 0.00L12.15 19.82A23.25 23.25 0 0 1 5.43 22.60L0.00 0.00Z"/>
<path fill="#2a788e" d="M0.00 0.00L9.07 14.79A17.35 17.35 0 0 1 4.05 16.87L0.00 0.00Z"/>
<path fill="#414487" d="M0.00 0.00L4.49 7.33A8.59 8.59 0 0 1 2.01 8.35L0.00 0.00Z"/>
<path fill="#440154" d="M0.00 0.00L1.32 2.15A2.53 2.53 0 0 1 0.59 2.46L0.00 0.00Z"/>
<path class="e" d="M0.00 0.00L13.38 21.83A25.61 25.61 0 0 1 5.98 24.90L0.00 0.00Z"/>
<path fill="#7ad151" d="M0.00 0.00L4.26 26.88A27.22 27.22 0 0 1 -4.26 26.88L0.00 0.00Z"/>
<path fill="#22a884" d="M0.00 0.00L3.94 24.89A25.20 25.20 0 0 1 -3.94 24.89L0.00 0.00Z"/>
<path fill="#2a788e" d="M0.00 0.00L2.89 18.25A18.48 18.48 0 0 1 -2.89 18.25L0.00 0.00Z"/>
<path fill="#414487" d="M0.00 0.00L1.31 8.30A8.40 8.40 0 0 1 -1.31 8.30L0.00 0.00Z"/>
<path fill="#440154" d="M0.00 0.00L0.39 2.49A2.52 2.52 0 0 1 -0.39 2.49L0.00 0.00Z"/>
<path class="e" d="M0.00 0.00L4.26 26.88A27.22 27.22 0 0 1 -4.26 26.88L0.00 0.00Z"/>
<path fill="#7ad151" d="M0.00 0.00L-6.96 28.99A29.82 29.82 0 0 1 -15.58 25.42L0.00 0.00Z"/>
<path fill="#22a884" d="M0.00 0.00L-6.10 25.39A26.11 26.11 0 0 1 -13.64 22.26L0.00 0.00Z"/>
<path fill="#2a788e" d="M0.00 0.00L-4.17 17.36A17.86 17.86 0 0 1 -9.33 15.23L0.00 0.00Z"/>
<path fill="#414487" d="M0.00 0.00L-2.08 8.68A8.93 8.93 0 0 1 -4.66 7.61L0.00 0.00Z"/>
<path fill="#440154" d="M0.00 0.00L-0.59 2.46A2.53 2.53 0 0 1 -1.32 2.15L0.00 0.00Z"/>
<path class="e" d="M0.00 0.00L-6.96 28.99A29.82 29.82 0 0 1 -15.58 25.42L0.00 0.00Z"/>
<path fill="#7ad151" d="M0.00 0.00L-17.64 24.28A30.01 30.01 0 0 1 -24.28 17.64L0.00 0.00Z"/>
<path fill="#22a884" d="M0.00 0.00L-14.95 20.57A25.43 25.43 0 0 1 -20.57 14.95L0.00 0.00Z"/>
<path fill="#2a788e" d="M0.00 0.00L-10.16 13.99A17.29 17.29 0 0 1 -13.99 10.16L0.00 0.00Z"/>
<path fill="#414487" d="M0.00 0.00L-4.98 6.86A8.48 8.48 0 0 1 -6.86 4.98L0.00 0.00Z"/>
<path fill="#440154" d="M0.00 0.00L-1.49 2.06A2.54 2.54 0 0 1 -2.06 1.49L0.00 0.00Z"/>
<path class="e" d="M0.00 0.00L-17.64 24.28A30.01 30.01 0 0 1 -24.28 17.64L0.00 0.00Z"/>
<path fill="#7ad151" d="M0.00 0.00L-35.21 21.58A41.29 41.29 0 0 1 -40.15 9.64L0.00 0.00Z"/>
<path fill="#22a884" d="M0.00 0.00L-26.19 16.05A30.71 30.71 0 0 1 -29.87 7.17L0.00 0.00Z"/>
<path fill="#2a788e" d="M0.00 0.00L-15.42 9.45A18.09 18.09 0 0 1 -17.59 4.22L0.00 0.00Z"/>
<path fill="#414487" d="M0.00 0.00L-7.86 4.81A9.21 9.21 0 0 1 -8.96 2.15L0.00 0.00Z"/>
<path fill="#440154" d="M0.00 0.00L-2.18 1.34A2.56 2.56 0 0 1 -2.49 0.60L0.00 0.00Z"/>
<path class="e" d="M0.00 0.00L-35.21 21.58A41.29 41.29 0 0 1 -40.15 9.64L0.00 0.00Z"/>
<path fill="#7ad151" d="M0.00 0.00L-31.77 5.03A32.17 32.17 0 0 1 -31.77 -5.03L0.00 0.00Z"/>
<path fill="#22a884" d="M0.00 0.00L-23.66 3.75A23.95 23.95 0 0 1 -23.66 -3.75L0.00 0.00Z"/>
<path fill="#2a788e" d="M0.00 0.00L-16.05 2.54A16.25 16.25 0 0 1 -16.05 -2.54L0.00 0.00Z"/>
<path fill="#414487" d="M0.00 0.00L-8.11 1.28A8.21 8.21 0 0 1 -8.11 -1.28L0.00 0.00Z"/>
<path fill="#440154" d="M0.00 0.00L-2.53 0.40A2.57 2.57 0 0 1 -2.53 -0.40L0.00 0.00Z"/>
<path class="e" d="M0.00 0.00L-31.77 5.03A32.17 32.17 0 0 1 -31.77 -5.03L0.00 0.00Z"/>
<path fill="#7ad151" d="M0.00 0.00L-14.93 -3.59A15.36 15.36 0 0 1 -13.09 -8.02L0.00 0.00Z"/>
<path fill="#22a884" d="M0.00 0.00L-14.27 -3.43A14.67 14.67 0 0 1 -12.51 -7.67L0.00 0.00Z"/>
<path fill="#2a788e" d="M0.00 0.00L-12.44 -2.99A12.80 12.80 0 0 1 -10.91 -6.69L0.00 0.00Z"/>
<path fill="#414487" d="M0.00 0.00L-7.63 -1.83A7.85 7.85 0 0 1 -6.69 -4.10L0.00 0.00Z"/>
<path fill="#440154" d="M0.00 0.00L-2.49 -0.60A2.56 2.56 0 0 1 -2.18 -1.34L0.00 0.00Z"/>
<path class="e" d="M0.00 0.00L-14.93 -3.59A15.36 15.36 0 0 1 -13.09 -8.02L0.00 0.00Z"/>
<path fill="#22a884" d="M0.00 0.00L-12.89 -9.37A15.94 15.94 0 0 1 -9.37 -12.89L0.00 0.00Z"/>
<path fill="#2a788e" d="M0.00 0.00L-12.07 -8.77A14.92 14.92 0 0 1 -8.77 -12.07L0.00 0.00Z"/>
<path fill="#414487" d="M0.00 0.00L-8.23 -5.98A10.17 10.17 0 0 1 -5.98 -8.23L0.00 0.00Z"/>
<path fill="#440154" d="M0.00 0.00L-1.65 -1.20A2.03 2.03 0 0 1 -1.20 -1.65L0.00 0.00Z"/>
<path class="e" d="M0.00 0.00L-12.89 -9.37A15.94 15.94 0 0 1 -9.37 -12.89L0.00 0.00Z"/>
<path fill="#414487" d="M0.00 0.00L-4.66 -7.61A8.93 8.93 0 0 1 -2.08 -8.68L0.00 0.00Z"/>
<path fill="#440154" d="M0.00 0.00L-1.32 -2.15A2.53 2.53 0 0 1 -0.59 -2.46L0.00 0.00Z"/>
<path class="e" d="M0.00 0.00L-4.66 -7.61A8.93 8.93 0 0 1 -2.08 -8.68L0.00 0.00Z"/>
</g>
<circle class="g" cx="0" cy="0" r="8.30"/><circle class="g" cx="0" cy="0" r="16.60"/><circle class="g" cx="0" cy="0" r="24.90"/><circle class="g" cx="0" cy="0" r="33.20"/><path class="g" d="M0 0L0.00 -41.50M0 0L29.34 -29.34M0 0L41.50 -0.00M0 0L29.34 29.34M0 0L0.00 41.50M0 0L-29.34 29.34M0 0L-41.50 0.00M0 0L-29.34 -29.34"/><circle class="o" cx="0" cy="0" r="41.50"/>
</g>
<text class="d" x="153.2" y="318.0">N</text>
<text class="d" x="185.6" y="331.9">NE</text>
<text class="d" x="199.9" y="365.6">E</text>
<text class="d" x="186.2" y="399.0">SE</text>
<text class="d" x="153.2" y="412.9">S</text>
<text class="d" x="119.9" y="399.0">SW</text>
<text class="d" x="107.3" y="365.6">W</text>
<text class="d" x="120.2" y="331.9">NW</text>
</g>
<g id="p2021">
<text class="y" x="251.0" y="309.3">2021</text>
<g transform="translate(250.6,363.0) scale(0.982,1)">
<g class="b">
<path fill="#414487" d="M0.00 0.00L-3.15 -19.91A20.16 20.16 0 0 1 3.15 -19.91L0.00 0.00Z"/>
<path fill="#440154" d="M0.00 0.00L-2.31 -14.60A14.79 14.79 0 0 1 2.31 -14.60L0.00 0.00Z"/>
<path class="e" d="M0.00 0.00L-3.15 -19.91A20.16 20.16 0 0 1 3.15 -19.91L0.00 0.00Z"/>
<path fill="#2a788e" d="M0.00 0.00L6.06 -25.23A25.94 25.94 0 0 1 13.55 -22.12L0.00 0.00Z"/>
<path fill="#414487" d="M0.00 0.00L5.51 -22.93A23.58 23.58 0 0 1 12.32 -20.11L0.00 0.00Z"/>
<path fill="#440154" d="M0.00 0.00L2.60 -10.81A11.12 11.12 0 0 1 5.81 -9.48L0.00 0.00Z"/>
<path class="e" d="M0.00 0.00L6.06 -25.23A25.94 25.94 0 0 1 13.55 -22.12L0.00 0.00Z"/>
<path fill="#2a788e" d="M0.00 0.00L23.42 -32.23A39.84 39.84 0 0 1 32.23 -23.42L0.00 0.00Z"/>
<path fill="#414487" d="M0.00 0.00L19.43 -26.75A33.06 33.06 0 0 1 26.75 -19.43L0.00 0.00Z"/>
<path fill="#440154" d="M0.00 0.00L6.38 -8.78A10.85 10.85 0 0 1 8.78 -6.38L0.00 0.00Z"/>
<path class="e" d="M0.00 0.00L23.42 -32.23A39.84 39.84 0 0 1 32.23 -23.42L0.00 0.00Z"/>
<path fill="#22a884" d="M0.00 0.00L32.01 -19.61A37.54 37.54 0 0 1 36.50 -8.76L0.00 0.00Z"/>
<path fill="#2a788e" d="M0.00 0.00L31.28 -19.17A36.69 36.69 0 0 1 35.67 -8.56L0.00 0.00Z"/>
<path fill="#414487" d="M0.00 0.00L24.73 -15.16A29.01 29.01 0 0 1 28.21 -6.77L0.00 0.00Z"/>
<path fill="#440154" d="M0.00 0.00L8.73 -5.35A10.24 10.24 0 0 1 9.96 -2.39L0.00 0.00Z"/>
<path class="e" d="M0.00 0.00L32.01 -19.61A37.54 37.54 0 0 1 36.50 -8.76L0.00 0.00Z"/>
<path fill="#2a788e" d="M0.00 0.00L24.50 -3.88A24.81 24.81 0 0 1 24.50 3.88L0.00 0.00Z"/>
<path fill="#414487" d="M0.00 0.00L17.74 -2.81A17.97 17.97 0 0 1 17.74 2.81L0.00 0.00Z"/>
<path fill="#440154" d="M0.00 0.00L8.45 -1.34A8.55 8.55 0 0 1 8.45 1.34L0.00 0.00Z"/>
<path class="e" d="M0.00 0.00L24.50 -3.88A24.81 24.81 0 0 1 24.50 3.88L0.00 0.00Z"/>
<path fill="#22a884" d="M0.00 0.00L24.39 5.86A25.08 25.08 0 0 1 21.39 13.11L0.00 0.00Z"/>
<path fill="#2a788e" d="M0.00 0.00L19.91 4.78A20.48 20.48 0 0 1 17.46 10.70L0.00 0.00Z"/>
<path fill="#414487" d="M0.00 0.00L12.78 3.07A13.14 13.14 0 0 1 11.20 6.87L0.00 0.00Z"/>
<path fill="#440154" d="M0.00 0.00L3.65 0.88A3.75 3.75 0 0 1 3.20 1.96L0.00 0.00Z"/>
<path class="e" d="M0.00 0.00L24.39 5.86A25.08 25.08 0 0 1 21.39 13.11L0.00 0.00Z"/>
<path fill="#7ad151" d="M0.00 0.00L22.63 16.44A27.97 27.97 0 0 1 16.44 22.63L0.00 0.00Z"/>
<path fill="#22a884" d="M0.00 0.00L20.57 14.95A25.43 25.43 0 0 1 14.95 20.57L0.00 0.00Z"/>
<path fill="#2a788e" d="M0.00 0.00L16.18 11.76A20.01 20.01 0 0 1 11.76 16.18L0.00 0.00Z"/>
<path fill="#414487" d="M0.00 0.00L9.88 7.17A12.21 12.21 0 0 1 7.17 9.88L0.00 0.00Z"/>
<path fill="#440154" d="M0.00 0.00L2.74 1.99A3.39 3.39 0 0 1 1.99 2.74L0.00 0.00Z"/>
<path class="e" d="M0.00 0.00L22.63 16.44A27.97 27.97 0 0 1 16.44 22.63L0.00 0.00Z"/>
<path fill="#7ad151" d="M0.00 0.00L10.74 17.52A20.55 20.55 0 0 1 4.80 19.98L0.00 0.00Z"/>
<path fill="#22a884" d="M0.00 0.00L10.21 16.66A19.54 19.54 0 0 1 4.56 19.00L0.00 0.00Z"/>
<path fill="#2a788e" d="M0.00 0.00L9.15 14.94A17.52 17.52 0 0 1 4.09 17.04L0.00 0.00Z"/>
<path fill="#414487" d="M0.00 0.00L5.99 9.77A11.46 11.46 0 0 1 2.67 11.14L0.00 0.00Z"/>
<path fill="#440154" d="M0.00 0.00L1.76 2.87A3.37 3.37 0 0 1 0.79 3.28L0.00 0.00Z"/>
<path class="e" d="M0.00 0.00L10.74 17.52A20.55 20.55 0 0 1 4.80 19.98L0.00 0.00Z"/>
<path fill="#7ad151" d="M0.00 0.00L4.15 26.22A26.55 26.55 0 0 1 -4.15 26.22L0.00 0.00Z"/>
<path fill="#22a884" d="M0.00 0.00L3.94 24.89A25.20 25.20 0 0 1 -3.94 24.89L0.00 0.00Z"/>
<path fill="#2a788e" d="M0.00 0.00L3.34 21.08A21.34 21.34 0 0 1 -3.34 21.08L0.00 0.00Z"/>
<path fill="#414487" d="M0.00 0.00L1.94 12.28A12.43 12.43 0 0 1 -1.94 12.28L0.00 0.00Z"/>
<path fill="#440154" d="M0.00 0.00L0.53 3.32A3.36 3.36 0 0 1 -0.53 3.32L0.00 0.00Z"/>
<path class="e" d="M0.00 0.00L4.15 26.22A26.55 26.55 0 0 1 -4.15 26.22L0.00 0.00Z"/>
<path fill="#7ad151" d="M0.00 0.00L-7.55 31.45A32.34 32.34 0 0 1 -16.90 27.58L0.00 0.00Z"/>
<path fill="#22a884" d="M0.00 0.00L-6.88 28.67A29.48 29.48 0 0 1 -15.40 25.14L0.00 0.00Z"/>
<path fill="#2a788e" d="M0.00 0.00L-5.19 21.62A22.24 22.24 0 0 1 -11.62 18.96L0.00 0.00Z"/>
<path fill="#414487" d="M0.00 0.00L-3.03 12.61A12.97 12.97 0 0 1 -6.78 11.06L0.00 0.00Z"/>
<path fill="#440154" d="M0.00 0.00L-0.79 3.28A3.37 3.37 0 0 1 -1.76 2.87L0.00 0.00Z"/>
<path class="e" d="M0.00 0.00L-7.55 31.45A32.34 32.34 0 0 1 -16.90 27.58L0.00 0.00Z"/>
<path fill="#7ad151" d="M0.00 0.00L-21.62 29.76A36.79 36.79 0 0 1 -29.76 21.62L0.00 0.00Z"/>
<path fill="#22a884" d="M0.00 0.00L-19.43 26.75A33.06 33.06 0 0 1 -26.75 19.43L0.00 0.00Z"/>
<path fill="#2a788e" d="M0.00 0.00L-13.15 18.10A22.38 22.38 0 0 1 -18.10 13.15L0.00 0.00Z"/>
<path fill="#414487" d="M0.00 0.00L-7.37 10.15A12.55 12.55 0 0 1 -10.15 7.37L0.00 0.00Z"/>
<path fill="#440154" d="M0.00 0.00L-1.99 2.74A3.39 3.39 0 0 1 -2.74 1.99L0.00 0.00Z"/>
<path class="e" d="M0.00 0.00L-21.62 29.76A36.79 36.79 0 0 1 -29.76 21.62L0.00 0.00Z"/>
<path fill="#7ad151" d="M0.00 0.00L-35.21 21.58A41.29 41.29 0 0 1 -40.15 9.64L0.00 0.00Z"/>
<path fill="#22a884" d="M0.00 0.00L-28.37 17.39A33.27 33.27 0 0 1 -32.35 7.77L0.00 0.00Z"/>
<path fill="#2a788e" d="M0.00 0.00L-18.62 11.41A21.84 21.84 0 0 1 -21.24 5.10L0.00 0.00Z"/>
<path fill="#414487" d="M0.00 0.00L-10.91 6.69A12.80 12.80 0 0 1 -12.44 2.99L0.00 0.00Z"/>
<path fill="#440154" d="M0.00 0.00L-2.91 1.78A3.41 3.41 0 0 1 -3.32 0.80L0.00 0.00Z"/>
<path class="e" d="M0.00 0.00L-35.21 21.58A41.29 41.29 0 0 1 -40.15 9.64L0.00 0.00Z"/>
<path fill="#7ad151" d="M0.00 0.00L-32.45 5.14A32.85 32.85 0 0 1 -32.45 -5.14L0.00 0.00Z"/>
<path fill="#22a884" d="M0.00 0.00L-27.04 4.28A27.38 27.38 0 0 1 -27.04 -4.28L0.00 0.00Z"/>
<path fill="#2a788e" d="M0.00 0.00L-18.25 2.89A18.48 18.48 0 0 1 -18.25 -2.89L0.00 0.00Z"/>
<path fill="#414487" d="M0.00 0.00L-12.51 1.98A12.66 12.66 0 0 1 -12.51 -1.98L0.00 0.00Z"/>
<path fill="#440154" d="M0.00 0.00L-3.38 0.54A3.42 3.42 0 0 1 -3.38 -0.54L0.00 0.00Z"/>
<path class="e" d="M0.00 0.00L-32.45 5.14A32.85 32.85 0 0 1 -32.45 -5.14L0.00 0.00Z"/>
<path fill="#22a884" d="M0.00 0.00L-22.57 -5.42A23.21 23.21 0 0 1 -19.79 -12.13L0.00 0.00Z"/>
<path fill="#2a788e" d="M0.00 0.00L-19.58 -4.70A20.13 20.13 0 0 1 -17.17 -10.52L0.00 0.00Z"/>
<path fill="#414487" d="M0.00 0.00L-13.27 -3.19A13.65 13.65 0 0 1 -11.64 -7.13L0.00 0.00Z"/>
<path fill="#440154" d="M0.00 0.00L-3.32 -0.80A3.41 3.41 0 0 1 -2.91 -1.78L0.00 0.00Z"/>
<path class="e" d="M0.00 0.00L-22.57 -5.42A23.21 23.21 0 0 1 -19.79 -12.13L0.00 0.00Z"/>
<path fill="#22a884" d="M0.00 0.00L-20.98 -15.25A25.94 25.94 0 0 1 -15.25 -20.98L0.00 0.00Z"/>
<path fill="#2a788e" d="M0.00 0.00L-19.48 -14.15A24.07 24.07 0 0 1 -14.15 -19.48L0.00 0.00Z"/>
<path fill="#414487" d="M0.00 0.00L-15.36 -11.16A18.99 18.99 0 0 1 -11.16 -15.36L0.00 0.00Z"/>
<path fill="#440154" d="M0.00 0.00L-3.02 -2.19A3.73 3.73 0 0 1 -2.19 -3.02L0.00 0.00Z"/>
<path class="e" d="M0.00 0.00L-20.98 -15.25A25.94 25.94 0 0 1 -15.25 -20.98L0.00 0.00Z"/>
<path fill="#2a788e" d="M0.00 0.00L-9.68 -15.80A18.53 18.53 0 0 1 -4.33 -18.02L0.00 0.00Z"/>
<path fill="#414487" d="M0.00 0.00L-8.54 -13.93A16.34 16.34 0 0 1 -3.81 -15.89L0.00 0.00Z"/>
<path fill="#440154" d="M0.00 0.00L-5.28 -8.62A10.11 10.11 0 0 1 -2.36 -9.83L0.00 0.00Z"/>
<path class="e" d="M0.00 0.00L-9.68 -15.80A18.53 18.53 0 0 1 -4.33 -18.02L0.00 0.00Z"/>
</g>
<circle class="g" cx="0" cy="0" r="8.30"/><circle class="g" cx="0" cy="0" r="16.60"/><circle class="g" cx="0" cy="0" r="24.90"/><circle class="g" cx="0" cy="0" r="33.20"/><path class="g" d="M0 0L0.00 -41.50M0 0L29.34 -29.34M0 0L41.50 -0.00M0 0L29.34 29.34M0 0L0.00 41.50M0 0L-29.34 29.34M0 0L-41.50 0.00M0 0L-29.34 -29.34"/><circle class="o" cx="0" cy="0" r="41.50"/>
</g>
<text class="d" x="250.8" y="318.0">N</text>
<text class="d" x="283.2" y="331.9">NE</text>
<text class="d" x="297.5" y="365.6">E</text>
<text class="d" x="283.9" y="399.0">SE</text>
<text class="d" x="250.8" y="412.9">S</text>
<text class="d" x="217.5" y="399.0">SW</text>
<text class="d" x="204.9" y="365.6">W</text>
<text class="d" x="217.8" y="331.9">NW</text>
</g>
<g id="p2022">
<text class="y" x="348.7" y="309.3">2022</text>
<g transform="translate(348.3,363.0) scale(0.982,1)">
<g class="b">
<path fill="#414487" d="M0.00 0.00L-1.31 -8.30A8.40 8.40 0 0 1 1.31 -8.30L0.00 0.00Z"/>
<path fill="#440154" d="M0.00 0.00L-1.00 -6.31A6.38 6.38 0 0 1 1.00 -6.31L0.00 0.00Z"/>
<path class="e" d="M0.00 0.00L-1.31 -8.30A8.40 8.40 0 0 1 1.31 -8.30L0.00 0.00Z"/>
<path fill="#414487" d="M0.00 0.00L2.71 -11.30A11.62 11.62 0 0 1 6.07 -9.91L0.00 0.00Z"/>
<path fill="#440154" d="M0.00 0.00L1.61 -6.72A6.91 6.91 0 0 1 3.61 -5.89L0.00 0.00Z"/>
<path class="e" d="M0.00 0.00L2.71 -11.30A11.62 11.62 0 0 1 6.07 -9.91L0.00 0.00Z"/>
<path fill="#2a788e" d="M0.00 0.00L14.65 -20.16A24.92 24.92 0 0 1 20.16 -14.65L0.00 0.00Z"/>
<path fill="#414487" d="M0.00 0.00L12.46 -17.14A21.19 21.19 0 0 1 17.14 -12.46L0.00 0.00Z"/>
<path fill="#440154" d="M0.00 0.00L4.58 -6.31A7.80 7.80 0 0 1 6.31 -4.58L0.00 0.00Z"/>
<path class="e" d="M0.00 0.00L14.65 -20.16A24.92 24.92 0 0 1 20.16 -14.65L0.00 0.00Z"/>
<path fill="#2a788e" d="M0.00 0.00L23.57 -14.44A27.64 27.64 0 0 1 26.88 -6.45L0.00 0.00Z"/>
<path fill="#414487" d="M0.00 0.00L18.19 -11.14A21.33 21.33 0 0 1 20.74 -4.98L0.00 0.00Z"/>
<path fill="#440154" d="M0.00 0.00L6.69 -4.10A7.85 7.85 0 0 1 7.63 -1.83L0.00 0.00Z"/>
<path class="e" d="M0.00 0.00L23.57 -14.44A27.64 27.64 0 0 1 26.88 -6.45L0.00 0.00Z"/>
<path fill="#2a788e" d="M0.00 0.00L21.97 -3.48A22.24 22.24 0 0 1 21.97 3.48L0.00 0.00Z"/>
<path fill="#414487" d="M0.00 0.00L13.18 -2.09A13.35 13.35 0 0 1 13.18 2.09L0.00 0.00Z"/>
<path fill="#440154" d="M0.00 0.00L6.59 -1.04A6.67 6.67 0 0 1 6.59 1.04L0.00 0.00Z"/>
<path class="e" d="M0.00 0.00L21.97 -3.48A22.24 22.24 0 0 1 21.97 3.48L0.00 0.00Z"/>
<path fill="#22a884" d="M0.00 0.00L17.26 4.14A17.75 17.75 0 0 1 15.13 9.27L0.00 0.00Z"/>
<path fill="#2a788e" d="M0.00 0.00L15.76 3.78A16.21 16.21 0 0 1 13.82 8.47L0.00 0.00Z"/>
<path fill="#414487" d="M0.00 0.00L9.96 2.39A10.24 10.24 0 0 1 8.73 5.35L0.00 0.00Z"/>
<path fill="#440154" d="M0.00 0.00L2.99 0.72A3.07 3.07 0 0 1 2.62 1.60L0.00 0.00Z"/>
<path class="e" d="M0.00 0.00L17.26 4.14A17.75 17.75 0 0 1 15.13 9.27L0.00 0.00Z"/>
<path fill="#7ad151" d="M0.00 0.00L18.93 13.75A23.40 23.40 0 0 1 13.75 18.93L0.00 0.00Z"/>
<path fill="#22a884" d="M0.00 0.00L17.56 12.76A21.70 21.70 0 0 1 12.76 17.56L0.00 0.00Z"/>
<path fill="#2a788e" d="M0.00 0.00L14.40 10.46A17.80 17.80 0 0 1 10.46 14.40L0.00 0.00Z"/>
<path fill="#414487" d="M0.00 0.00L7.82 5.68A9.66 9.66 0 0 1 5.68 7.82L0.00 0.00Z"/>
<path fill="#440154" d="M0.00 0.00L2.19 1.59A2.71 2.71 0 0 1 1.59 2.19L0.00 0.00Z"/>
<path class="e" d="M0.00 0.00L18.93 13.75A23.40 23.40 0 0 1 13.75 18.93L0.00 0.00Z"/>
<path fill="#7ad151" d="M0.00 0.00L13.38 21.83A25.61 25.61 0 0 1 5.98 24.90L0.00 0.00Z"/>
<path fill="#22a884" d="M0.00 0.00L12.32 20.11A23.58 23.58 0 0 1 5.51 22.93L0.00 0.00Z"/>
<path fill="#2a788e" d="M0.00 0.00L8.98 14.65A17.18 17.18 0 0 1 4.01 16.71L0.00 0.00Z"/>
<path fill="#414487" d="M0.00 0.00L5.19 8.47A9.94 9.94 0 0 1 2.32 9.66L0.00 0.00Z"/>
<path fill="#440154" d="M0.00 0.00L1.41 2.30A2.70 2.70 0 0 1 0.63 2.62L0.00 0.00Z"/>
<path class="e" d="M0.00 0.00L13.38 21.83A25.61 25.61 0 0 1 5.98 24.90L0.00 0.00Z"/>
<path fill="#7ad151" d="M0.00 0.00L4.21 26.55A26.88 26.88 0 0 1 -4.21 26.55L0.00 0.00Z"/>
<path fill="#22a884" d="M0.00 0.00L3.94 24.89A25.20 25.20 0 0 1 -3.94 24.89L0.00 0.00Z"/>
<path fill="#2a788e" d="M0.00 0.00L2.81 17.76A17.98 17.98 0 0 1 -2.81 17.76L0.00 0.00Z"/>
<path fill="#414487" d="M0.00 0.00L1.58 9.96A10.08 10.08 0 0 1 -1.58 9.96L0.00 0.00Z"/>
<path fill="#440154" d="M0.00 0.00L0.42 2.66A2.69 2.69 0 0 1 -0.42 2.66L0.00 0.00Z"/>
<path class="e" d="M0.00 0.00L4.21 26.55A26.88 26.88 0 0 1 -4.21 26.55L0.00 0.00Z"/>
<path fill="#7ad151" d="M0.00 0.00L-6.53 27.19A27.96 27.96 0 0 1 -14.61 23.84L0.00 0.00Z"/>
<path fill="#22a884" d="M0.00 0.00L-5.90 24.57A25.27 25.27 0 0 1 -13.20 21.54L0.00 0.00Z"/>
<path fill="#2a788e" d="M0.00 0.00L-4.01 16.71A17.18 17.18 0 0 1 -8.98 14.65L0.00 0.00Z"/>
<path fill="#414487" d="M0.00 0.00L-2.36 9.83A10.11 10.11 0 0 1 -5.28 8.62L0.00 0.00Z"/>
<path fill="#440154" d="M0.00 0.00L-0.63 2.62A2.70 2.70 0 0 1 -1.41 2.30L0.00 0.00Z"/>
<path class="e" d="M0.00 0.00L-6.53 27.19A27.96 27.96 0 0 1 -14.61 23.84L0.00 0.00Z"/>
<path fill="#7ad151" d="M0.00 0.00L-17.94 24.69A30.52 30.52 0 0 1 -24.69 17.94L0.00 0.00Z"/>
<path fill="#22a884" d="M0.00 0.00L-15.94 21.95A27.13 27.13 0 0 1 -21.95 15.94L0.00 0.00Z"/>
<path fill="#2a788e" d="M0.00 0.00L-10.66 14.68A18.14 18.14 0 0 1 -14.68 10.66L0.00 0.00Z"/>
<path fill="#414487" d="M0.00 0.00L-5.98 8.23A10.17 10.17 0 0 1 -8.23 5.98L0.00 0.00Z"/>
<path fill="#440154" d="M0.00 0.00L-1.59 2.19A2.71 2.71 0 0 1 -2.19 1.59L0.00 0.00Z"/>
<path class="e" d="M0.00 0.00L-17.94 24.69A30.52 30.52 0 0 1 -24.69 17.94L0.00 0.00Z"/>
<path fill="#7ad151" d="M0.00 0.00L-34.92 21.40A40.95 40.95 0 0 1 -39.82 9.56L0.00 0.00Z"/>
<path fill="#22a884" d="M0.00 0.00L-26.92 16.49A31.57 31.57 0 0 1 -30.70 7.37L0.00 0.00Z"/>
<path fill="#2a788e" d="M0.00 0.00L-16.73 10.25A19.62 19.62 0 0 1 -19.08 4.58L0.00 0.00Z"/>
<path fill="#414487" d="M0.00 0.00L-8.87 5.44A10.41 10.41 0 0 1 -10.12 2.43L0.00 0.00Z"/>
<path fill="#440154" d="M0.00 0.00L-2.33 1.43A2.73 2.73 0 0 1 -2.65 0.64L0.00 0.00Z"/>
<path class="e" d="M0.00 0.00L-34.92 21.40A40.95 40.95 0 0 1 -39.82 9.56L0.00 0.00Z"/>
<path fill="#7ad151" d="M0.00 0.00L-32.95 5.22A33.36 33.36 0 0 1 -32.95 -5.22L0.00 0.00Z"/>
<path fill="#22a884" d="M0.00 0.00L-25.35 4.01A25.66 25.66 0 0 1 -25.35 -4.01L0.00 0.00Z"/>
<path fill="#2a788e" d="M0.00 0.00L-17.41 2.76A17.62 17.62 0 0 1 -17.41 -2.76L0.00 0.00Z"/>
<path fill="#414487" d="M0.00 0.00L-9.63 1.53A9.75 9.75 0 0 1 -9.63 -1.53L0.00 0.00Z"/>
<path fill="#440154" d="M0.00 0.00L-2.70 0.43A2.74 2.74 0 0 1 -2.70 -0.43L0.00 0.00Z"/>
<path class="e" d="M0.00 0.00L-32.95 5.22A33.36 33.36 0 0 1 -32.95 -5.22L0.00 0.00Z"/>
<path fill="#7ad151" d="M0.00 0.00L-17.92 -4.30A18.43 18.43 0 0 1 -15.71 -9.63L0.00 0.00Z"/>
<path fill="#22a884" d="M0.00 0.00L-17.26 -4.14A17.75 17.75 0 0 1 -15.13 -9.27L0.00 0.00Z"/>
<path fill="#2a788e" d="M0.00 0.00L-16.09 -3.86A16.55 16.55 0 0 1 -14.11 -8.65L0.00 0.00Z"/>
<path fill="#414487" d="M0.00 0.00L-9.62 -2.31A9.90 9.90 0 0 1 -8.44 -5.17L0.00 0.00Z"/>
<path fill="#440154" d="M0.00 0.00L-2.65 -0.64A2.73 2.73 0 0 1 -2.33 -1.43L0.00 0.00Z"/>
<path class="e" d="M0.00 0.00L-17.92 -4.30A18.43 18.43 0 0 1 -15.71 -9.63L0.00 0.00Z"/>
<path fill="#7ad151" d="M0.00 0.00L-15.91 -11.56A19.67 19.67 0 0 1 -11.56 -15.91L0.00 0.00Z"/>
<path fill="#22a884" d="M0.00 0.00L-15.09 -10.96A18.65 18.65 0 0 1 -10.96 -15.09L0.00 0.00Z"/>
<path fill="#2a788e" d="M0.00 0.00L-14.54 -10.56A17.97 17.97 0 0 1 -10.56 -14.54L0.00 0.00Z"/>
<path fill="#414487" d="M0.00 0.00L-9.60 -6.98A11.87 11.87 0 0 1 -6.98 -9.60L0.00 0.00Z"/>
<path fill="#440154" d="M0.00 0.00L-1.65 -1.20A2.03 2.03 0 0 1 -1.20 -1.65L0.00 0.00Z"/>
<path class="e" d="M0.00 0.00L-15.91 -11.56A19.67 19.67 0 0 1 -11.56 -15.91L0.00 0.00Z"/>
<path fill="#2a788e" d="M0.00 0.00L-6.07 -9.91A11.62 11.62 0 0 1 -2.71 -11.30L0.00 0.00Z"/>
<path fill="#414487" d="M0.00 0.00L-4.93 -8.04A9.43 9.43 0 0 1 -2.20 -9.17L0.00 0.00Z"/>
<path fill="#440154" d="M0.00 0.00L-1.76 -2.87A3.37 3.37 0 0 1 -0.79 -3.28L0.00 0.00Z"/>
<path class="e" d="M0.00 0.00L-6.07 -9.91A11.62 11.62 0 0 1 -2.71 -11.30L0.00 0.00Z"/>
</g>
<circle class="g" cx="0" cy="0" r="8.30"/><circle class="g" cx="0" cy="0" r="16.60"/><circle class="g" cx="0" cy="0" r="24.90"/><circle class="g" cx="0" cy="0" r="33.20"/><path class="g" d="M0 0L0.00 -41.50M0 0L29.34 -29.34M0 0L41.50 -0.00M0 0L29.34 29.34M0 0L0.00 41.50M0 0L-29.34 29.34M0 0L-41.50 0.00M0 0L-29.34 -29.34"/><circle class="o" cx="0" cy="0" r="41.50"/>
</g>
<text class="d" x="348.5" y="318.0">N</text>
<text class="d" x="380.9" y="331.9">NE</text>
<text class="d" x="395.2" y="365.6">E</text>
<text class="d" x="381.6" y="399.0">SE</text>
<text class="d" x="348.5" y="412.9">S</text>
<text class="d" x="315.2" y="399.0">SW</text>
<text class="d" x="302.6" y="365.6">W</text>
<text class="d" x="315.4" y="331.9">NW</text>
</g>
<g id="p2023">
<text class="y" x="446.3" y="309.3">2023</text>
<g transform="translate(445.9,363.0) scale(0.982,1)">
<g class="b">
<path fill="#414487" d="M0.00 0.00L-1.84 -11.62A11.76 11.76 0 0 1 1.84 -11.62L0.00 0.00Z"/>
<path fill="#440154" d="M0.00 0.00L-1.31 -8.30A8.40 8.40 0 0 1 1.31 -8.30L0.00 0.00Z"/>
<path class="e" d="M0.00 0.00L-1.84 -11.62A11.76 11.76 0 0 1 1.84 -11.62L0.00 0.00Z"/>
<path fill="#414487" d="M0.00 0.00L3.15 -13.10A13.48 13.48 0 0 1 7.04 -11.49L0.00 0.00Z"/>
<path fill="#440154" d="M0.00 0.00L1.81 -7.53A7.75 7.75 0 0 1 4.05 -6.61L0.00 0.00Z"/>
<path class="e" d="M0.00 0.00L3.15 -13.10A13.48 13.48 0 0 1 7.04 -11.49L0.00 0.00Z"/>
<path fill="#2a788e" d="M0.00 0.00L17.94 -24.69A30.52 30.52 0 0 1 24.69 -17.94L0.00 0.00Z"/>
<path fill="#414487" d="M0.00 0.00L13.45 -18.52A22.89 22.89 0 0 1 18.52 -13.45L0.00 0.00Z"/>
<path fill="#440154" d="M0.00 0.00L4.68 -6.45A7.97 7.97 0 0 1 6.45 -4.68L0.00 0.00Z"/>
<path class="e" d="M0.00 0.00L17.94 -24.69A30.52 30.52 0 0 1 24.69 -17.94L0.00 0.00Z"/>
<path fill="#7ad151" d="M0.00 0.00L31.57 -19.35A37.03 37.03 0 0 1 36.00 -8.64L0.00 0.00Z"/>
<path fill="#22a884" d="M0.00 0.00L31.13 -19.08A36.52 36.52 0 0 1 35.51 -8.52L0.00 0.00Z"/>
<path fill="#2a788e" d="M0.00 0.00L28.81 -17.65A33.79 33.79 0 0 1 32.85 -7.89L0.00 0.00Z"/>
<path fill="#414487" d="M0.00 0.00L21.10 -12.93A24.74 24.74 0 0 1 24.06 -5.78L0.00 0.00Z"/>
<path fill="#440154" d="M0.00 0.00L7.27 -4.46A8.53 8.53 0 0 1 8.30 -1.99L0.00 0.00Z"/>
<path class="e" d="M0.00 0.00L31.57 -19.35A37.03 37.03 0 0 1 36.00 -8.64L0.00 0.00Z"/>
<path fill="#2a788e" d="M0.00 0.00L24.33 -3.85A24.64 24.64 0 0 1 24.33 3.85L0.00 0.00Z"/>
<path fill="#414487" d="M0.00 0.00L15.55 -2.46A15.74 15.74 0 0 1 15.55 2.46L0.00 0.00Z"/>
<path fill="#440154" d="M0.00 0.00L6.93 -1.10A7.01 7.01 0 0 1 6.93 1.10L0.00 0.00Z"/>
<path class="e" d="M0.00 0.00L24.33 -3.85A24.64 24.64 0 0 1 24.33 3.85L0.00 0.00Z"/>
<path fill="#22a884" d="M0.00 0.00L17.42 4.18A17.92 17.92 0 0 1 15.28 9.36L0.00 0.00Z"/>
<path fill="#2a788e" d="M0.00 0.00L16.26 3.90A16.72 16.72 0 0 1 14.26 8.74L0.00 0.00Z"/>
<path fill="#414487" d="M0.00 0.00L9.46 2.27A9.73 9.73 0 0 1 8.29 5.08L0.00 0.00Z"/>
<path fill="#440154" d="M0.00 0.00L2.99 0.72A3.07 3.07 0 0 1 2.62 1.60L0.00 0.00Z"/>
<path class="e" d="M0.00 0.00L17.42 4.18A17.92 17.92 0 0 1 15.28 9.36L0.00 0.00Z"/>
<path fill="#7ad151" d="M0.00 0.00L20.98 15.25A25.94 25.94 0 0 1 15.25 20.98L0.00 0.00Z"/>
<path fill="#22a884" d="M0.00 0.00L19.20 13.95A23.73 23.73 0 0 1 13.95 19.20L0.00 0.00Z"/>
<path fill="#2a788e" d="M0.00 0.00L15.09 10.96A18.65 18.65 0 0 1 10.96 15.09L0.00 0.00Z"/>
<path fill="#414487" d="M0.00 0.00L7.41 5.38A9.15 9.15 0 0 1 5.38 7.41L0.00 0.00Z"/>
<path fill="#440154" d="M0.00 0.00L2.19 1.59A2.71 2.71 0 0 1 1.59 2.19L0.00 0.00Z"/>
<path class="e" d="M0.00 0.00L20.98 15.25A25.94 25.94 0 0 1 15.25 20.98L0.00 0.00Z"/>
<path fill="#7ad151" d="M0.00 0.00L10.21 16.66A19.54 19.54 0 0 1 4.56 19.00L0.00 0.00Z"/>
<path fill="#22a884" d="M0.00 0.00L9.68 15.80A18.53 18.53 0 0 1 4.33 18.02L0.00 0.00Z"/>
<path fill="#2a788e" d="M0.00 0.00L8.54 13.93A16.34 16.34 0 0 1 3.81 15.89L0.00 0.00Z"/>
<path fill="#414487" d="M0.00 0.00L4.93 8.04A9.43 9.43 0 0 1 2.20 9.17L0.00 0.00Z"/>
<path fill="#440154" d="M0.00 0.00L1.41 2.30A2.70 2.70 0 0 1 0.63 2.62L0.00 0.00Z"/>
<path class="e" d="M0.00 0.00L10.21 16.66A19.54 19.54 0 0 1 4.56 19.00L0.00 0.00Z"/>
<path fill="#22a884" d="M0.00 0.00L3.21 20.25A20.50 20.50 0 0 1 -3.21 20.25L0.00 0.00Z"/>
<path fill="#2a788e" d="M0.00 0.00L2.63 16.59A16.80 16.80 0 0 1 -2.63 16.59L0.00 0.00Z"/>
<path fill="#414487" d="M0.00 0.00L1.50 9.46A9.58 9.58 0 0 1 -1.50 9.46L0.00 0.00Z"/>
<path fill="#440154" d="M0.00 0.00L0.42 2.66A2.69 2.69 0 0 1 -0.42 2.66L0.00 0.00Z"/>
<path class="e" d="M0.00 0.00L3.21 20.25A20.50 20.50 0 0 1 -3.21 20.25L0.00 0.00Z"/>
<path fill="#7ad151" d="M0.00 0.00L-6.17 25.72A26.45 26.45 0 0 1 -13.82 22.55L0.00 0.00Z"/>
<path fill="#22a884" d="M0.00 0.00L-5.51 22.93A23.58 23.58 0 0 1 -12.32 20.11L0.00 0.00Z"/>
<path fill="#2a788e" d="M0.00 0.00L-4.13 17.20A17.69 17.69 0 0 1 -9.24 15.08L0.00 0.00Z"/>
<path fill="#414487" d="M0.00 0.00L-2.28 9.50A9.77 9.77 0 0 1 -5.11 8.33L0.00 0.00Z"/>
<path fill="#440154" d="M0.00 0.00L-0.63 2.62A2.70 2.70 0 0 1 -1.41 2.30L0.00 0.00Z"/>
<path class="e" d="M0.00 0.00L-6.17 25.72A26.45 26.45 0 0 1 -13.82 22.55L0.00 0.00Z"/>
<path fill="#7ad151" d="M0.00 0.00L-20.73 28.53A35.26 35.26 0 0 1 -28.53 20.73L0.00 0.00Z"/>
<path fill="#22a884" d="M0.00 0.00L-17.94 24.69A30.52 30.52 0 0 1 -24.69 17.94L0.00 0.00Z"/>
<path fill="#2a788e" d="M0.00 0.00L-11.16 15.36A18.99 18.99 0 0 1 -15.36 11.16L0.00 0.00Z"/>
<path fill="#414487" d="M0.00 0.00L-5.68 7.82A9.66 9.66 0 0 1 -7.82 5.68L0.00 0.00Z"/>
<path fill="#440154" d="M0.00 0.00L-1.59 2.19A2.71 2.71 0 0 1 -2.19 1.59L0.00 0.00Z"/>
<path class="e" d="M0.00 0.00L-20.73 28.53A35.26 35.26 0 0 1 -28.53 20.73L0.00 0.00Z"/>
<path fill="#fde725" d="M0.00 0.00L-35.06 21.49A41.12 41.12 0 0 1 -39.99 9.60L0.00 0.00Z"/>
<path fill="#7ad151" d="M0.00 0.00L-34.34 21.04A40.27 40.27 0 0 1 -39.16 9.40L0.00 0.00Z"/>
<path fill="#22a884" d="M0.00 0.00L-26.19 16.05A30.71 30.71 0 0 1 -29.87 7.17L0.00 0.00Z"/>
<path fill="#2a788e" d="M0.00 0.00L-16.73 10.25A19.62 19.62 0 0 1 -19.08 4.58L0.00 0.00Z"/>
<path fill="#414487" d="M0.00 0.00L-8.58 5.26A10.07 10.07 0 0 1 -9.79 2.35L0.00 0.00Z"/>
<path fill="#440154" d="M0.00 0.00L-2.33 1.43A2.73 2.73 0 0 1 -2.65 0.64L0.00 0.00Z"/>
<path class="e" d="M0.00 0.00L-35.06 21.49A41.12 41.12 0 0 1 -39.99 9.60L0.00 0.00Z"/>
<path fill="#fde725" d="M0.00 0.00L-28.56 4.52A28.92 28.92 0 0 1 -28.56 -4.52L0.00 0.00Z"/>
<path fill="#7ad151" d="M0.00 0.00L-27.71 4.39A28.06 28.06 0 0 1 -27.71 -4.39L0.00 0.00Z"/>
<path fill="#22a884" d="M0.00 0.00L-21.97 3.48A22.24 22.24 0 0 1 -21.97 -3.48L0.00 0.00Z"/>
<path fill="#2a788e" d="M0.00 0.00L-15.55 2.46A15.74 15.74 0 0 1 -15.55 -2.46L0.00 0.00Z"/>
<path fill="#414487" d="M0.00 0.00L-8.79 1.39A8.90 8.90 0 0 1 -8.79 -1.39L0.00 0.00Z"/>
<path fill="#440154" d="M0.00 0.00L-2.70 0.43A2.74 2.74 0 0 1 -2.70 -0.43L0.00 0.00Z"/>
<path class="e" d="M0.00 0.00L-28.56 4.52A28.92 28.92 0 0 1 -28.56 -4.52L0.00 0.00Z"/>
<path fill="#22a884" d="M0.00 0.00L-16.26 -3.90A16.72 16.72 0 0 1 -14.26 -8.74L0.00 0.00Z"/>
<path fill="#2a788e" d="M0.00 0.00L-14.60 -3.51A15.02 15.02 0 0 1 -12.80 -7.85L0.00 0.00Z"/>
<path fill="#414487" d="M0.00 0.00L-8.46 -2.03A8.70 8.70 0 0 1 -7.42 -4.55L0.00 0.00Z"/>
<path fill="#440154" d="M0.00 0.00L-2.65 -0.64A2.73 2.73 0 0 1 -2.33 -1.43L0.00 0.00Z"/>
<path class="e" d="M0.00 0.00L-16.26 -3.90A16.72 16.72 0 0 1 -14.26 -8.74L0.00 0.00Z"/>
<path fill="#22a884" d="M0.00 0.00L-12.62 -9.17A15.60 15.60 0 0 1 -9.17 -12.62L0.00 0.00Z"/>
<path fill="#2a788e" d="M0.00 0.00L-11.66 -8.47A14.41 14.41 0 0 1 -8.47 -11.66L0.00 0.00Z"/>
<path fill="#414487" d="M0.00 0.00L-8.23 -5.98A10.17 10.17 0 0 1 -5.98 -8.23L0.00 0.00Z"/>
<path fill="#440154" d="M0.00 0.00L-1.65 -1.20A2.03 2.03 0 0 1 -1.20 -1.65L0.00 0.00Z"/>
<path class="e" d="M0.00 0.00L-12.62 -9.17A15.60 15.60 0 0 1 -9.17 -12.62L0.00 0.00Z"/>
<path fill="#2a788e" d="M0.00 0.00L-6.51 -10.63A12.47 12.47 0 0 1 -2.91 -12.12L0.00 0.00Z"/>
<path fill="#414487" d="M0.00 0.00L-5.46 -8.91A10.44 10.44 0 0 1 -2.44 -10.16L0.00 0.00Z"/>
<path fill="#440154" d="M0.00 0.00L-2.20 -3.59A4.21 4.21 0 0 1 -0.98 -4.10L0.00 0.00Z"/>
<path class="e" d="M0.00 0.00L-6.51 -10.63A12.47 12.47 0 0 1 -2.91 -12.12L0.00 0.00Z"/>
</g>
<circle class="g" cx="0" cy="0" r="8.30"/><circle class="g" cx="0" cy="0" r="16.60"/><circle class="g" cx="0" cy="0" r="24.90"/><circle class="g" cx="0" cy="0" r="33.20"/><path class="g" d="M0 0L0.00 -41.50M0 0L29.34 -29.34M0 0L41.50 -0.00M0 0L29.34 29.34M0 0L0.00 41.50M0 0L-29.34 29.34M0 0L-41.50 0.00M0 0L-29.34 -29.34"/><circle class="o" cx="0" cy="0" r="41.50"/>
</g>
<text class="d" x="446.1" y="318.0">N</text>
<text class="d" x="478.5" y="331.9">NE</text>
<text class="d" x="492.8" y="365.6">E</text>
<text class="d" x="479.1" y="399.0">SE</text>
<text class="d" x="446.1" y="412.9">S</text>
<text class="d" x="412.8" y="399.0">SW</text>
<text class="d" x="400.2" y="365.6">W</text>
<text class="d" x="413.0" y="331.9">NW</text>
</g>
<g id="p2024">
<text class="y" x="55.8" y="431.8">2024</text>
<g transform="translate(55.4,485.5) scale(0.982,1)">
<g class="b">
<path fill="#414487" d="M0.00 0.00L-1.21 -7.63A7.73 7.73 0 0 1 1.21 -7.63L0.00 0.00Z"/>
<path fill="#440154" d="M0.00 0.00L-0.95 -5.97A6.05 6.05 0 0 1 0.95 -5.97L0.00 0.00Z"/>
<path class="e" d="M0.00 0.00L-1.21 -7.63A7.73 7.73 0 0 1 1.21 -7.63L0.00 0.00Z"/>
<path fill="#414487" d="M0.00 0.00L2.56 -10.65A10.95 10.95 0 0 1 5.72 -9.34L0.00 0.00Z"/>
<path fill="#440154" d="M0.00 0.00L1.65 -6.88A7.08 7.08 0 0 1 3.70 -6.03L0.00 0.00Z"/>
<path class="e" d="M0.00 0.00L2.56 -10.65A10.95 10.95 0 0 1 5.72 -9.34L0.00 0.00Z"/>
<path fill="#2a788e" d="M0.00 0.00L15.74 -21.67A26.79 26.79 0 0 1 21.67 -15.74L0.00 0.00Z"/>
<path fill="#414487" d="M0.00 0.00L12.95 -17.83A22.04 22.04 0 0 1 17.83 -12.95L0.00 0.00Z"/>
<path fill="#440154" d="M0.00 0.00L4.88 -6.72A8.31 8.31 0 0 1 6.72 -4.88L0.00 0.00Z"/>
<path class="e" d="M0.00 0.00L15.74 -21.67A26.79 26.79 0 0 1 21.67 -15.74L0.00 0.00Z"/>
<path fill="#7ad151" d="M0.00 0.00L35.21 -21.58A41.29 41.29 0 0 1 40.15 -9.64L0.00 0.00Z"/>
<path fill="#22a884" d="M0.00 0.00L34.63 -21.22A40.61 40.61 0 0 1 39.49 -9.48L0.00 0.00Z"/>
<path fill="#2a788e" d="M0.00 0.00L31.28 -19.17A36.69 36.69 0 0 1 35.67 -8.56L0.00 0.00Z"/>
<path fill="#414487" d="M0.00 0.00L21.82 -13.37A25.60 25.60 0 0 1 24.89 -5.98L0.00 0.00Z"/>
<path fill="#440154" d="M0.00 0.00L6.98 -4.28A8.19 8.19 0 0 1 7.96 -1.91L0.00 0.00Z"/>
<path class="e" d="M0.00 0.00L35.21 -21.58A41.29 41.29 0 0 1 40.15 -9.64L0.00 0.00Z"/>
<path fill="#2a788e" d="M0.00 0.00L22.98 -3.64A23.27 23.27 0 0 1 22.98 3.64L0.00 0.00Z"/>
<path fill="#414487" d="M0.00 0.00L16.39 -2.60A16.60 16.60 0 0 1 16.39 2.60L0.00 0.00Z"/>
<path fill="#440154" d="M0.00 0.00L6.42 -1.02A6.50 6.50 0 0 1 6.42 1.02L0.00 0.00Z"/>
<path class="e" d="M0.00 0.00L22.98 -3.64A23.27 23.27 0 0 1 22.98 3.64L0.00 0.00Z"/>
<path fill="#22a884" d="M0.00 0.00L19.25 4.62A19.79 19.79 0 0 1 16.88 10.34L0.00 0.00Z"/>
<path fill="#2a788e" d="M0.00 0.00L17.09 4.10A17.58 17.58 0 0 1 14.99 9.18L0.00 0.00Z"/>
<path fill="#414487" d="M0.00 0.00L9.62 2.31A9.90 9.90 0 0 1 8.44 5.17L0.00 0.00Z"/>
<path fill="#440154" d="M0.00 0.00L2.99 0.72A3.07 3.07 0 0 1 2.62 1.60L0.00 0.00Z"/>
<path class="e" d="M0.00 0.00L19.25 4.62A19.79 19.79 0 0 1 16.88 10.34L0.00 0.00Z"/>
<path fill="#7ad151" d="M0.00 0.00L23.04 16.74A28.48 28.48 0 0 1 16.74 23.04L0.00 0.00Z"/>
<path fill="#22a884" d="M0.00 0.00L20.57 14.95A25.43 25.43 0 0 1 14.95 20.57L0.00 0.00Z"/>
<path fill="#2a788e" d="M0.00 0.00L14.68 10.66A18.14 18.14 0 0 1 10.66 14.68L0.00 0.00Z"/>
<path fill="#414487" d="M0.00 0.00L7.54 5.48A9.32 9.32 0 0 1 5.48 7.54L0.00 0.00Z"/>
<path fill="#440154" d="M0.00 0.00L2.19 1.59A2.71 2.71 0 0 1 1.59 2.19L0.00 0.00Z"/>
<path class="e" d="M0.00 0.00L23.04 16.74A28.48 28.48 0 0 1 16.74 23.04L0.00 0.00Z"/>
<path fill="#7ad151" d="M0.00 0.00L10.47 17.09A20.05 20.05 0 0 1 4.68 19.49L0.00 0.00Z"/>
<path fill="#22a884" d="M0.00 0.00L9.86 16.09A18.87 18.87 0 0 1 4.40 18.35L0.00 0.00Z"/>
<path fill="#2a788e" d="M0.00 0.00L8.63 14.08A16.51 16.51 0 0 1 3.85 16.05L0.00 0.00Z"/>
<path fill="#414487" d="M0.00 0.00L5.02 8.19A9.60 9.60 0 0 1 2.24 9.34L0.00 0.00Z"/>
<path fill="#440154" d="M0.00 0.00L1.41 2.30A2.70 2.70 0 0 1 0.63 2.62L0.00 0.00Z"/>
<path class="e" d="M0.00 0.00L10.47 17.09A20.05 20.05 0 0 1 4.68 19.49L0.00 0.00Z"/>
<path fill="#7ad151" d="M0.00 0.00L3.73 23.56A23.86 23.86 0 0 1 -3.73 23.56L0.00 0.00Z"/>
<path fill="#22a884" d="M0.00 0.00L3.42 21.57A21.84 21.84 0 0 1 -3.42 21.57L0.00 0.00Z"/>
<path fill="#2a788e" d="M0.00 0.00L2.63 16.59A16.80 16.80 0 0 1 -2.63 16.59L0.00 0.00Z"/>
<path fill="#414487" d="M0.00 0.00L1.50 9.46A9.58 9.58 0 0 1 -1.50 9.46L0.00 0.00Z"/>
<path fill="#440154" d="M0.00 0.00L0.42 2.66A2.69 2.69 0 0 1 -0.42 2.66L0.00 0.00Z"/>
<path class="e" d="M0.00 0.00L3.73 23.56A23.86 23.86 0 0 1 -3.73 23.56L0.00 0.00Z"/>
<path fill="#7ad151" d="M0.00 0.00L-6.65 27.68A28.47 28.47 0 0 1 -14.88 24.27L0.00 0.00Z"/>
<path fill="#22a884" d="M0.00 0.00L-5.90 24.57A25.27 25.27 0 0 1 -13.20 21.54L0.00 0.00Z"/>
<path fill="#2a788e" d="M0.00 0.00L-4.17 17.36A17.86 17.86 0 0 1 -9.33 15.23L0.00 0.00Z"/>
<path fill="#414487" d="M0.00 0.00L-2.36 9.83A10.11 10.11 0 0 1 -5.28 8.62L0.00 0.00Z"/>
<path fill="#440154" d="M0.00 0.00L-0.63 2.62A2.70 2.70 0 0 1 -1.41 2.30L0.00 0.00Z"/>
<path class="e" d="M0.00 0.00L-6.65 27.68A28.47 28.47 0 0 1 -14.88 24.27L0.00 0.00Z"/>
<path fill="#7ad151" d="M0.00 0.00L-18.63 25.65A31.70 31.70 0 0 1 -25.65 18.63L0.00 0.00Z"/>
<path fill="#22a884" d="M0.00 0.00L-15.94 21.95A27.13 27.13 0 0 1 -21.95 15.94L0.00 0.00Z"/>
<path fill="#2a788e" d="M0.00 0.00L-10.56 14.54A17.97 17.97 0 0 1 -14.54 10.56L0.00 0.00Z"/>
<path fill="#414487" d="M0.00 0.00L-5.48 7.54A9.32 9.32 0 0 1 -7.54 5.48L0.00 0.00Z"/>
<path fill="#440154" d="M0.00 0.00L-1.59 2.19A2.71 2.71 0 0 1 -2.19 1.59L0.00 0.00Z"/>
<path class="e" d="M0.00 0.00L-18.63 25.65A31.70 31.70 0 0 1 -25.65 18.63L0.00 0.00Z"/>
<path fill="#7ad151" d="M0.00 0.00L-28.52 17.47A33.44 33.44 0 0 1 -32.52 7.81L0.00 0.00Z"/>
<path fill="#22a884" d="M0.00 0.00L-22.55 13.82A26.45 26.45 0 0 1 -25.72 6.17L0.00 0.00Z"/>
<path fill="#2a788e" d="M0.00 0.00L-15.42 9.45A18.09 18.09 0 0 1 -17.59 4.22L0.00 0.00Z"/>
<path fill="#414487" d="M0.00 0.00L-8.29 5.08A9.73 9.73 0 0 1 -9.46 2.27L0.00 0.00Z"/>
<path fill="#440154" d="M0.00 0.00L-2.33 1.43A2.73 2.73 0 0 1 -2.65 0.64L0.00 0.00Z"/>
<path class="e" d="M0.00 0.00L-28.52 17.47A33.44 33.44 0 0 1 -32.52 7.81L0.00 0.00Z"/>
<path fill="#7ad151" d="M0.00 0.00L-25.18 3.99A25.49 25.49 0 0 1 -25.18 -3.99L0.00 0.00Z"/>
<path fill="#22a884" d="M0.00 0.00L-21.12 3.35A21.39 21.39 0 0 1 -21.12 -3.35L0.00 0.00Z"/>
<path fill="#2a788e" d="M0.00 0.00L-15.21 2.41A15.40 15.40 0 0 1 -15.21 -2.41L0.00 0.00Z"/>
<path fill="#414487" d="M0.00 0.00L-8.11 1.28A8.21 8.21 0 0 1 -8.11 -1.28L0.00 0.00Z"/>
<path fill="#440154" d="M0.00 0.00L-2.70 0.43A2.74 2.74 0 0 1 -2.70 -0.43L0.00 0.00Z"/>
<path class="e" d="M0.00 0.00L-25.18 3.99A25.49 25.49 0 0 1 -25.18 -3.99L0.00 0.00Z"/>
<path fill="#22a884" d="M0.00 0.00L-12.94 -3.11A13.31 13.31 0 0 1 -11.35 -6.95L0.00 0.00Z"/>
<path fill="#2a788e" d="M0.00 0.00L-11.61 -2.79A11.94 11.94 0 0 1 -10.18 -6.24L0.00 0.00Z"/>
<path fill="#414487" d="M0.00 0.00L-7.13 -1.71A7.34 7.34 0 0 1 -6.26 -3.83L0.00 0.00Z"/>
<path fill="#440154" d="M0.00 0.00L-2.32 -0.56A2.39 2.39 0 0 1 -2.04 -1.25L0.00 0.00Z"/>
<path class="e" d="M0.00 0.00L-12.94 -3.11A13.31 13.31 0 0 1 -11.35 -6.95L0.00 0.00Z"/>
<path fill="#2a788e" d="M0.00 0.00L-8.78 -6.38A10.85 10.85 0 0 1 -6.38 -8.78L0.00 0.00Z"/>
<path fill="#414487" d="M0.00 0.00L-6.58 -4.78A8.14 8.14 0 0 1 -4.78 -6.58L0.00 0.00Z"/>
<path fill="#440154" d="M0.00 0.00L-1.65 -1.20A2.03 2.03 0 0 1 -1.20 -1.65L0.00 0.00Z"/>
<path class="e" d="M0.00 0.00L-8.78 -6.38A10.85 10.85 0 0 1 -6.38 -8.78L0.00 0.00Z"/>
<path fill="#414487" d="M0.00 0.00L-4.05 -6.61A7.75 7.75 0 0 1 -1.81 -7.53L0.00 0.00Z"/>
<path fill="#440154" d="M0.00 0.00L-1.32 -2.15A2.53 2.53 0 0 1 -0.59 -2.46L0.00 0.00Z"/>
<path class="e" d="M0.00 0.00L-4.05 -6.61A7.75 7.75 0 0 1 -1.81 -7.53L0.00 0.00Z"/>
</g>
<circle class="g" cx="0" cy="0" r="8.30"/><circle class="g" cx="0" cy="0" r="16.60"/><circle class="g" cx="0" cy="0" r="24.90"/><circle class="g" cx="0" cy="0" r="33.20"/><path class="g" d="M0 0L0.00 -41.50M0 0L29.34 -29.34M0 0L41.50 -0.00M0 0L29.34 29.34M0 0L0.00 41.50M0 0L-29.34 29.34M0 0L-41.50 0.00M0 0L-29.34 -29.34"/><circle class="o" cx="0" cy="0" r="41.50"/>
</g>
<text class="d" x="55.6" y="440.5">N</text>
<text class="d" x="88.0" y="454.4">NE</text>
<text class="d" x="102.3" y="488.1">E</text>
<text class="d" x="88.7" y="521.5">SE</text>
<text class="d" x="55.6" y="535.4">S</text>
<text class="d" x="22.3" y="521.5">SW</text>
<text class="d" x="9.7" y="488.1">W</text>
<text class="d" x="22.5" y="454.4">NW</text>
</g>
<g id="p2025">
<text class="y" x="153.4" y="431.8">2025</text>
<g transform="translate(153.0,485.5) scale(0.982,1)">
<g class="b">
<path fill="#414487" d="M0.00 0.00L-2.58 -16.26A16.47 16.47 0 0 1 2.58 -16.26L0.00 0.00Z"/>
<path fill="#440154" d="M0.00 0.00L-1.84 -11.62A11.76 11.76 0 0 1 1.84 -11.62L0.00 0.00Z"/>
<path class="e" d="M0.00 0.00L-2.58 -16.26A16.47 16.47 0 0 1 2.58 -16.26L0.00 0.00Z"/>
<path fill="#2a788e" d="M0.00 0.00L4.96 -20.64A21.23 21.23 0 0 1 11.09 -18.10L0.00 0.00Z"/>
<path fill="#414487" d="M0.00 0.00L4.72 -19.66A20.21 20.21 0 0 1 10.56 -17.24L0.00 0.00Z"/>
<path fill="#440154" d="M0.00 0.00L2.56 -10.65A10.95 10.95 0 0 1 5.72 -9.34L0.00 0.00Z"/>
<path class="e" d="M0.00 0.00L4.96 -20.64A21.23 21.23 0 0 1 11.09 -18.10L0.00 0.00Z"/>
<path fill="#414487" d="M0.00 0.00L17.84 -24.55A30.35 30.35 0 0 1 24.55 -17.84L0.00 0.00Z"/>
<path fill="#440154" d="M0.00 0.00L6.38 -8.78A10.85 10.85 0 0 1 8.78 -6.38L0.00 0.00Z"/>
<path class="e" d="M0.00 0.00L17.84 -24.55A30.35 30.35 0 0 1 24.55 -17.84L0.00 0.00Z"/>
<path fill="#2a788e" d="M0.00 0.00L35.21 -21.58A41.29 41.29 0 0 1 40.15 -9.64L0.00 0.00Z"/>
<path fill="#414487" d="M0.00 0.00L26.92 -16.49A31.57 31.57 0 0 1 30.70 -7.37L0.00 0.00Z"/>
<path fill="#440154" d="M0.00 0.00L9.60 -5.88A11.26 11.26 0 0 1 10.95 -2.63L0.00 0.00Z"/>
<path class="e" d="M0.00 0.00L35.21 -21.58A41.29 41.29 0 0 1 40.15 -9.64L0.00 0.00Z"/>
<path fill="#2a788e" d="M0.00 0.00L26.70 -4.23A27.03 27.03 0 0 1 26.70 4.23L0.00 0.00Z"/>
<path fill="#414487" d="M0.00 0.00L25.35 -4.01A25.66 25.66 0 0 1 25.35 4.01L0.00 0.00Z"/>
<path fill="#440154" d="M0.00 0.00L8.79 -1.39A8.90 8.90 0 0 1 8.79 1.39L0.00 0.00Z"/>
<path class="e" d="M0.00 0.00L26.70 -4.23A27.03 27.03 0 0 1 26.70 4.23L0.00 0.00Z"/>
<path fill="#22a884" d="M0.00 0.00L17.26 4.14A17.75 17.75 0 0 1 15.13 9.27L0.00 0.00Z"/>
<path fill="#2a788e" d="M0.00 0.00L16.26 3.90A16.72 16.72 0 0 1 14.26 8.74L0.00 0.00Z"/>
<path fill="#414487" d="M0.00 0.00L12.94 3.11A13.31 13.31 0 0 1 11.35 6.95L0.00 0.00Z"/>
<path fill="#440154" d="M0.00 0.00L4.15 1.00A4.27 4.27 0 0 1 3.64 2.23L0.00 0.00Z"/>
<path class="e" d="M0.00 0.00L17.26 4.14A17.75 17.75 0 0 1 15.13 9.27L0.00 0.00Z"/>
<path fill="#7ad151" d="M0.00 0.00L27.84 20.23A34.42 34.42 0 0 1 20.23 27.84L0.00 0.00Z"/>
<path fill="#22a884" d="M0.00 0.00L25.37 18.44A31.36 31.36 0 0 1 18.44 25.37L0.00 0.00Z"/>
<path fill="#2a788e" d="M0.00 0.00L18.52 13.45A22.89 22.89 0 0 1 13.45 18.52L0.00 0.00Z"/>
<path fill="#414487" d="M0.00 0.00L9.88 7.17A12.21 12.21 0 0 1 7.17 9.88L0.00 0.00Z"/>
<path fill="#440154" d="M0.00 0.00L2.74 1.99A3.39 3.39 0 0 1 1.99 2.74L0.00 0.00Z"/>
<path class="e" d="M0.00 0.00L27.84 20.23A34.42 34.42 0 0 1 20.23 27.84L0.00 0.00Z"/>
<path fill="#7ad151" d="M0.00 0.00L12.59 20.54A24.09 24.09 0 0 1 5.62 23.42L0.00 0.00Z"/>
<path fill="#22a884" d="M0.00 0.00L11.88 19.39A22.74 22.74 0 0 1 5.31 22.11L0.00 0.00Z"/>
<path fill="#2a788e" d="M0.00 0.00L9.86 16.09A18.87 18.87 0 0 1 4.40 18.35L0.00 0.00Z"/>
<path fill="#414487" d="M0.00 0.00L6.43 10.49A12.30 12.30 0 0 1 2.87 11.96L0.00 0.00Z"/>
<path fill="#440154" d="M0.00 0.00L1.58 2.59A3.03 3.03 0 0 1 0.71 2.95L0.00 0.00Z"/>
<path class="e" d="M0.00 0.00L12.59 20.54A24.09 24.09 0 0 1 5.62 23.42L0.00 0.00Z"/>
<path fill="#7ad151" d="M0.00 0.00L4.31 27.22A27.55 27.55 0 0 1 -4.31 27.22L0.00 0.00Z"/>
<path fill="#22a884" d="M0.00 0.00L4.15 26.22A26.55 26.55 0 0 1 -4.15 26.22L0.00 0.00Z"/>
<path fill="#2a788e" d="M0.00 0.00L3.42 21.57A21.84 21.84 0 0 1 -3.42 21.57L0.00 0.00Z"/>
<path fill="#414487" d="M0.00 0.00L2.00 12.61A12.77 12.77 0 0 1 -2.00 12.61L0.00 0.00Z"/>
<path fill="#440154" d="M0.00 0.00L0.47 2.99A3.02 3.02 0 0 1 -0.47 2.99L0.00 0.00Z"/>
<path class="e" d="M0.00 0.00L4.31 27.22A27.55 27.55 0 0 1 -4.31 27.22L0.00 0.00Z"/>
<path fill="#7ad151" d="M0.00 0.00L-7.47 31.12A32.01 32.01 0 0 1 -16.72 27.29L0.00 0.00Z"/>
<path fill="#22a884" d="M0.00 0.00L-6.88 28.67A29.48 29.48 0 0 1 -15.40 25.14L0.00 0.00Z"/>
<path fill="#2a788e" d="M0.00 0.00L-4.99 20.80A21.39 21.39 0 0 1 -11.18 18.24L0.00 0.00Z"/>
<path fill="#414487" d="M0.00 0.00L-2.99 12.45A12.80 12.80 0 0 1 -6.69 10.92L0.00 0.00Z"/>
<path fill="#440154" d="M0.00 0.00L-0.71 2.95A3.03 3.03 0 0 1 -1.58 2.59L0.00 0.00Z"/>
<path class="e" d="M0.00 0.00L-7.47 31.12A32.01 32.01 0 0 1 -16.72 27.29L0.00 0.00Z"/>
<path fill="#7ad151" d="M0.00 0.00L-23.42 32.23A39.84 39.84 0 0 1 -32.23 23.42L0.00 0.00Z"/>
<path fill="#22a884" d="M0.00 0.00L-21.92 30.17A37.30 37.30 0 0 1 -30.17 21.92L0.00 0.00Z"/>
<path fill="#2a788e" d="M0.00 0.00L-14.45 19.89A24.58 24.58 0 0 1 -19.89 14.45L0.00 0.00Z"/>
<path fill="#414487" d="M0.00 0.00L-7.87 10.84A13.39 13.39 0 0 1 -10.84 7.87L0.00 0.00Z"/>
<path fill="#440154" d="M0.00 0.00L-1.79 2.47A3.05 3.05 0 0 1 -2.47 1.79L0.00 0.00Z"/>
<path class="e" d="M0.00 0.00L-23.42 32.23A39.84 39.84 0 0 1 -32.23 23.42L0.00 0.00Z"/>
<path fill="#7ad151" d="M0.00 0.00L-29.83 18.28A34.98 34.98 0 0 1 -34.01 8.17L0.00 0.00Z"/>
<path fill="#22a884" d="M0.00 0.00L-28.37 17.39A33.27 33.27 0 0 1 -32.35 7.77L0.00 0.00Z"/>
<path fill="#2a788e" d="M0.00 0.00L-19.20 11.77A22.52 22.52 0 0 1 -21.90 5.26L0.00 0.00Z"/>
<path fill="#414487" d="M0.00 0.00L-11.35 6.95A13.31 13.31 0 0 1 -12.94 3.11L0.00 0.00Z"/>
<path fill="#440154" d="M0.00 0.00L-2.62 1.60A3.07 3.07 0 0 1 -2.99 0.72L0.00 0.00Z"/>
<path class="e" d="M0.00 0.00L-29.83 18.28A34.98 34.98 0 0 1 -34.01 8.17L0.00 0.00Z"/>
<path fill="#7ad151" d="M0.00 0.00L-26.19 4.15A26.52 26.52 0 0 1 -26.19 -4.15L0.00 0.00Z"/>
<path fill="#22a884" d="M0.00 0.00L-25.35 4.01A25.66 25.66 0 0 1 -25.35 -4.01L0.00 0.00Z"/>
<path fill="#2a788e" d="M0.00 0.00L-18.93 3.00A19.16 19.16 0 0 1 -18.93 -3.00L0.00 0.00Z"/>
<path fill="#414487" d="M0.00 0.00L-12.51 1.98A12.66 12.66 0 0 1 -12.51 -1.98L0.00 0.00Z"/>
<path fill="#440154" d="M0.00 0.00L-3.04 0.48A3.08 3.08 0 0 1 -3.04 -0.48L0.00 0.00Z"/>
<path class="e" d="M0.00 0.00L-26.19 4.15A26.52 26.52 0 0 1 -26.19 -4.15L0.00 0.00Z"/>
<path fill="#7ad151" d="M0.00 0.00L-20.91 -5.02A21.50 21.50 0 0 1 -18.33 -11.23L0.00 0.00Z"/>
<path fill="#22a884" d="M0.00 0.00L-20.41 -4.90A20.99 20.99 0 0 1 -17.90 -10.97L0.00 0.00Z"/>
<path fill="#2a788e" d="M0.00 0.00L-19.58 -4.70A20.13 20.13 0 0 1 -17.17 -10.52L0.00 0.00Z"/>
<path fill="#414487" d="M0.00 0.00L-12.44 -2.99A12.80 12.80 0 0 1 -10.91 -6.69L0.00 0.00Z"/>
<path fill="#440154" d="M0.00 0.00L-2.99 -0.72A3.07 3.07 0 0 1 -2.62 -1.60L0.00 0.00Z"/>
<path class="e" d="M0.00 0.00L-20.91 -5.02A21.50 21.50 0 0 1 -18.33 -11.23L0.00 0.00Z"/>
<path fill="#22a884" d="M0.00 0.00L-21.81 -15.84A26.96 26.96 0 0 1 -15.84 -21.81L0.00 0.00Z"/>
<path fill="#2a788e" d="M0.00 0.00L-20.85 -15.15A25.77 25.77 0 0 1 -15.15 -20.85L0.00 0.00Z"/>
<path fill="#414487" d="M0.00 0.00L-17.56 -12.76A21.70 21.70 0 0 1 -12.76 -17.56L0.00 0.00Z"/>
<path fill="#440154" d="M0.00 0.00L-3.29 -2.39A4.07 4.07 0 0 1 -2.39 -3.29L0.00 0.00Z"/>
<path class="e" d="M0.00 0.00L-21.81 -15.84A26.96 26.96 0 0 1 -15.84 -21.81L0.00 0.00Z"/>
<path fill="#414487" d="M0.00 0.00L-12.06 -19.68A23.08 23.08 0 0 1 -5.39 -22.44L0.00 0.00Z"/>
<path fill="#440154" d="M0.00 0.00L-5.46 -8.91A10.44 10.44 0 0 1 -2.44 -10.16L0.00 0.00Z"/>
<path class="e" d="M0.00 0.00L-12.06 -19.68A23.08 23.08 0 0 1 -5.39 -22.44L0.00 0.00Z"/>
</g>
<circle class="g" cx="0" cy="0" r="8.30"/><circle class="g" cx="0" cy="0" r="16.60"/><circle class="g" cx="0" cy="0" r="24.90"/><circle class="g" cx="0" cy="0" r="33.20"/><path class="g" d="M0 0L0.00 -41.50M0 0L29.34 -29.34M0 0L41.50 -0.00M0 0L29.34 29.34M0 0L0.00 41.50M0 0L-29.34 29.34M0 0L-41.50 0.00M0 0L-29.34 -29.34"/><circle class="o" cx="0" cy="0" r="41.50"/>
</g>
<text class="d" x="153.2" y="440.5">N</text>
<text class="d" x="185.6" y="454.4">NE</text>
<text class="d" x="199.9" y="488.1">E</text>
<text class="d" x="186.2" y="521.5">SE</text>
<text class="d" x="153.2" y="535.4">S</text>
<text class="d" x="119.9" y="521.5">SW</text>
<text class="d" x="107.3" y="488.1">W</text>
<text class="d" x="120.2" y="454.4">NW</text>
</g>
<rect x="262.2" y="431.8" width="75.2" height="83.6" rx="1.6" fill="#fff" stroke="#d4d4d4" stroke-width=".6"/>
<text class="l" x="265.7" y="440.7">Wind Speed (m/s)</text>
<rect x="265.0" y="447.05" width="15.6" height="5.5" fill="#440154" stroke="#222" stroke-width=".4"/>
<text class="l" x="286.9" y="452.50">[0.0 : 3.0)</text>
<rect x="265.0" y="458.73" width="15.6" height="5.5" fill="#414487" stroke="#222" stroke-width=".4"/>
<text class="l" x="286.9" y="464.18">[3.0 : 6.0)</text>
<rect x="265.0" y="470.41" width="15.6" height="5.5" fill="#2a788e" stroke="#222" stroke-width=".4"/>
<text class="l" x="286.9" y="475.86">[6.0 : 9.0)</text>
<rect x="265.0" y="482.09" width="15.6" height="5.5" fill="#22a884" stroke="#222" stroke-width=".4"/>
<text class="l" x="286.9" y="487.54">[9.0 : 12.0)</text>
<rect x="265.0" y="493.77" width="15.6" height="5.5" fill="#7ad151" stroke="#222" stroke-width=".4"/>
<text class="l" x="286.9" y="499.22">[12.0 : 18.0)</text>
<rect x="265.0" y="505.45" width="15.6" height="5.5" fill="#fde725" stroke="#222" stroke-width=".4"/>
<text class="l" x="286.9" y="510.90">&gt;18.0</text>
</svg></body></html>
